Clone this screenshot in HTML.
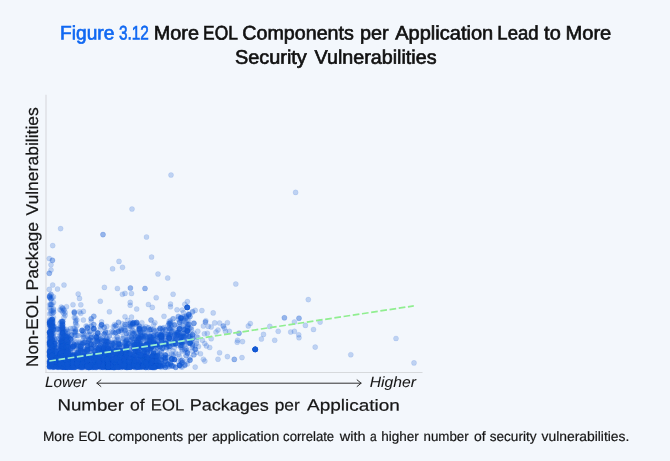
<!DOCTYPE html>
<html><head><meta charset="utf-8"><title>Figure 3.12</title>
<style>
html,body{margin:0;padding:0;background:#f3f7fc;}
svg{display:block;font-family:"Liberation Sans",sans-serif;will-change:transform;}
.ttl{fill:#111;stroke:#111;stroke-width:0.65px;}
.ttl.b{fill:#1068f2;stroke:#1068f2;}
.lab{fill:#161616;stroke:#161616;stroke-width:0.2px;}
.lab.it{stroke-width:0.05px;}
text{text-rendering:geometricPrecision;}
</style></head>
<body>
<svg width="670" height="461" viewBox="0 0 670 461">
<rect width="670" height="461" fill="#f3f7fc"/>
<path d="M46 94.8V373" stroke="#dcdee2" stroke-width="1.3" fill="none"/>
<path d="M45.35 372.5H422.5" stroke="#d6d9dc" stroke-width="1" fill="none"/>
<g fill="#1259d3" fill-opacity="0.235" stroke="#1259d3" stroke-opacity="0.13" stroke-width="0.7"><circle cx="171.0" cy="175.0" r="2.55"/><circle cx="132.0" cy="209.0" r="2.55"/><circle cx="60.6" cy="228.6" r="2.55"/><circle cx="103.0" cy="234.6" r="2.55"/><circle cx="103.0" cy="234.6" r="2.55"/><circle cx="146.5" cy="237.0" r="2.55"/><circle cx="52.7" cy="245.6" r="2.55"/><circle cx="151.6" cy="257.0" r="2.55"/><circle cx="49.3" cy="258.6" r="2.55"/><circle cx="52.4" cy="260.3" r="2.55"/><circle cx="52.4" cy="260.3" r="2.55"/><circle cx="119.0" cy="261.4" r="2.55"/><circle cx="51.0" cy="264.8" r="2.55"/><circle cx="122.5" cy="267.3" r="2.55"/><circle cx="112.6" cy="268.8" r="2.55"/><circle cx="51.0" cy="270.0" r="2.55"/><circle cx="49.3" cy="273.3" r="2.55"/><circle cx="49.3" cy="273.3" r="2.55"/><circle cx="158.0" cy="274.0" r="2.55"/><circle cx="167.7" cy="278.0" r="2.55"/><circle cx="52.7" cy="285.0" r="2.55"/><circle cx="64.0" cy="285.0" r="2.55"/><circle cx="104.4" cy="287.4" r="2.55"/><circle cx="117.4" cy="288.5" r="2.55"/><circle cx="130.4" cy="288.0" r="2.55"/><circle cx="130.4" cy="288.0" r="2.55"/><circle cx="145.0" cy="288.5" r="2.55"/><circle cx="145.0" cy="288.5" r="2.55"/><circle cx="57.5" cy="289.0" r="2.55"/><circle cx="49.3" cy="289.4" r="2.55"/><circle cx="295.6" cy="192.4" r="2.55"/><circle cx="235.8" cy="284.0" r="2.55"/><circle cx="308.3" cy="299.6" r="2.55"/><circle cx="187.2" cy="307.4" r="2.55"/><circle cx="187.2" cy="307.4" r="2.55"/><circle cx="187.2" cy="307.4" r="2.55"/><circle cx="187.2" cy="307.4" r="2.55"/><circle cx="187.2" cy="307.4" r="2.55"/><circle cx="187.2" cy="307.4" r="2.55"/><circle cx="187.2" cy="307.4" r="2.55"/><circle cx="187.2" cy="307.4" r="2.55"/><circle cx="188.8" cy="314.9" r="2.55"/><circle cx="188.8" cy="314.9" r="2.55"/><circle cx="188.8" cy="314.9" r="2.55"/><circle cx="188.8" cy="314.9" r="2.55"/><circle cx="195.2" cy="310.4" r="2.55"/><circle cx="201.9" cy="310.6" r="2.55"/><circle cx="213.2" cy="312.9" r="2.55"/><circle cx="181.0" cy="318.0" r="2.55"/><circle cx="181.0" cy="318.0" r="2.55"/><circle cx="181.0" cy="318.0" r="2.55"/><circle cx="181.0" cy="318.0" r="2.55"/><circle cx="181.0" cy="318.0" r="2.55"/><circle cx="181.0" cy="318.0" r="2.55"/><circle cx="284.4" cy="317.8" r="2.55"/><circle cx="284.4" cy="317.8" r="2.55"/><circle cx="299.0" cy="318.2" r="2.55"/><circle cx="299.0" cy="318.2" r="2.55"/><circle cx="205.4" cy="322.0" r="2.55"/><circle cx="205.4" cy="322.0" r="2.55"/><circle cx="205.8" cy="320.7" r="2.55"/><circle cx="214.7" cy="322.9" r="2.55"/><circle cx="219.6" cy="323.0" r="2.55"/><circle cx="227.4" cy="322.7" r="2.55"/><circle cx="250.3" cy="323.5" r="2.55"/><circle cx="248.3" cy="326.0" r="2.55"/><circle cx="294.4" cy="322.0" r="2.55"/><circle cx="203.4" cy="326.0" r="2.55"/><circle cx="208.3" cy="326.4" r="2.55"/><circle cx="211.2" cy="327.0" r="2.55"/><circle cx="223.3" cy="326.0" r="2.55"/><circle cx="223.3" cy="326.0" r="2.55"/><circle cx="224.5" cy="328.3" r="2.55"/><circle cx="269.8" cy="326.4" r="2.55"/><circle cx="305.4" cy="325.4" r="2.55"/><circle cx="187.2" cy="330.9" r="2.55"/><circle cx="187.2" cy="330.9" r="2.55"/><circle cx="187.2" cy="330.9" r="2.55"/><circle cx="187.2" cy="330.9" r="2.55"/><circle cx="187.2" cy="330.9" r="2.55"/><circle cx="187.2" cy="330.9" r="2.55"/><circle cx="187.2" cy="330.9" r="2.55"/><circle cx="187.2" cy="330.9" r="2.55"/><circle cx="218.0" cy="330.0" r="2.55"/><circle cx="216.0" cy="332.0" r="2.55"/><circle cx="225.5" cy="331.3" r="2.55"/><circle cx="229.4" cy="331.3" r="2.55"/><circle cx="278.2" cy="331.3" r="2.55"/><circle cx="290.7" cy="332.0" r="2.55"/><circle cx="294.4" cy="331.3" r="2.55"/><circle cx="239.0" cy="333.2" r="2.55"/><circle cx="239.0" cy="333.2" r="2.55"/><circle cx="263.5" cy="334.4" r="2.55"/><circle cx="298.7" cy="334.8" r="2.55"/><circle cx="299.0" cy="337.7" r="2.55"/><circle cx="204.4" cy="333.8" r="2.55"/><circle cx="207.3" cy="333.2" r="2.55"/><circle cx="196.6" cy="336.7" r="2.55"/><circle cx="211.2" cy="338.7" r="2.55"/><circle cx="261.4" cy="339.0" r="2.55"/><circle cx="274.7" cy="340.2" r="2.55"/><circle cx="237.6" cy="340.2" r="2.55"/><circle cx="237.2" cy="342.2" r="2.55"/><circle cx="242.5" cy="341.6" r="2.55"/><circle cx="202.4" cy="340.2" r="2.55"/><circle cx="204.8" cy="343.6" r="2.55"/><circle cx="206.4" cy="345.9" r="2.55"/><circle cx="209.7" cy="347.5" r="2.55"/><circle cx="198.5" cy="346.5" r="2.55"/><circle cx="192.1" cy="347.5" r="2.55"/><circle cx="255.2" cy="349.4" r="2.55"/><circle cx="255.2" cy="349.4" r="2.55"/><circle cx="255.2" cy="349.4" r="2.55"/><circle cx="255.2" cy="349.4" r="2.55"/><circle cx="255.2" cy="349.4" r="2.55"/><circle cx="255.2" cy="349.4" r="2.55"/><circle cx="255.2" cy="349.4" r="2.55"/><circle cx="255.2" cy="349.4" r="2.55"/><circle cx="255.2" cy="349.4" r="2.55"/><circle cx="255.2" cy="349.4" r="2.55"/><circle cx="255.2" cy="349.4" r="2.55"/><circle cx="255.2" cy="349.4" r="2.55"/><circle cx="255.2" cy="349.4" r="2.55"/><circle cx="255.2" cy="349.4" r="2.55"/><circle cx="219.6" cy="352.7" r="2.55"/><circle cx="200.5" cy="353.7" r="2.55"/><circle cx="227.4" cy="356.6" r="2.55"/><circle cx="242.0" cy="357.6" r="2.55"/><circle cx="234.3" cy="359.4" r="2.55"/><circle cx="234.3" cy="359.4" r="2.55"/><circle cx="218.0" cy="359.2" r="2.55"/><circle cx="203.4" cy="359.2" r="2.55"/><circle cx="204.8" cy="361.1" r="2.55"/><circle cx="187.2" cy="361.1" r="2.55"/><circle cx="320.1" cy="322.1" r="2.55"/><circle cx="313.5" cy="329.5" r="2.55"/><circle cx="315.2" cy="347.1" r="2.55"/><circle cx="350.8" cy="354.7" r="2.55"/><circle cx="396.0" cy="338.5" r="2.55"/><circle cx="414.0" cy="362.9" r="2.55"/><circle cx="97.7" cy="359.9" r="2.55"/><circle cx="60.0" cy="363.5" r="2.55"/><circle cx="58.7" cy="367.2" r="2.55"/><circle cx="113.3" cy="366.9" r="2.55"/><circle cx="112.0" cy="366.6" r="2.55"/><circle cx="82.1" cy="344.4" r="2.55"/><circle cx="82.1" cy="344.4" r="2.55"/><circle cx="134.1" cy="345.1" r="2.55"/><circle cx="56.1" cy="364.4" r="2.55"/><circle cx="56.1" cy="364.4" r="2.55"/><circle cx="56.1" cy="364.4" r="2.55"/><circle cx="56.1" cy="364.4" r="2.55"/><circle cx="70.4" cy="364.4" r="2.55"/><circle cx="135.4" cy="364.7" r="2.55"/><circle cx="135.4" cy="364.7" r="2.55"/><circle cx="130.2" cy="367.1" r="2.55"/><circle cx="79.5" cy="363.1" r="2.55"/><circle cx="96.4" cy="363.1" r="2.55"/><circle cx="93.8" cy="358.7" r="2.55"/><circle cx="93.8" cy="358.7" r="2.55"/><circle cx="93.8" cy="358.7" r="2.55"/><circle cx="86.0" cy="361.8" r="2.55"/><circle cx="86.0" cy="361.8" r="2.55"/><circle cx="86.0" cy="361.8" r="2.55"/><circle cx="86.0" cy="361.8" r="2.55"/><circle cx="86.0" cy="361.8" r="2.55"/><circle cx="92.5" cy="366.6" r="2.55"/><circle cx="92.5" cy="366.6" r="2.55"/><circle cx="110.7" cy="366.4" r="2.55"/><circle cx="121.1" cy="360.7" r="2.55"/><circle cx="135.4" cy="356.5" r="2.55"/><circle cx="147.1" cy="360.2" r="2.55"/><circle cx="106.8" cy="367.3" r="2.55"/><circle cx="117.2" cy="366.7" r="2.55"/><circle cx="117.2" cy="366.7" r="2.55"/><circle cx="58.7" cy="366.3" r="2.55"/><circle cx="86.0" cy="351.8" r="2.55"/><circle cx="61.3" cy="360.5" r="2.55"/><circle cx="110.7" cy="353.3" r="2.55"/><circle cx="110.7" cy="353.3" r="2.55"/><circle cx="110.7" cy="353.3" r="2.55"/><circle cx="110.7" cy="353.3" r="2.55"/><circle cx="110.7" cy="353.3" r="2.55"/><circle cx="75.6" cy="365.3" r="2.55"/><circle cx="75.6" cy="365.3" r="2.55"/><circle cx="121.1" cy="365.6" r="2.55"/><circle cx="121.1" cy="365.6" r="2.55"/><circle cx="49.6" cy="363.4" r="2.55"/><circle cx="151.0" cy="361.7" r="2.55"/><circle cx="151.0" cy="361.7" r="2.55"/><circle cx="151.0" cy="361.7" r="2.55"/><circle cx="149.7" cy="353.7" r="2.55"/><circle cx="108.1" cy="360.7" r="2.55"/><circle cx="58.7" cy="365.4" r="2.55"/><circle cx="58.7" cy="365.4" r="2.55"/><circle cx="58.7" cy="365.4" r="2.55"/><circle cx="73.0" cy="367.1" r="2.55"/><circle cx="49.6" cy="366.5" r="2.55"/><circle cx="49.6" cy="366.5" r="2.55"/><circle cx="49.6" cy="366.5" r="2.55"/><circle cx="49.6" cy="366.5" r="2.55"/><circle cx="102.9" cy="353.1" r="2.55"/><circle cx="140.6" cy="365.8" r="2.55"/><circle cx="140.6" cy="365.8" r="2.55"/><circle cx="140.6" cy="365.8" r="2.55"/><circle cx="140.6" cy="365.8" r="2.55"/><circle cx="140.6" cy="365.8" r="2.55"/><circle cx="100.3" cy="366.6" r="2.55"/><circle cx="100.3" cy="366.6" r="2.55"/><circle cx="118.5" cy="366.9" r="2.55"/><circle cx="118.5" cy="366.9" r="2.55"/><circle cx="118.5" cy="366.9" r="2.55"/><circle cx="65.2" cy="364.9" r="2.55"/><circle cx="65.2" cy="364.9" r="2.55"/><circle cx="53.5" cy="360.7" r="2.55"/><circle cx="53.5" cy="360.7" r="2.55"/><circle cx="53.5" cy="360.7" r="2.55"/><circle cx="53.5" cy="360.7" r="2.55"/><circle cx="53.5" cy="360.7" r="2.55"/><circle cx="71.7" cy="367.3" r="2.55"/><circle cx="88.6" cy="366.1" r="2.55"/><circle cx="88.6" cy="366.1" r="2.55"/><circle cx="82.1" cy="334.7" r="2.55"/><circle cx="83.4" cy="364.1" r="2.55"/><circle cx="53.5" cy="364.6" r="2.55"/><circle cx="87.3" cy="343.7" r="2.55"/><circle cx="102.9" cy="365.7" r="2.55"/><circle cx="102.9" cy="365.7" r="2.55"/><circle cx="102.9" cy="365.7" r="2.55"/><circle cx="78.2" cy="359.7" r="2.55"/><circle cx="78.2" cy="359.7" r="2.55"/><circle cx="78.2" cy="359.7" r="2.55"/><circle cx="78.2" cy="359.7" r="2.55"/><circle cx="78.2" cy="359.7" r="2.55"/><circle cx="119.8" cy="357.5" r="2.55"/><circle cx="119.8" cy="357.5" r="2.55"/><circle cx="62.6" cy="346.6" r="2.55"/><circle cx="62.6" cy="346.6" r="2.55"/><circle cx="119.8" cy="357.8" r="2.55"/><circle cx="99.0" cy="342.1" r="2.55"/><circle cx="108.1" cy="347.8" r="2.55"/><circle cx="156.2" cy="366.2" r="2.55"/><circle cx="156.2" cy="366.2" r="2.55"/><circle cx="156.2" cy="366.2" r="2.55"/><circle cx="71.7" cy="353.9" r="2.55"/><circle cx="71.7" cy="334.9" r="2.55"/><circle cx="71.7" cy="334.9" r="2.55"/><circle cx="147.1" cy="362.7" r="2.55"/><circle cx="69.1" cy="337.8" r="2.55"/><circle cx="145.8" cy="351.2" r="2.55"/><circle cx="113.3" cy="356.1" r="2.55"/><circle cx="80.8" cy="364.8" r="2.55"/><circle cx="80.8" cy="364.8" r="2.55"/><circle cx="80.8" cy="364.8" r="2.55"/><circle cx="80.8" cy="364.8" r="2.55"/><circle cx="84.7" cy="365.2" r="2.55"/><circle cx="84.7" cy="365.2" r="2.55"/><circle cx="112.0" cy="351.6" r="2.55"/><circle cx="112.0" cy="351.6" r="2.55"/><circle cx="101.6" cy="361.4" r="2.55"/><circle cx="127.6" cy="367.4" r="2.55"/><circle cx="127.6" cy="367.4" r="2.55"/><circle cx="127.6" cy="367.4" r="2.55"/><circle cx="114.6" cy="367.5" r="2.55"/><circle cx="114.6" cy="367.5" r="2.55"/><circle cx="114.6" cy="367.5" r="2.55"/><circle cx="119.8" cy="362.4" r="2.55"/><circle cx="97.7" cy="361.7" r="2.55"/><circle cx="165.3" cy="360.8" r="2.55"/><circle cx="165.3" cy="360.8" r="2.55"/><circle cx="86.0" cy="356.2" r="2.55"/><circle cx="86.0" cy="356.2" r="2.55"/><circle cx="86.0" cy="356.2" r="2.55"/><circle cx="86.0" cy="356.2" r="2.55"/><circle cx="86.0" cy="356.2" r="2.55"/><circle cx="86.0" cy="356.2" r="2.55"/><circle cx="125.0" cy="358.9" r="2.55"/><circle cx="125.0" cy="358.9" r="2.55"/><circle cx="139.3" cy="363.2" r="2.55"/><circle cx="139.3" cy="363.2" r="2.55"/><circle cx="139.3" cy="363.2" r="2.55"/><circle cx="152.3" cy="362.9" r="2.55"/><circle cx="67.8" cy="366.9" r="2.55"/><circle cx="84.7" cy="359.0" r="2.55"/><circle cx="73.0" cy="358.6" r="2.55"/><circle cx="70.4" cy="339.0" r="2.55"/><circle cx="70.4" cy="339.0" r="2.55"/><circle cx="70.4" cy="339.0" r="2.55"/><circle cx="82.1" cy="363.5" r="2.55"/><circle cx="113.3" cy="364.8" r="2.55"/><circle cx="78.2" cy="357.3" r="2.55"/><circle cx="78.2" cy="357.3" r="2.55"/><circle cx="52.2" cy="362.3" r="2.55"/><circle cx="52.2" cy="358.7" r="2.55"/><circle cx="125.0" cy="342.3" r="2.55"/><circle cx="65.2" cy="367.2" r="2.55"/><circle cx="65.2" cy="367.2" r="2.55"/><circle cx="69.1" cy="347.1" r="2.55"/><circle cx="71.7" cy="360.5" r="2.55"/><circle cx="152.3" cy="367.0" r="2.55"/><circle cx="151.0" cy="367.0" r="2.55"/><circle cx="167.9" cy="353.6" r="2.55"/><circle cx="60.0" cy="362.2" r="2.55"/><circle cx="99.0" cy="349.0" r="2.55"/><circle cx="99.0" cy="349.0" r="2.55"/><circle cx="88.6" cy="361.9" r="2.55"/><circle cx="84.7" cy="366.1" r="2.55"/><circle cx="57.4" cy="364.2" r="2.55"/><circle cx="57.4" cy="364.2" r="2.55"/><circle cx="95.1" cy="365.0" r="2.55"/><circle cx="123.7" cy="364.9" r="2.55"/><circle cx="52.2" cy="367.4" r="2.55"/><circle cx="76.9" cy="345.6" r="2.55"/><circle cx="65.2" cy="362.7" r="2.55"/><circle cx="122.4" cy="364.5" r="2.55"/><circle cx="122.4" cy="364.5" r="2.55"/><circle cx="100.3" cy="358.8" r="2.55"/><circle cx="143.2" cy="364.9" r="2.55"/><circle cx="57.4" cy="366.8" r="2.55"/><circle cx="57.4" cy="366.8" r="2.55"/><circle cx="158.8" cy="365.7" r="2.55"/><circle cx="62.6" cy="349.7" r="2.55"/><circle cx="62.6" cy="349.7" r="2.55"/><circle cx="148.4" cy="365.8" r="2.55"/><circle cx="148.4" cy="365.8" r="2.55"/><circle cx="92.5" cy="366.2" r="2.55"/><circle cx="92.5" cy="366.2" r="2.55"/><circle cx="115.9" cy="346.6" r="2.55"/><circle cx="86.0" cy="364.7" r="2.55"/><circle cx="86.0" cy="364.7" r="2.55"/><circle cx="101.6" cy="364.1" r="2.55"/><circle cx="119.8" cy="366.1" r="2.55"/><circle cx="123.7" cy="365.6" r="2.55"/><circle cx="62.6" cy="367.1" r="2.55"/><circle cx="62.6" cy="367.1" r="2.55"/><circle cx="62.6" cy="367.1" r="2.55"/><circle cx="62.6" cy="367.1" r="2.55"/><circle cx="53.5" cy="365.1" r="2.55"/><circle cx="53.5" cy="365.1" r="2.55"/><circle cx="53.5" cy="365.1" r="2.55"/><circle cx="135.4" cy="359.2" r="2.55"/><circle cx="97.7" cy="366.3" r="2.55"/><circle cx="97.7" cy="366.3" r="2.55"/><circle cx="56.1" cy="347.6" r="2.55"/><circle cx="56.1" cy="347.6" r="2.55"/><circle cx="141.9" cy="357.5" r="2.55"/><circle cx="141.9" cy="357.5" r="2.55"/><circle cx="141.9" cy="357.5" r="2.55"/><circle cx="70.4" cy="361.6" r="2.55"/><circle cx="152.3" cy="367.2" r="2.55"/><circle cx="69.1" cy="366.6" r="2.55"/><circle cx="69.1" cy="366.6" r="2.55"/><circle cx="141.9" cy="360.7" r="2.55"/><circle cx="141.9" cy="360.7" r="2.55"/><circle cx="141.9" cy="360.7" r="2.55"/><circle cx="121.1" cy="357.7" r="2.55"/><circle cx="128.9" cy="367.1" r="2.55"/><circle cx="158.8" cy="366.3" r="2.55"/><circle cx="88.6" cy="365.8" r="2.55"/><circle cx="122.4" cy="363.5" r="2.55"/><circle cx="122.4" cy="363.5" r="2.55"/><circle cx="122.4" cy="363.5" r="2.55"/><circle cx="140.6" cy="367.0" r="2.55"/><circle cx="140.6" cy="367.0" r="2.55"/><circle cx="140.6" cy="367.0" r="2.55"/><circle cx="140.6" cy="367.0" r="2.55"/><circle cx="71.7" cy="356.2" r="2.55"/><circle cx="95.1" cy="367.4" r="2.55"/><circle cx="95.1" cy="367.4" r="2.55"/><circle cx="58.7" cy="357.6" r="2.55"/><circle cx="92.5" cy="362.9" r="2.55"/><circle cx="118.5" cy="353.4" r="2.55"/><circle cx="118.5" cy="353.4" r="2.55"/><circle cx="118.5" cy="353.4" r="2.55"/><circle cx="79.5" cy="345.6" r="2.55"/><circle cx="52.2" cy="352.1" r="2.55"/><circle cx="88.6" cy="345.6" r="2.55"/><circle cx="80.8" cy="366.3" r="2.55"/><circle cx="80.8" cy="366.3" r="2.55"/><circle cx="80.8" cy="366.3" r="2.55"/><circle cx="69.1" cy="361.5" r="2.55"/><circle cx="69.1" cy="361.5" r="2.55"/><circle cx="83.4" cy="362.3" r="2.55"/><circle cx="83.4" cy="362.3" r="2.55"/><circle cx="83.4" cy="362.3" r="2.55"/><circle cx="83.4" cy="362.3" r="2.55"/><circle cx="53.5" cy="361.4" r="2.55"/><circle cx="53.5" cy="361.4" r="2.55"/><circle cx="115.9" cy="366.5" r="2.55"/><circle cx="100.3" cy="354.6" r="2.55"/><circle cx="49.6" cy="351.1" r="2.55"/><circle cx="67.8" cy="356.9" r="2.55"/><circle cx="136.7" cy="364.1" r="2.55"/><circle cx="136.7" cy="364.1" r="2.55"/><circle cx="89.9" cy="366.7" r="2.55"/><circle cx="89.9" cy="366.7" r="2.55"/><circle cx="89.9" cy="366.7" r="2.55"/><circle cx="88.6" cy="365.9" r="2.55"/><circle cx="104.2" cy="352.7" r="2.55"/><circle cx="104.2" cy="352.7" r="2.55"/><circle cx="104.2" cy="352.7" r="2.55"/><circle cx="104.2" cy="352.7" r="2.55"/><circle cx="130.2" cy="367.2" r="2.55"/><circle cx="91.2" cy="348.1" r="2.55"/><circle cx="67.8" cy="364.0" r="2.55"/><circle cx="93.8" cy="340.0" r="2.55"/><circle cx="87.3" cy="364.8" r="2.55"/><circle cx="131.5" cy="366.4" r="2.55"/><circle cx="131.5" cy="366.4" r="2.55"/><circle cx="73.0" cy="348.1" r="2.55"/><circle cx="122.4" cy="353.1" r="2.55"/><circle cx="122.4" cy="353.1" r="2.55"/><circle cx="70.4" cy="366.7" r="2.55"/><circle cx="100.3" cy="365.6" r="2.55"/><circle cx="87.3" cy="350.9" r="2.55"/><circle cx="87.3" cy="350.9" r="2.55"/><circle cx="110.7" cy="364.4" r="2.55"/><circle cx="99.0" cy="365.2" r="2.55"/><circle cx="123.7" cy="355.5" r="2.55"/><circle cx="80.8" cy="365.3" r="2.55"/><circle cx="108.1" cy="346.9" r="2.55"/><circle cx="52.2" cy="356.4" r="2.55"/><circle cx="52.2" cy="356.4" r="2.55"/><circle cx="136.7" cy="364.5" r="2.55"/><circle cx="86.0" cy="366.2" r="2.55"/><circle cx="126.3" cy="350.5" r="2.55"/><circle cx="131.5" cy="358.4" r="2.55"/><circle cx="131.5" cy="358.4" r="2.55"/><circle cx="83.4" cy="359.5" r="2.55"/><circle cx="93.8" cy="365.4" r="2.55"/><circle cx="143.2" cy="366.8" r="2.55"/><circle cx="60.0" cy="359.8" r="2.55"/><circle cx="106.8" cy="361.3" r="2.55"/><circle cx="106.8" cy="361.3" r="2.55"/><circle cx="50.9" cy="361.9" r="2.55"/><circle cx="84.7" cy="342.4" r="2.55"/><circle cx="84.7" cy="342.4" r="2.55"/><circle cx="84.7" cy="342.4" r="2.55"/><circle cx="153.6" cy="367.2" r="2.55"/><circle cx="123.7" cy="364.2" r="2.55"/><circle cx="87.3" cy="347.8" r="2.55"/><circle cx="87.3" cy="347.8" r="2.55"/><circle cx="83.4" cy="364.3" r="2.55"/><circle cx="83.4" cy="364.3" r="2.55"/><circle cx="112.0" cy="366.0" r="2.55"/><circle cx="112.0" cy="366.0" r="2.55"/><circle cx="112.0" cy="366.0" r="2.55"/><circle cx="123.7" cy="346.3" r="2.55"/><circle cx="123.7" cy="346.3" r="2.55"/><circle cx="123.7" cy="346.3" r="2.55"/><circle cx="95.1" cy="365.6" r="2.55"/><circle cx="82.1" cy="364.8" r="2.55"/><circle cx="76.9" cy="363.2" r="2.55"/><circle cx="71.7" cy="365.5" r="2.55"/><circle cx="57.4" cy="363.1" r="2.55"/><circle cx="76.9" cy="356.4" r="2.55"/><circle cx="54.8" cy="363.2" r="2.55"/><circle cx="54.8" cy="363.2" r="2.55"/><circle cx="54.8" cy="363.2" r="2.55"/><circle cx="104.2" cy="366.2" r="2.55"/><circle cx="104.2" cy="366.2" r="2.55"/><circle cx="49.6" cy="363.6" r="2.55"/><circle cx="101.6" cy="355.5" r="2.55"/><circle cx="113.3" cy="363.3" r="2.55"/><circle cx="104.2" cy="366.0" r="2.55"/><circle cx="102.9" cy="367.3" r="2.55"/><circle cx="102.9" cy="367.3" r="2.55"/><circle cx="102.9" cy="367.3" r="2.55"/><circle cx="110.7" cy="357.8" r="2.55"/><circle cx="56.1" cy="366.9" r="2.55"/><circle cx="56.1" cy="366.9" r="2.55"/><circle cx="140.6" cy="359.9" r="2.55"/><circle cx="96.4" cy="367.5" r="2.55"/><circle cx="53.5" cy="361.7" r="2.55"/><circle cx="53.5" cy="361.7" r="2.55"/><circle cx="106.8" cy="363.7" r="2.55"/><circle cx="76.9" cy="356.7" r="2.55"/><circle cx="139.3" cy="365.2" r="2.55"/><circle cx="139.3" cy="365.2" r="2.55"/><circle cx="102.9" cy="366.9" r="2.55"/><circle cx="78.2" cy="365.2" r="2.55"/><circle cx="78.2" cy="365.2" r="2.55"/><circle cx="58.7" cy="360.4" r="2.55"/><circle cx="97.7" cy="352.1" r="2.55"/><circle cx="62.6" cy="361.5" r="2.55"/><circle cx="153.6" cy="365.6" r="2.55"/><circle cx="153.6" cy="365.6" r="2.55"/><circle cx="110.7" cy="360.1" r="2.55"/><circle cx="110.7" cy="360.1" r="2.55"/><circle cx="147.1" cy="356.5" r="2.55"/><circle cx="92.5" cy="364.1" r="2.55"/><circle cx="92.5" cy="364.1" r="2.55"/><circle cx="158.8" cy="365.1" r="2.55"/><circle cx="158.8" cy="365.1" r="2.55"/><circle cx="158.8" cy="365.1" r="2.55"/><circle cx="86.0" cy="350.9" r="2.55"/><circle cx="135.4" cy="364.5" r="2.55"/><circle cx="83.4" cy="359.3" r="2.55"/><circle cx="83.4" cy="359.3" r="2.55"/><circle cx="83.4" cy="359.3" r="2.55"/><circle cx="119.8" cy="356.1" r="2.55"/><circle cx="92.5" cy="365.9" r="2.55"/><circle cx="92.5" cy="365.9" r="2.55"/><circle cx="87.3" cy="345.4" r="2.55"/><circle cx="87.3" cy="345.4" r="2.55"/><circle cx="87.3" cy="345.4" r="2.55"/><circle cx="65.2" cy="359.2" r="2.55"/><circle cx="65.2" cy="359.2" r="2.55"/><circle cx="65.2" cy="359.2" r="2.55"/><circle cx="82.1" cy="366.3" r="2.55"/><circle cx="82.1" cy="366.3" r="2.55"/><circle cx="79.5" cy="360.2" r="2.55"/><circle cx="79.5" cy="360.2" r="2.55"/><circle cx="145.8" cy="367.4" r="2.55"/><circle cx="145.8" cy="367.4" r="2.55"/><circle cx="145.8" cy="367.4" r="2.55"/><circle cx="97.7" cy="366.0" r="2.55"/><circle cx="97.7" cy="366.0" r="2.55"/><circle cx="97.7" cy="366.0" r="2.55"/><circle cx="97.7" cy="366.0" r="2.55"/><circle cx="95.1" cy="356.0" r="2.55"/><circle cx="95.1" cy="356.0" r="2.55"/><circle cx="95.1" cy="356.0" r="2.55"/><circle cx="130.2" cy="366.9" r="2.55"/><circle cx="108.1" cy="360.6" r="2.55"/><circle cx="62.6" cy="357.2" r="2.55"/><circle cx="109.4" cy="365.1" r="2.55"/><circle cx="132.8" cy="364.3" r="2.55"/><circle cx="102.9" cy="358.5" r="2.55"/><circle cx="102.9" cy="358.5" r="2.55"/><circle cx="79.5" cy="349.1" r="2.55"/><circle cx="112.0" cy="364.1" r="2.55"/><circle cx="73.0" cy="360.9" r="2.55"/><circle cx="73.0" cy="360.9" r="2.55"/><circle cx="73.0" cy="360.9" r="2.55"/><circle cx="62.6" cy="363.5" r="2.55"/><circle cx="62.6" cy="363.5" r="2.55"/><circle cx="123.7" cy="365.5" r="2.55"/><circle cx="65.2" cy="353.5" r="2.55"/><circle cx="65.2" cy="353.5" r="2.55"/><circle cx="65.2" cy="353.5" r="2.55"/><circle cx="67.8" cy="336.2" r="2.55"/><circle cx="67.8" cy="336.2" r="2.55"/><circle cx="121.1" cy="351.4" r="2.55"/><circle cx="121.1" cy="351.4" r="2.55"/><circle cx="106.8" cy="360.9" r="2.55"/><circle cx="106.8" cy="360.9" r="2.55"/><circle cx="106.8" cy="360.9" r="2.55"/><circle cx="109.4" cy="355.7" r="2.55"/><circle cx="109.4" cy="355.7" r="2.55"/><circle cx="109.4" cy="355.7" r="2.55"/><circle cx="76.9" cy="363.4" r="2.55"/><circle cx="126.3" cy="366.7" r="2.55"/><circle cx="86.0" cy="350.0" r="2.55"/><circle cx="86.0" cy="350.0" r="2.55"/><circle cx="56.1" cy="354.8" r="2.55"/><circle cx="54.8" cy="366.4" r="2.55"/><circle cx="138.0" cy="361.6" r="2.55"/><circle cx="95.1" cy="361.1" r="2.55"/><circle cx="95.1" cy="361.1" r="2.55"/><circle cx="95.1" cy="361.1" r="2.55"/><circle cx="95.1" cy="361.1" r="2.55"/><circle cx="95.1" cy="361.1" r="2.55"/><circle cx="112.0" cy="363.6" r="2.55"/><circle cx="114.6" cy="361.3" r="2.55"/><circle cx="122.4" cy="358.6" r="2.55"/><circle cx="122.4" cy="358.6" r="2.55"/><circle cx="122.4" cy="358.6" r="2.55"/><circle cx="122.4" cy="358.6" r="2.55"/><circle cx="75.6" cy="366.6" r="2.55"/><circle cx="69.1" cy="366.7" r="2.55"/><circle cx="114.6" cy="367.2" r="2.55"/><circle cx="114.6" cy="367.2" r="2.55"/><circle cx="114.6" cy="367.2" r="2.55"/><circle cx="143.2" cy="359.6" r="2.55"/><circle cx="57.4" cy="363.3" r="2.55"/><circle cx="78.2" cy="362.1" r="2.55"/><circle cx="78.2" cy="362.1" r="2.55"/><circle cx="74.3" cy="345.7" r="2.55"/><circle cx="74.3" cy="345.7" r="2.55"/><circle cx="58.7" cy="355.1" r="2.55"/><circle cx="58.7" cy="355.1" r="2.55"/><circle cx="73.0" cy="364.9" r="2.55"/><circle cx="80.8" cy="361.9" r="2.55"/><circle cx="80.8" cy="361.9" r="2.55"/><circle cx="96.4" cy="366.0" r="2.55"/><circle cx="73.0" cy="358.2" r="2.55"/><circle cx="73.0" cy="358.2" r="2.55"/><circle cx="73.0" cy="358.2" r="2.55"/><circle cx="73.0" cy="358.2" r="2.55"/><circle cx="165.3" cy="361.2" r="2.55"/><circle cx="165.3" cy="361.2" r="2.55"/><circle cx="143.2" cy="355.1" r="2.55"/><circle cx="131.5" cy="354.7" r="2.55"/><circle cx="65.2" cy="359.0" r="2.55"/><circle cx="108.1" cy="365.4" r="2.55"/><circle cx="102.9" cy="363.4" r="2.55"/><circle cx="102.9" cy="363.4" r="2.55"/><circle cx="75.6" cy="367.1" r="2.55"/><circle cx="135.4" cy="365.3" r="2.55"/><circle cx="49.6" cy="366.0" r="2.55"/><circle cx="140.6" cy="363.2" r="2.55"/><circle cx="140.6" cy="363.2" r="2.55"/><circle cx="83.4" cy="367.3" r="2.55"/><circle cx="49.6" cy="366.5" r="2.55"/><circle cx="101.6" cy="361.4" r="2.55"/><circle cx="136.7" cy="361.6" r="2.55"/><circle cx="136.7" cy="361.6" r="2.55"/><circle cx="119.8" cy="350.3" r="2.55"/><circle cx="86.0" cy="366.7" r="2.55"/><circle cx="88.6" cy="359.7" r="2.55"/><circle cx="132.8" cy="361.3" r="2.55"/><circle cx="157.5" cy="352.8" r="2.55"/><circle cx="157.5" cy="352.8" r="2.55"/><circle cx="56.1" cy="362.8" r="2.55"/><circle cx="56.1" cy="362.8" r="2.55"/><circle cx="56.1" cy="362.8" r="2.55"/><circle cx="84.7" cy="355.8" r="2.55"/><circle cx="84.7" cy="355.8" r="2.55"/><circle cx="84.7" cy="355.8" r="2.55"/><circle cx="50.9" cy="342.0" r="2.55"/><circle cx="50.9" cy="342.0" r="2.55"/><circle cx="70.4" cy="359.7" r="2.55"/><circle cx="123.7" cy="357.4" r="2.55"/><circle cx="123.7" cy="357.4" r="2.55"/><circle cx="75.6" cy="364.6" r="2.55"/><circle cx="56.1" cy="353.9" r="2.55"/><circle cx="154.9" cy="356.0" r="2.55"/><circle cx="154.9" cy="356.0" r="2.55"/><circle cx="83.4" cy="365.4" r="2.55"/><circle cx="54.8" cy="355.1" r="2.55"/><circle cx="154.9" cy="362.4" r="2.55"/><circle cx="113.3" cy="362.7" r="2.55"/><circle cx="88.6" cy="342.1" r="2.55"/><circle cx="82.1" cy="367.4" r="2.55"/><circle cx="88.6" cy="357.2" r="2.55"/><circle cx="88.6" cy="357.2" r="2.55"/><circle cx="88.6" cy="357.2" r="2.55"/><circle cx="88.6" cy="357.2" r="2.55"/><circle cx="88.6" cy="357.2" r="2.55"/><circle cx="88.6" cy="357.2" r="2.55"/><circle cx="97.7" cy="364.6" r="2.55"/><circle cx="97.7" cy="364.6" r="2.55"/><circle cx="84.7" cy="359.8" r="2.55"/><circle cx="95.1" cy="360.4" r="2.55"/><circle cx="61.3" cy="366.1" r="2.55"/><circle cx="53.5" cy="343.7" r="2.55"/><circle cx="100.3" cy="367.3" r="2.55"/><circle cx="56.1" cy="358.5" r="2.55"/><circle cx="58.7" cy="363.5" r="2.55"/><circle cx="58.7" cy="363.5" r="2.55"/><circle cx="79.5" cy="367.2" r="2.55"/><circle cx="143.2" cy="366.9" r="2.55"/><circle cx="143.2" cy="366.9" r="2.55"/><circle cx="63.9" cy="365.5" r="2.55"/><circle cx="63.9" cy="365.5" r="2.55"/><circle cx="96.4" cy="367.3" r="2.55"/><circle cx="96.4" cy="367.3" r="2.55"/><circle cx="87.3" cy="357.9" r="2.55"/><circle cx="104.2" cy="344.5" r="2.55"/><circle cx="123.7" cy="361.7" r="2.55"/><circle cx="123.7" cy="361.7" r="2.55"/><circle cx="54.8" cy="362.3" r="2.55"/><circle cx="82.1" cy="366.8" r="2.55"/><circle cx="82.1" cy="366.8" r="2.55"/><circle cx="82.1" cy="366.8" r="2.55"/><circle cx="49.6" cy="354.6" r="2.55"/><circle cx="193.9" cy="354.8" r="2.55"/><circle cx="193.9" cy="354.8" r="2.55"/><circle cx="122.4" cy="366.3" r="2.55"/><circle cx="122.4" cy="366.3" r="2.55"/><circle cx="122.4" cy="366.3" r="2.55"/><circle cx="122.4" cy="366.3" r="2.55"/><circle cx="122.4" cy="366.3" r="2.55"/><circle cx="122.4" cy="366.3" r="2.55"/><circle cx="122.4" cy="356.6" r="2.55"/><circle cx="122.4" cy="356.6" r="2.55"/><circle cx="88.6" cy="365.0" r="2.55"/><circle cx="80.8" cy="362.1" r="2.55"/><circle cx="80.8" cy="362.1" r="2.55"/><circle cx="65.2" cy="366.8" r="2.55"/><circle cx="101.6" cy="364.0" r="2.55"/><circle cx="101.6" cy="364.0" r="2.55"/><circle cx="180.9" cy="361.1" r="2.55"/><circle cx="180.9" cy="361.1" r="2.55"/><circle cx="88.6" cy="362.2" r="2.55"/><circle cx="105.5" cy="365.7" r="2.55"/><circle cx="105.5" cy="365.7" r="2.55"/><circle cx="117.2" cy="358.6" r="2.55"/><circle cx="101.6" cy="366.3" r="2.55"/><circle cx="158.8" cy="363.2" r="2.55"/><circle cx="67.8" cy="349.2" r="2.55"/><circle cx="84.7" cy="364.7" r="2.55"/><circle cx="73.0" cy="365.2" r="2.55"/><circle cx="97.7" cy="366.2" r="2.55"/><circle cx="97.7" cy="366.2" r="2.55"/><circle cx="97.7" cy="341.0" r="2.55"/><circle cx="97.7" cy="341.0" r="2.55"/><circle cx="97.7" cy="341.0" r="2.55"/><circle cx="157.5" cy="347.3" r="2.55"/><circle cx="157.5" cy="347.3" r="2.55"/><circle cx="157.5" cy="347.3" r="2.55"/><circle cx="65.2" cy="332.1" r="2.55"/><circle cx="113.3" cy="360.9" r="2.55"/><circle cx="65.2" cy="363.3" r="2.55"/><circle cx="65.2" cy="363.3" r="2.55"/><circle cx="54.8" cy="353.4" r="2.55"/><circle cx="152.3" cy="361.4" r="2.55"/><circle cx="118.5" cy="361.7" r="2.55"/><circle cx="109.4" cy="351.6" r="2.55"/><circle cx="113.3" cy="358.5" r="2.55"/><circle cx="113.3" cy="358.5" r="2.55"/><circle cx="113.3" cy="358.5" r="2.55"/><circle cx="112.0" cy="359.1" r="2.55"/><circle cx="115.9" cy="361.2" r="2.55"/><circle cx="63.9" cy="354.4" r="2.55"/><circle cx="63.9" cy="354.4" r="2.55"/><circle cx="63.9" cy="354.4" r="2.55"/><circle cx="86.0" cy="362.9" r="2.55"/><circle cx="140.6" cy="360.8" r="2.55"/><circle cx="106.8" cy="342.6" r="2.55"/><circle cx="54.8" cy="365.9" r="2.55"/><circle cx="54.8" cy="365.9" r="2.55"/><circle cx="54.8" cy="365.9" r="2.55"/><circle cx="126.3" cy="362.4" r="2.55"/><circle cx="128.9" cy="363.2" r="2.55"/><circle cx="126.3" cy="349.8" r="2.55"/><circle cx="126.3" cy="349.8" r="2.55"/><circle cx="126.3" cy="349.8" r="2.55"/><circle cx="126.3" cy="349.8" r="2.55"/><circle cx="126.3" cy="349.8" r="2.55"/><circle cx="80.8" cy="363.6" r="2.55"/><circle cx="80.8" cy="363.6" r="2.55"/><circle cx="161.4" cy="341.3" r="2.55"/><circle cx="161.4" cy="341.3" r="2.55"/><circle cx="101.6" cy="365.3" r="2.55"/><circle cx="108.1" cy="363.9" r="2.55"/><circle cx="112.0" cy="364.6" r="2.55"/><circle cx="112.0" cy="364.6" r="2.55"/><circle cx="88.6" cy="357.3" r="2.55"/><circle cx="88.6" cy="357.3" r="2.55"/><circle cx="88.6" cy="357.3" r="2.55"/><circle cx="82.1" cy="363.6" r="2.55"/><circle cx="80.8" cy="355.7" r="2.55"/><circle cx="80.8" cy="355.7" r="2.55"/><circle cx="80.8" cy="355.7" r="2.55"/><circle cx="118.5" cy="365.9" r="2.55"/><circle cx="92.5" cy="366.5" r="2.55"/><circle cx="105.5" cy="363.7" r="2.55"/><circle cx="105.5" cy="363.7" r="2.55"/><circle cx="105.5" cy="363.7" r="2.55"/><circle cx="105.5" cy="363.7" r="2.55"/><circle cx="76.9" cy="357.2" r="2.55"/><circle cx="76.9" cy="357.2" r="2.55"/><circle cx="91.2" cy="364.8" r="2.55"/><circle cx="119.8" cy="361.2" r="2.55"/><circle cx="119.8" cy="361.2" r="2.55"/><circle cx="147.1" cy="351.7" r="2.55"/><circle cx="175.7" cy="353.1" r="2.55"/><circle cx="70.4" cy="359.1" r="2.55"/><circle cx="70.4" cy="359.1" r="2.55"/><circle cx="70.4" cy="359.1" r="2.55"/><circle cx="70.4" cy="359.1" r="2.55"/><circle cx="52.2" cy="340.2" r="2.55"/><circle cx="52.2" cy="340.2" r="2.55"/><circle cx="145.8" cy="366.9" r="2.55"/><circle cx="70.4" cy="355.0" r="2.55"/><circle cx="100.3" cy="351.0" r="2.55"/><circle cx="100.3" cy="351.0" r="2.55"/><circle cx="88.6" cy="366.4" r="2.55"/><circle cx="88.6" cy="366.4" r="2.55"/><circle cx="88.6" cy="366.4" r="2.55"/><circle cx="122.4" cy="363.7" r="2.55"/><circle cx="122.4" cy="363.7" r="2.55"/><circle cx="122.4" cy="363.7" r="2.55"/><circle cx="70.4" cy="361.8" r="2.55"/><circle cx="50.9" cy="361.8" r="2.55"/><circle cx="50.9" cy="361.8" r="2.55"/><circle cx="50.9" cy="361.8" r="2.55"/><circle cx="50.9" cy="361.8" r="2.55"/><circle cx="132.8" cy="356.5" r="2.55"/><circle cx="132.8" cy="356.5" r="2.55"/><circle cx="132.8" cy="356.5" r="2.55"/><circle cx="105.5" cy="345.3" r="2.55"/><circle cx="61.3" cy="358.6" r="2.55"/><circle cx="53.5" cy="357.2" r="2.55"/><circle cx="54.8" cy="358.7" r="2.55"/><circle cx="54.8" cy="358.7" r="2.55"/><circle cx="99.0" cy="364.3" r="2.55"/><circle cx="99.0" cy="364.3" r="2.55"/><circle cx="99.0" cy="364.3" r="2.55"/><circle cx="99.0" cy="364.3" r="2.55"/><circle cx="119.8" cy="358.3" r="2.55"/><circle cx="80.8" cy="363.2" r="2.55"/><circle cx="80.8" cy="363.2" r="2.55"/><circle cx="80.8" cy="363.2" r="2.55"/><circle cx="80.8" cy="363.2" r="2.55"/><circle cx="80.8" cy="363.2" r="2.55"/><circle cx="80.8" cy="363.2" r="2.55"/><circle cx="131.5" cy="365.4" r="2.55"/><circle cx="131.5" cy="365.4" r="2.55"/><circle cx="123.7" cy="363.2" r="2.55"/><circle cx="96.4" cy="361.1" r="2.55"/><circle cx="56.1" cy="348.0" r="2.55"/><circle cx="130.2" cy="365.4" r="2.55"/><circle cx="50.9" cy="344.6" r="2.55"/><circle cx="139.3" cy="358.2" r="2.55"/><circle cx="140.6" cy="360.3" r="2.55"/><circle cx="140.6" cy="360.3" r="2.55"/><circle cx="140.6" cy="360.3" r="2.55"/><circle cx="138.0" cy="366.1" r="2.55"/><circle cx="148.4" cy="358.9" r="2.55"/><circle cx="63.9" cy="367.2" r="2.55"/><circle cx="145.8" cy="357.1" r="2.55"/><circle cx="87.3" cy="363.3" r="2.55"/><circle cx="96.4" cy="360.1" r="2.55"/><circle cx="96.4" cy="360.1" r="2.55"/><circle cx="132.8" cy="366.7" r="2.55"/><circle cx="52.2" cy="359.4" r="2.55"/><circle cx="52.2" cy="359.4" r="2.55"/><circle cx="52.2" cy="359.4" r="2.55"/><circle cx="119.8" cy="366.8" r="2.55"/><circle cx="144.5" cy="366.5" r="2.55"/><circle cx="144.5" cy="366.5" r="2.55"/><circle cx="52.2" cy="357.1" r="2.55"/><circle cx="52.2" cy="357.1" r="2.55"/><circle cx="67.8" cy="366.7" r="2.55"/><circle cx="52.2" cy="365.0" r="2.55"/><circle cx="52.2" cy="365.0" r="2.55"/><circle cx="52.2" cy="365.0" r="2.55"/><circle cx="157.5" cy="366.6" r="2.55"/><circle cx="62.6" cy="356.8" r="2.55"/><circle cx="87.3" cy="357.9" r="2.55"/><circle cx="87.3" cy="357.9" r="2.55"/><circle cx="87.3" cy="357.9" r="2.55"/><circle cx="50.9" cy="358.0" r="2.55"/><circle cx="170.5" cy="362.6" r="2.55"/><circle cx="157.5" cy="355.1" r="2.55"/><circle cx="121.1" cy="364.7" r="2.55"/><circle cx="134.1" cy="360.7" r="2.55"/><circle cx="70.4" cy="363.7" r="2.55"/><circle cx="144.5" cy="364.3" r="2.55"/><circle cx="144.5" cy="364.3" r="2.55"/><circle cx="106.8" cy="347.8" r="2.55"/><circle cx="92.5" cy="340.6" r="2.55"/><circle cx="99.0" cy="340.4" r="2.55"/><circle cx="95.1" cy="351.5" r="2.55"/><circle cx="105.5" cy="361.2" r="2.55"/><circle cx="91.2" cy="365.2" r="2.55"/><circle cx="112.0" cy="356.4" r="2.55"/><circle cx="89.9" cy="355.2" r="2.55"/><circle cx="100.3" cy="361.8" r="2.55"/><circle cx="100.3" cy="361.8" r="2.55"/><circle cx="100.3" cy="361.8" r="2.55"/><circle cx="100.3" cy="361.8" r="2.55"/><circle cx="84.7" cy="358.7" r="2.55"/><circle cx="118.5" cy="365.7" r="2.55"/><circle cx="118.5" cy="365.7" r="2.55"/><circle cx="118.5" cy="365.7" r="2.55"/><circle cx="118.5" cy="365.7" r="2.55"/><circle cx="118.5" cy="365.7" r="2.55"/><circle cx="118.5" cy="365.7" r="2.55"/><circle cx="117.2" cy="357.1" r="2.55"/><circle cx="117.2" cy="357.1" r="2.55"/><circle cx="117.2" cy="357.1" r="2.55"/><circle cx="117.2" cy="357.1" r="2.55"/><circle cx="119.8" cy="366.2" r="2.55"/><circle cx="78.2" cy="357.8" r="2.55"/><circle cx="78.2" cy="357.8" r="2.55"/><circle cx="78.2" cy="357.8" r="2.55"/><circle cx="102.9" cy="363.9" r="2.55"/><circle cx="126.3" cy="367.2" r="2.55"/><circle cx="65.2" cy="354.2" r="2.55"/><circle cx="65.2" cy="354.2" r="2.55"/><circle cx="65.2" cy="354.2" r="2.55"/><circle cx="65.2" cy="354.2" r="2.55"/><circle cx="65.2" cy="354.2" r="2.55"/><circle cx="65.2" cy="354.2" r="2.55"/><circle cx="73.0" cy="364.0" r="2.55"/><circle cx="126.3" cy="367.3" r="2.55"/><circle cx="126.3" cy="367.3" r="2.55"/><circle cx="126.3" cy="367.3" r="2.55"/><circle cx="126.3" cy="367.3" r="2.55"/><circle cx="126.3" cy="367.3" r="2.55"/><circle cx="121.1" cy="365.6" r="2.55"/><circle cx="121.1" cy="365.6" r="2.55"/><circle cx="87.3" cy="365.8" r="2.55"/><circle cx="75.6" cy="367.1" r="2.55"/><circle cx="138.0" cy="366.7" r="2.55"/><circle cx="138.0" cy="366.7" r="2.55"/><circle cx="132.8" cy="348.7" r="2.55"/><circle cx="148.4" cy="363.9" r="2.55"/><circle cx="148.4" cy="363.9" r="2.55"/><circle cx="82.1" cy="365.2" r="2.55"/><circle cx="101.6" cy="351.0" r="2.55"/><circle cx="101.6" cy="351.0" r="2.55"/><circle cx="101.6" cy="351.0" r="2.55"/><circle cx="173.1" cy="354.9" r="2.55"/><circle cx="70.4" cy="344.2" r="2.55"/><circle cx="149.7" cy="362.1" r="2.55"/><circle cx="161.4" cy="364.0" r="2.55"/><circle cx="161.4" cy="364.0" r="2.55"/><circle cx="87.3" cy="362.5" r="2.55"/><circle cx="74.3" cy="366.2" r="2.55"/><circle cx="74.3" cy="366.2" r="2.55"/><circle cx="74.3" cy="366.2" r="2.55"/><circle cx="149.7" cy="359.9" r="2.55"/><circle cx="149.7" cy="359.9" r="2.55"/><circle cx="78.2" cy="346.5" r="2.55"/><circle cx="82.1" cy="351.7" r="2.55"/><circle cx="115.9" cy="350.6" r="2.55"/><circle cx="115.9" cy="350.6" r="2.55"/><circle cx="115.9" cy="350.6" r="2.55"/><circle cx="115.9" cy="350.6" r="2.55"/><circle cx="115.9" cy="350.6" r="2.55"/><circle cx="115.9" cy="356.5" r="2.55"/><circle cx="119.8" cy="366.5" r="2.55"/><circle cx="82.1" cy="357.7" r="2.55"/><circle cx="131.5" cy="355.2" r="2.55"/><circle cx="131.5" cy="355.2" r="2.55"/><circle cx="88.6" cy="366.2" r="2.55"/><circle cx="88.6" cy="366.2" r="2.55"/><circle cx="89.9" cy="364.4" r="2.55"/><circle cx="89.9" cy="364.4" r="2.55"/><circle cx="74.3" cy="364.4" r="2.55"/><circle cx="80.8" cy="364.8" r="2.55"/><circle cx="87.3" cy="364.1" r="2.55"/><circle cx="87.3" cy="364.1" r="2.55"/><circle cx="87.3" cy="364.1" r="2.55"/><circle cx="92.5" cy="367.1" r="2.55"/><circle cx="92.5" cy="367.1" r="2.55"/><circle cx="156.2" cy="343.9" r="2.55"/><circle cx="52.2" cy="363.7" r="2.55"/><circle cx="70.4" cy="352.6" r="2.55"/><circle cx="127.6" cy="364.1" r="2.55"/><circle cx="127.6" cy="364.1" r="2.55"/><circle cx="134.1" cy="366.3" r="2.55"/><circle cx="134.1" cy="366.3" r="2.55"/><circle cx="78.2" cy="366.8" r="2.55"/><circle cx="78.2" cy="366.8" r="2.55"/><circle cx="139.3" cy="365.6" r="2.55"/><circle cx="139.3" cy="365.6" r="2.55"/><circle cx="79.5" cy="357.7" r="2.55"/><circle cx="79.5" cy="357.0" r="2.55"/><circle cx="79.5" cy="357.0" r="2.55"/><circle cx="109.4" cy="367.1" r="2.55"/><circle cx="109.4" cy="367.1" r="2.55"/><circle cx="109.4" cy="367.1" r="2.55"/><circle cx="109.4" cy="367.1" r="2.55"/><circle cx="109.4" cy="367.1" r="2.55"/><circle cx="122.4" cy="352.8" r="2.55"/><circle cx="119.8" cy="365.6" r="2.55"/><circle cx="119.8" cy="365.6" r="2.55"/><circle cx="76.9" cy="363.8" r="2.55"/><circle cx="76.9" cy="363.8" r="2.55"/><circle cx="76.9" cy="363.8" r="2.55"/><circle cx="74.3" cy="360.1" r="2.55"/><circle cx="50.9" cy="362.2" r="2.55"/><circle cx="125.0" cy="360.0" r="2.55"/><circle cx="96.4" cy="364.0" r="2.55"/><circle cx="96.4" cy="364.0" r="2.55"/><circle cx="96.4" cy="364.0" r="2.55"/><circle cx="160.1" cy="354.1" r="2.55"/><circle cx="160.1" cy="354.1" r="2.55"/><circle cx="125.0" cy="362.9" r="2.55"/><circle cx="52.2" cy="365.2" r="2.55"/><circle cx="52.2" cy="365.2" r="2.55"/><circle cx="76.9" cy="365.2" r="2.55"/><circle cx="170.5" cy="364.2" r="2.55"/><circle cx="170.5" cy="364.2" r="2.55"/><circle cx="152.3" cy="367.3" r="2.55"/><circle cx="152.3" cy="367.3" r="2.55"/><circle cx="152.3" cy="367.3" r="2.55"/><circle cx="138.0" cy="363.1" r="2.55"/><circle cx="138.0" cy="363.1" r="2.55"/><circle cx="138.0" cy="363.1" r="2.55"/><circle cx="138.0" cy="363.1" r="2.55"/><circle cx="153.6" cy="355.1" r="2.55"/><circle cx="153.6" cy="355.1" r="2.55"/><circle cx="153.6" cy="355.1" r="2.55"/><circle cx="154.9" cy="366.3" r="2.55"/><circle cx="154.9" cy="366.3" r="2.55"/><circle cx="122.4" cy="365.5" r="2.55"/><circle cx="67.8" cy="366.3" r="2.55"/><circle cx="71.7" cy="356.1" r="2.55"/><circle cx="71.7" cy="356.1" r="2.55"/><circle cx="74.3" cy="344.8" r="2.55"/><circle cx="74.3" cy="344.8" r="2.55"/><circle cx="74.3" cy="344.8" r="2.55"/><circle cx="106.8" cy="355.1" r="2.55"/><circle cx="127.6" cy="350.5" r="2.55"/><circle cx="127.6" cy="350.5" r="2.55"/><circle cx="127.6" cy="350.5" r="2.55"/><circle cx="84.7" cy="363.1" r="2.55"/><circle cx="174.4" cy="359.5" r="2.55"/><circle cx="174.4" cy="359.5" r="2.55"/><circle cx="174.4" cy="359.5" r="2.55"/><circle cx="174.4" cy="359.5" r="2.55"/><circle cx="174.4" cy="359.5" r="2.55"/><circle cx="174.4" cy="359.5" r="2.55"/><circle cx="86.0" cy="359.8" r="2.55"/><circle cx="102.9" cy="367.0" r="2.55"/><circle cx="102.9" cy="367.0" r="2.55"/><circle cx="113.3" cy="367.4" r="2.55"/><circle cx="70.4" cy="355.0" r="2.55"/><circle cx="179.6" cy="356.4" r="2.55"/><circle cx="88.6" cy="365.1" r="2.55"/><circle cx="88.6" cy="365.1" r="2.55"/><circle cx="88.6" cy="365.1" r="2.55"/><circle cx="88.6" cy="365.1" r="2.55"/><circle cx="88.6" cy="365.1" r="2.55"/><circle cx="88.6" cy="365.1" r="2.55"/><circle cx="140.6" cy="363.1" r="2.55"/><circle cx="92.5" cy="359.8" r="2.55"/><circle cx="67.8" cy="341.0" r="2.55"/><circle cx="125.0" cy="363.7" r="2.55"/><circle cx="125.0" cy="363.7" r="2.55"/><circle cx="125.0" cy="363.7" r="2.55"/><circle cx="125.0" cy="363.7" r="2.55"/><circle cx="128.9" cy="366.7" r="2.55"/><circle cx="128.9" cy="366.7" r="2.55"/><circle cx="128.9" cy="366.7" r="2.55"/><circle cx="69.1" cy="363.1" r="2.55"/><circle cx="92.5" cy="366.8" r="2.55"/><circle cx="130.2" cy="361.9" r="2.55"/><circle cx="134.1" cy="366.2" r="2.55"/><circle cx="134.1" cy="366.2" r="2.55"/><circle cx="154.9" cy="362.5" r="2.55"/><circle cx="139.3" cy="365.3" r="2.55"/><circle cx="84.7" cy="362.0" r="2.55"/><circle cx="84.7" cy="362.0" r="2.55"/><circle cx="105.5" cy="367.4" r="2.55"/><circle cx="105.5" cy="367.4" r="2.55"/><circle cx="101.6" cy="365.6" r="2.55"/><circle cx="131.5" cy="365.5" r="2.55"/><circle cx="164.0" cy="365.6" r="2.55"/><circle cx="58.7" cy="362.4" r="2.55"/><circle cx="157.5" cy="365.3" r="2.55"/><circle cx="157.5" cy="365.3" r="2.55"/><circle cx="73.0" cy="363.9" r="2.55"/><circle cx="126.3" cy="359.3" r="2.55"/><circle cx="126.3" cy="359.3" r="2.55"/><circle cx="126.3" cy="359.3" r="2.55"/><circle cx="126.3" cy="359.3" r="2.55"/><circle cx="178.3" cy="354.4" r="2.55"/><circle cx="135.4" cy="347.8" r="2.55"/><circle cx="135.4" cy="347.8" r="2.55"/><circle cx="134.1" cy="358.3" r="2.55"/><circle cx="134.1" cy="358.3" r="2.55"/><circle cx="105.5" cy="363.3" r="2.55"/><circle cx="105.5" cy="363.3" r="2.55"/><circle cx="156.2" cy="364.1" r="2.55"/><circle cx="156.2" cy="364.1" r="2.55"/><circle cx="131.5" cy="365.2" r="2.55"/><circle cx="123.7" cy="366.3" r="2.55"/><circle cx="93.8" cy="361.2" r="2.55"/><circle cx="135.4" cy="352.3" r="2.55"/><circle cx="135.4" cy="352.3" r="2.55"/><circle cx="97.7" cy="354.4" r="2.55"/><circle cx="112.0" cy="367.4" r="2.55"/><circle cx="56.1" cy="361.4" r="2.55"/><circle cx="126.3" cy="360.6" r="2.55"/><circle cx="126.3" cy="360.6" r="2.55"/><circle cx="106.8" cy="361.4" r="2.55"/><circle cx="106.8" cy="361.4" r="2.55"/><circle cx="101.6" cy="359.6" r="2.55"/><circle cx="101.6" cy="359.6" r="2.55"/><circle cx="127.6" cy="364.7" r="2.55"/><circle cx="108.1" cy="361.8" r="2.55"/><circle cx="108.1" cy="361.8" r="2.55"/><circle cx="121.1" cy="361.5" r="2.55"/><circle cx="121.1" cy="361.5" r="2.55"/><circle cx="121.1" cy="361.5" r="2.55"/><circle cx="121.1" cy="361.5" r="2.55"/><circle cx="127.6" cy="366.4" r="2.55"/><circle cx="96.4" cy="354.9" r="2.55"/><circle cx="125.0" cy="354.0" r="2.55"/><circle cx="125.0" cy="354.0" r="2.55"/><circle cx="112.0" cy="365.2" r="2.55"/><circle cx="125.0" cy="366.2" r="2.55"/><circle cx="125.0" cy="366.2" r="2.55"/><circle cx="76.9" cy="360.0" r="2.55"/><circle cx="143.2" cy="364.3" r="2.55"/><circle cx="143.2" cy="364.3" r="2.55"/><circle cx="143.2" cy="364.3" r="2.55"/><circle cx="151.0" cy="365.3" r="2.55"/><circle cx="151.0" cy="365.3" r="2.55"/><circle cx="151.0" cy="365.3" r="2.55"/><circle cx="148.4" cy="363.4" r="2.55"/><circle cx="148.4" cy="363.4" r="2.55"/><circle cx="131.5" cy="361.3" r="2.55"/><circle cx="131.5" cy="361.3" r="2.55"/><circle cx="134.1" cy="366.7" r="2.55"/><circle cx="134.1" cy="366.7" r="2.55"/><circle cx="73.0" cy="366.6" r="2.55"/><circle cx="73.0" cy="366.6" r="2.55"/><circle cx="63.9" cy="361.1" r="2.55"/><circle cx="63.9" cy="361.1" r="2.55"/><circle cx="167.9" cy="365.1" r="2.55"/><circle cx="154.9" cy="366.0" r="2.55"/><circle cx="88.6" cy="349.8" r="2.55"/><circle cx="88.6" cy="349.8" r="2.55"/><circle cx="135.4" cy="363.9" r="2.55"/><circle cx="106.8" cy="352.5" r="2.55"/><circle cx="114.6" cy="365.6" r="2.55"/><circle cx="56.1" cy="350.2" r="2.55"/><circle cx="96.4" cy="355.2" r="2.55"/><circle cx="93.8" cy="344.0" r="2.55"/><circle cx="86.0" cy="357.7" r="2.55"/><circle cx="86.0" cy="357.7" r="2.55"/><circle cx="86.0" cy="357.7" r="2.55"/><circle cx="82.1" cy="351.2" r="2.55"/><circle cx="121.1" cy="365.8" r="2.55"/><circle cx="75.6" cy="365.8" r="2.55"/><circle cx="132.8" cy="362.9" r="2.55"/><circle cx="132.8" cy="362.9" r="2.55"/><circle cx="106.8" cy="367.0" r="2.55"/><circle cx="106.8" cy="367.0" r="2.55"/><circle cx="106.8" cy="367.0" r="2.55"/><circle cx="67.8" cy="363.8" r="2.55"/><circle cx="86.0" cy="364.9" r="2.55"/><circle cx="84.7" cy="359.1" r="2.55"/><circle cx="100.3" cy="358.8" r="2.55"/><circle cx="63.9" cy="351.9" r="2.55"/><circle cx="63.9" cy="351.9" r="2.55"/><circle cx="67.8" cy="352.3" r="2.55"/><circle cx="67.8" cy="352.3" r="2.55"/><circle cx="67.8" cy="352.3" r="2.55"/><circle cx="67.8" cy="352.3" r="2.55"/><circle cx="101.6" cy="364.2" r="2.55"/><circle cx="101.6" cy="364.2" r="2.55"/><circle cx="101.6" cy="364.2" r="2.55"/><circle cx="83.4" cy="366.4" r="2.55"/><circle cx="153.6" cy="353.5" r="2.55"/><circle cx="153.6" cy="353.5" r="2.55"/><circle cx="153.6" cy="353.5" r="2.55"/><circle cx="153.6" cy="353.5" r="2.55"/><circle cx="153.6" cy="353.5" r="2.55"/><circle cx="153.6" cy="353.5" r="2.55"/><circle cx="136.7" cy="365.8" r="2.55"/><circle cx="139.3" cy="355.1" r="2.55"/><circle cx="67.8" cy="360.9" r="2.55"/><circle cx="89.9" cy="363.8" r="2.55"/><circle cx="89.9" cy="363.8" r="2.55"/><circle cx="147.1" cy="365.3" r="2.55"/><circle cx="147.1" cy="365.3" r="2.55"/><circle cx="106.8" cy="366.2" r="2.55"/><circle cx="147.1" cy="362.5" r="2.55"/><circle cx="102.9" cy="365.1" r="2.55"/><circle cx="102.9" cy="365.1" r="2.55"/><circle cx="58.7" cy="365.2" r="2.55"/><circle cx="58.7" cy="365.2" r="2.55"/><circle cx="67.8" cy="364.7" r="2.55"/><circle cx="109.4" cy="357.5" r="2.55"/><circle cx="109.4" cy="357.5" r="2.55"/><circle cx="109.4" cy="357.5" r="2.55"/><circle cx="109.4" cy="357.5" r="2.55"/><circle cx="109.4" cy="357.5" r="2.55"/><circle cx="109.4" cy="357.5" r="2.55"/><circle cx="69.1" cy="367.2" r="2.55"/><circle cx="101.6" cy="360.0" r="2.55"/><circle cx="101.6" cy="360.0" r="2.55"/><circle cx="101.6" cy="360.0" r="2.55"/><circle cx="152.3" cy="356.1" r="2.55"/><circle cx="152.3" cy="356.1" r="2.55"/><circle cx="152.3" cy="356.1" r="2.55"/><circle cx="101.6" cy="366.1" r="2.55"/><circle cx="101.6" cy="366.1" r="2.55"/><circle cx="66.5" cy="356.2" r="2.55"/><circle cx="154.9" cy="367.0" r="2.55"/><circle cx="73.0" cy="364.5" r="2.55"/><circle cx="105.5" cy="365.0" r="2.55"/><circle cx="105.5" cy="365.0" r="2.55"/><circle cx="105.5" cy="365.0" r="2.55"/><circle cx="143.2" cy="356.5" r="2.55"/><circle cx="134.1" cy="365.7" r="2.55"/><circle cx="134.1" cy="365.7" r="2.55"/><circle cx="113.3" cy="364.7" r="2.55"/><circle cx="113.3" cy="364.7" r="2.55"/><circle cx="49.6" cy="354.0" r="2.55"/><circle cx="49.6" cy="354.0" r="2.55"/><circle cx="91.2" cy="353.2" r="2.55"/><circle cx="139.3" cy="365.8" r="2.55"/><circle cx="139.3" cy="365.8" r="2.55"/><circle cx="66.5" cy="365.5" r="2.55"/><circle cx="66.5" cy="365.5" r="2.55"/><circle cx="62.6" cy="363.2" r="2.55"/><circle cx="62.6" cy="363.2" r="2.55"/><circle cx="62.6" cy="363.2" r="2.55"/><circle cx="91.2" cy="345.7" r="2.55"/><circle cx="112.0" cy="359.8" r="2.55"/><circle cx="141.9" cy="367.2" r="2.55"/><circle cx="152.3" cy="363.1" r="2.55"/><circle cx="152.3" cy="363.1" r="2.55"/><circle cx="161.4" cy="359.0" r="2.55"/><circle cx="143.2" cy="365.8" r="2.55"/><circle cx="143.2" cy="365.8" r="2.55"/><circle cx="143.2" cy="365.8" r="2.55"/><circle cx="143.2" cy="365.8" r="2.55"/><circle cx="143.2" cy="365.8" r="2.55"/><circle cx="58.7" cy="362.8" r="2.55"/><circle cx="58.7" cy="362.8" r="2.55"/><circle cx="58.7" cy="362.8" r="2.55"/><circle cx="58.7" cy="362.8" r="2.55"/><circle cx="79.5" cy="366.3" r="2.55"/><circle cx="84.7" cy="361.9" r="2.55"/><circle cx="84.7" cy="361.9" r="2.55"/><circle cx="101.6" cy="352.4" r="2.55"/><circle cx="70.4" cy="364.1" r="2.55"/><circle cx="161.4" cy="359.7" r="2.55"/><circle cx="161.4" cy="359.7" r="2.55"/><circle cx="161.4" cy="359.7" r="2.55"/><circle cx="138.0" cy="358.8" r="2.55"/><circle cx="92.5" cy="365.8" r="2.55"/><circle cx="92.5" cy="365.8" r="2.55"/><circle cx="58.7" cy="365.6" r="2.55"/><circle cx="58.7" cy="365.6" r="2.55"/><circle cx="153.6" cy="366.6" r="2.55"/><circle cx="153.6" cy="366.6" r="2.55"/><circle cx="97.7" cy="364.3" r="2.55"/><circle cx="74.3" cy="367.4" r="2.55"/><circle cx="74.3" cy="367.4" r="2.55"/><circle cx="62.6" cy="333.4" r="2.55"/><circle cx="132.8" cy="363.5" r="2.55"/><circle cx="113.3" cy="362.4" r="2.55"/><circle cx="113.3" cy="362.4" r="2.55"/><circle cx="113.3" cy="362.4" r="2.55"/><circle cx="50.9" cy="358.2" r="2.55"/><circle cx="50.9" cy="358.2" r="2.55"/><circle cx="50.9" cy="358.2" r="2.55"/><circle cx="145.8" cy="365.8" r="2.55"/><circle cx="145.8" cy="365.8" r="2.55"/><circle cx="70.4" cy="355.1" r="2.55"/><circle cx="76.9" cy="352.4" r="2.55"/><circle cx="76.9" cy="352.4" r="2.55"/><circle cx="158.8" cy="365.5" r="2.55"/><circle cx="104.2" cy="364.3" r="2.55"/><circle cx="104.2" cy="364.3" r="2.55"/><circle cx="56.1" cy="358.6" r="2.55"/><circle cx="122.4" cy="366.5" r="2.55"/><circle cx="122.4" cy="366.5" r="2.55"/><circle cx="93.8" cy="366.9" r="2.55"/><circle cx="151.0" cy="364.0" r="2.55"/><circle cx="151.0" cy="364.0" r="2.55"/><circle cx="56.1" cy="365.6" r="2.55"/><circle cx="156.2" cy="356.0" r="2.55"/><circle cx="112.0" cy="360.4" r="2.55"/><circle cx="125.0" cy="365.0" r="2.55"/><circle cx="114.6" cy="356.2" r="2.55"/><circle cx="93.8" cy="361.4" r="2.55"/><circle cx="100.3" cy="366.9" r="2.55"/><circle cx="97.7" cy="342.0" r="2.55"/><circle cx="58.7" cy="359.2" r="2.55"/><circle cx="58.7" cy="359.2" r="2.55"/><circle cx="93.8" cy="345.0" r="2.55"/><circle cx="93.8" cy="345.0" r="2.55"/><circle cx="121.1" cy="365.3" r="2.55"/><circle cx="100.3" cy="367.3" r="2.55"/><circle cx="76.9" cy="362.7" r="2.55"/><circle cx="76.9" cy="362.7" r="2.55"/><circle cx="62.6" cy="363.5" r="2.55"/><circle cx="62.6" cy="363.5" r="2.55"/><circle cx="135.4" cy="363.0" r="2.55"/><circle cx="132.8" cy="366.8" r="2.55"/><circle cx="132.8" cy="366.8" r="2.55"/><circle cx="75.6" cy="361.1" r="2.55"/><circle cx="66.5" cy="365.0" r="2.55"/><circle cx="63.9" cy="365.0" r="2.55"/><circle cx="121.1" cy="365.9" r="2.55"/><circle cx="121.1" cy="365.9" r="2.55"/><circle cx="121.1" cy="365.9" r="2.55"/><circle cx="121.1" cy="365.9" r="2.55"/><circle cx="134.1" cy="363.2" r="2.55"/><circle cx="134.1" cy="363.2" r="2.55"/><circle cx="134.1" cy="363.2" r="2.55"/><circle cx="134.1" cy="363.2" r="2.55"/><circle cx="136.7" cy="364.4" r="2.55"/><circle cx="136.7" cy="364.4" r="2.55"/><circle cx="60.0" cy="350.0" r="2.55"/><circle cx="130.2" cy="359.0" r="2.55"/><circle cx="66.5" cy="356.6" r="2.55"/><circle cx="65.2" cy="363.2" r="2.55"/><circle cx="65.2" cy="363.2" r="2.55"/><circle cx="65.2" cy="363.2" r="2.55"/><circle cx="65.2" cy="363.2" r="2.55"/><circle cx="65.2" cy="363.2" r="2.55"/><circle cx="65.2" cy="363.2" r="2.55"/><circle cx="74.3" cy="360.8" r="2.55"/><circle cx="164.0" cy="357.0" r="2.55"/><circle cx="164.0" cy="357.0" r="2.55"/><circle cx="58.7" cy="363.4" r="2.55"/><circle cx="58.7" cy="363.4" r="2.55"/><circle cx="52.2" cy="365.3" r="2.55"/><circle cx="52.2" cy="365.3" r="2.55"/><circle cx="52.2" cy="365.3" r="2.55"/><circle cx="52.2" cy="365.3" r="2.55"/><circle cx="93.8" cy="363.4" r="2.55"/><circle cx="74.3" cy="364.1" r="2.55"/><circle cx="104.2" cy="347.2" r="2.55"/><circle cx="104.2" cy="347.2" r="2.55"/><circle cx="104.2" cy="347.2" r="2.55"/><circle cx="104.2" cy="347.2" r="2.55"/><circle cx="104.2" cy="347.2" r="2.55"/><circle cx="156.2" cy="361.5" r="2.55"/><circle cx="156.2" cy="361.5" r="2.55"/><circle cx="63.9" cy="353.5" r="2.55"/><circle cx="66.5" cy="357.9" r="2.55"/><circle cx="87.3" cy="363.0" r="2.55"/><circle cx="87.3" cy="363.0" r="2.55"/><circle cx="66.5" cy="366.5" r="2.55"/><circle cx="131.5" cy="360.5" r="2.55"/><circle cx="131.5" cy="360.5" r="2.55"/><circle cx="131.5" cy="360.5" r="2.55"/><circle cx="105.5" cy="353.3" r="2.55"/><circle cx="105.5" cy="353.3" r="2.55"/><circle cx="105.5" cy="353.3" r="2.55"/><circle cx="105.5" cy="353.3" r="2.55"/><circle cx="105.5" cy="353.3" r="2.55"/><circle cx="105.5" cy="353.3" r="2.55"/><circle cx="128.9" cy="357.6" r="2.55"/><circle cx="190.0" cy="357.6" r="2.55"/><circle cx="71.7" cy="350.4" r="2.55"/><circle cx="167.9" cy="364.1" r="2.55"/><circle cx="167.9" cy="364.1" r="2.55"/><circle cx="167.9" cy="364.1" r="2.55"/><circle cx="108.1" cy="366.3" r="2.55"/><circle cx="108.1" cy="366.3" r="2.55"/><circle cx="61.3" cy="365.4" r="2.55"/><circle cx="56.1" cy="363.5" r="2.55"/><circle cx="56.1" cy="363.5" r="2.55"/><circle cx="56.1" cy="363.5" r="2.55"/><circle cx="118.5" cy="364.4" r="2.55"/><circle cx="101.6" cy="361.4" r="2.55"/><circle cx="101.6" cy="361.4" r="2.55"/><circle cx="101.6" cy="361.4" r="2.55"/><circle cx="99.0" cy="363.1" r="2.55"/><circle cx="99.0" cy="363.1" r="2.55"/><circle cx="99.0" cy="363.1" r="2.55"/><circle cx="71.7" cy="364.9" r="2.55"/><circle cx="89.9" cy="365.2" r="2.55"/><circle cx="134.1" cy="348.6" r="2.55"/><circle cx="132.8" cy="355.1" r="2.55"/><circle cx="143.2" cy="365.5" r="2.55"/><circle cx="143.2" cy="365.5" r="2.55"/><circle cx="93.8" cy="357.7" r="2.55"/><circle cx="93.8" cy="357.7" r="2.55"/><circle cx="125.0" cy="364.9" r="2.55"/><circle cx="125.0" cy="364.9" r="2.55"/><circle cx="125.0" cy="364.9" r="2.55"/><circle cx="125.0" cy="364.9" r="2.55"/><circle cx="130.2" cy="367.1" r="2.55"/><circle cx="130.2" cy="367.1" r="2.55"/><circle cx="130.2" cy="367.1" r="2.55"/><circle cx="130.2" cy="367.1" r="2.55"/><circle cx="99.0" cy="335.8" r="2.55"/><circle cx="121.1" cy="365.8" r="2.55"/><circle cx="84.7" cy="366.4" r="2.55"/><circle cx="50.9" cy="362.1" r="2.55"/><circle cx="115.9" cy="365.2" r="2.55"/><circle cx="115.9" cy="365.2" r="2.55"/><circle cx="115.9" cy="365.2" r="2.55"/><circle cx="115.9" cy="365.2" r="2.55"/><circle cx="74.3" cy="364.6" r="2.55"/><circle cx="74.3" cy="364.6" r="2.55"/><circle cx="74.3" cy="364.6" r="2.55"/><circle cx="74.3" cy="364.6" r="2.55"/><circle cx="74.3" cy="364.6" r="2.55"/><circle cx="74.3" cy="364.6" r="2.55"/><circle cx="95.1" cy="361.7" r="2.55"/><circle cx="61.3" cy="359.9" r="2.55"/><circle cx="89.9" cy="367.3" r="2.55"/><circle cx="89.9" cy="367.3" r="2.55"/><circle cx="89.9" cy="367.3" r="2.55"/><circle cx="89.9" cy="367.3" r="2.55"/><circle cx="74.3" cy="357.5" r="2.55"/><circle cx="74.3" cy="357.5" r="2.55"/><circle cx="82.1" cy="365.7" r="2.55"/><circle cx="144.5" cy="359.6" r="2.55"/><circle cx="61.3" cy="349.3" r="2.55"/><circle cx="61.3" cy="349.3" r="2.55"/><circle cx="61.3" cy="349.3" r="2.55"/><circle cx="61.3" cy="349.3" r="2.55"/><circle cx="61.3" cy="349.3" r="2.55"/><circle cx="100.3" cy="366.0" r="2.55"/><circle cx="100.3" cy="366.0" r="2.55"/><circle cx="80.8" cy="356.6" r="2.55"/><circle cx="145.8" cy="360.7" r="2.55"/><circle cx="145.8" cy="360.7" r="2.55"/><circle cx="145.8" cy="360.7" r="2.55"/><circle cx="145.8" cy="360.7" r="2.55"/><circle cx="145.8" cy="360.7" r="2.55"/><circle cx="145.8" cy="360.7" r="2.55"/><circle cx="99.0" cy="363.7" r="2.55"/><circle cx="99.0" cy="363.7" r="2.55"/><circle cx="99.0" cy="363.7" r="2.55"/><circle cx="99.0" cy="363.7" r="2.55"/><circle cx="56.1" cy="363.9" r="2.55"/><circle cx="56.1" cy="363.9" r="2.55"/><circle cx="122.4" cy="365.7" r="2.55"/><circle cx="122.4" cy="365.7" r="2.55"/><circle cx="118.5" cy="351.1" r="2.55"/><circle cx="57.4" cy="356.1" r="2.55"/><circle cx="57.4" cy="356.1" r="2.55"/><circle cx="57.4" cy="356.1" r="2.55"/><circle cx="57.4" cy="356.1" r="2.55"/><circle cx="97.7" cy="366.3" r="2.55"/><circle cx="97.7" cy="366.3" r="2.55"/><circle cx="97.7" cy="366.3" r="2.55"/><circle cx="70.4" cy="366.7" r="2.55"/><circle cx="70.4" cy="366.7" r="2.55"/><circle cx="70.4" cy="366.7" r="2.55"/><circle cx="70.4" cy="366.7" r="2.55"/><circle cx="70.4" cy="366.7" r="2.55"/><circle cx="70.4" cy="366.7" r="2.55"/><circle cx="128.9" cy="362.6" r="2.55"/><circle cx="147.1" cy="365.1" r="2.55"/><circle cx="158.8" cy="359.3" r="2.55"/><circle cx="115.9" cy="362.8" r="2.55"/><circle cx="115.9" cy="362.8" r="2.55"/><circle cx="50.9" cy="357.9" r="2.55"/><circle cx="161.4" cy="366.2" r="2.55"/><circle cx="161.4" cy="366.2" r="2.55"/><circle cx="69.1" cy="361.7" r="2.55"/><circle cx="131.5" cy="350.6" r="2.55"/><circle cx="102.9" cy="366.1" r="2.55"/><circle cx="73.0" cy="355.1" r="2.55"/><circle cx="73.0" cy="355.1" r="2.55"/><circle cx="86.0" cy="362.2" r="2.55"/><circle cx="86.0" cy="362.2" r="2.55"/><circle cx="86.0" cy="362.2" r="2.55"/><circle cx="86.0" cy="362.2" r="2.55"/><circle cx="86.0" cy="362.2" r="2.55"/><circle cx="86.0" cy="362.2" r="2.55"/><circle cx="143.2" cy="357.8" r="2.55"/><circle cx="117.2" cy="352.7" r="2.55"/><circle cx="117.2" cy="352.7" r="2.55"/><circle cx="117.2" cy="352.7" r="2.55"/><circle cx="117.2" cy="352.7" r="2.55"/><circle cx="65.2" cy="366.9" r="2.55"/><circle cx="65.2" cy="366.9" r="2.55"/><circle cx="144.5" cy="355.5" r="2.55"/><circle cx="144.5" cy="355.5" r="2.55"/><circle cx="144.5" cy="355.5" r="2.55"/><circle cx="144.5" cy="355.5" r="2.55"/><circle cx="144.5" cy="355.5" r="2.55"/><circle cx="144.5" cy="355.5" r="2.55"/><circle cx="58.7" cy="362.8" r="2.55"/><circle cx="141.9" cy="365.8" r="2.55"/><circle cx="88.6" cy="365.5" r="2.55"/><circle cx="79.5" cy="359.3" r="2.55"/><circle cx="79.5" cy="359.3" r="2.55"/><circle cx="79.5" cy="359.3" r="2.55"/><circle cx="79.5" cy="359.3" r="2.55"/><circle cx="79.5" cy="359.3" r="2.55"/><circle cx="79.5" cy="359.3" r="2.55"/><circle cx="93.8" cy="365.7" r="2.55"/><circle cx="134.1" cy="355.6" r="2.55"/><circle cx="91.2" cy="362.6" r="2.55"/><circle cx="115.9" cy="353.8" r="2.55"/><circle cx="115.9" cy="353.8" r="2.55"/><circle cx="115.9" cy="353.8" r="2.55"/><circle cx="115.9" cy="353.8" r="2.55"/><circle cx="115.9" cy="353.8" r="2.55"/><circle cx="80.8" cy="364.0" r="2.55"/><circle cx="93.8" cy="366.6" r="2.55"/><circle cx="93.8" cy="366.6" r="2.55"/><circle cx="192.6" cy="344.5" r="2.55"/><circle cx="71.7" cy="366.7" r="2.55"/><circle cx="74.3" cy="366.7" r="2.55"/><circle cx="99.0" cy="358.6" r="2.55"/><circle cx="99.0" cy="358.6" r="2.55"/><circle cx="54.8" cy="353.4" r="2.55"/><circle cx="151.0" cy="363.2" r="2.55"/><circle cx="83.4" cy="366.6" r="2.55"/><circle cx="52.2" cy="364.1" r="2.55"/><circle cx="121.1" cy="364.1" r="2.55"/><circle cx="121.1" cy="364.1" r="2.55"/><circle cx="121.1" cy="364.1" r="2.55"/><circle cx="121.1" cy="364.1" r="2.55"/><circle cx="75.6" cy="366.2" r="2.55"/><circle cx="66.5" cy="361.7" r="2.55"/><circle cx="66.5" cy="361.7" r="2.55"/><circle cx="80.8" cy="350.6" r="2.55"/><circle cx="80.8" cy="350.6" r="2.55"/><circle cx="80.8" cy="350.6" r="2.55"/><circle cx="157.5" cy="365.7" r="2.55"/><circle cx="157.5" cy="365.7" r="2.55"/><circle cx="157.5" cy="365.7" r="2.55"/><circle cx="88.6" cy="367.2" r="2.55"/><circle cx="88.6" cy="367.2" r="2.55"/><circle cx="88.6" cy="367.2" r="2.55"/><circle cx="88.6" cy="367.2" r="2.55"/><circle cx="125.0" cy="362.6" r="2.55"/><circle cx="125.0" cy="362.6" r="2.55"/><circle cx="125.0" cy="362.6" r="2.55"/><circle cx="102.9" cy="359.4" r="2.55"/><circle cx="102.9" cy="359.4" r="2.55"/><circle cx="102.9" cy="359.4" r="2.55"/><circle cx="145.8" cy="362.7" r="2.55"/><circle cx="108.1" cy="363.9" r="2.55"/><circle cx="106.8" cy="366.5" r="2.55"/><circle cx="196.5" cy="352.4" r="2.55"/><circle cx="139.3" cy="365.8" r="2.55"/><circle cx="78.2" cy="352.7" r="2.55"/><circle cx="57.4" cy="364.0" r="2.55"/><circle cx="57.4" cy="364.0" r="2.55"/><circle cx="57.4" cy="364.0" r="2.55"/><circle cx="144.5" cy="365.2" r="2.55"/><circle cx="144.5" cy="365.2" r="2.55"/><circle cx="192.6" cy="350.9" r="2.55"/><circle cx="84.7" cy="357.0" r="2.55"/><circle cx="105.5" cy="364.1" r="2.55"/><circle cx="127.6" cy="360.7" r="2.55"/><circle cx="97.7" cy="361.9" r="2.55"/><circle cx="97.7" cy="361.9" r="2.55"/><circle cx="82.1" cy="365.1" r="2.55"/><circle cx="119.8" cy="366.5" r="2.55"/><circle cx="126.3" cy="357.4" r="2.55"/><circle cx="126.3" cy="357.4" r="2.55"/><circle cx="126.3" cy="357.4" r="2.55"/><circle cx="84.7" cy="354.2" r="2.55"/><circle cx="117.2" cy="356.4" r="2.55"/><circle cx="117.2" cy="356.4" r="2.55"/><circle cx="117.2" cy="356.4" r="2.55"/><circle cx="117.2" cy="356.4" r="2.55"/><circle cx="117.2" cy="356.4" r="2.55"/><circle cx="56.1" cy="351.5" r="2.55"/><circle cx="56.1" cy="351.5" r="2.55"/><circle cx="56.1" cy="351.5" r="2.55"/><circle cx="56.1" cy="351.5" r="2.55"/><circle cx="56.1" cy="351.5" r="2.55"/><circle cx="71.7" cy="366.6" r="2.55"/><circle cx="71.7" cy="366.6" r="2.55"/><circle cx="101.6" cy="362.4" r="2.55"/><circle cx="115.9" cy="364.3" r="2.55"/><circle cx="115.9" cy="357.3" r="2.55"/><circle cx="115.9" cy="357.3" r="2.55"/><circle cx="161.4" cy="359.5" r="2.55"/><circle cx="104.2" cy="365.6" r="2.55"/><circle cx="104.2" cy="365.6" r="2.55"/><circle cx="104.2" cy="365.6" r="2.55"/><circle cx="104.2" cy="364.2" r="2.55"/><circle cx="52.2" cy="359.9" r="2.55"/><circle cx="52.2" cy="359.9" r="2.55"/><circle cx="58.7" cy="356.3" r="2.55"/><circle cx="58.7" cy="356.3" r="2.55"/><circle cx="89.9" cy="365.4" r="2.55"/><circle cx="89.9" cy="365.4" r="2.55"/><circle cx="89.9" cy="365.4" r="2.55"/><circle cx="79.5" cy="355.0" r="2.55"/><circle cx="140.6" cy="367.2" r="2.55"/><circle cx="114.6" cy="359.5" r="2.55"/><circle cx="92.5" cy="359.8" r="2.55"/><circle cx="92.5" cy="359.8" r="2.55"/><circle cx="106.8" cy="349.9" r="2.55"/><circle cx="78.2" cy="357.5" r="2.55"/><circle cx="104.2" cy="364.8" r="2.55"/><circle cx="60.0" cy="363.3" r="2.55"/><circle cx="60.0" cy="363.3" r="2.55"/><circle cx="60.0" cy="363.3" r="2.55"/><circle cx="127.6" cy="353.6" r="2.55"/><circle cx="127.6" cy="353.6" r="2.55"/><circle cx="127.6" cy="353.6" r="2.55"/><circle cx="127.6" cy="353.6" r="2.55"/><circle cx="161.4" cy="361.0" r="2.55"/><circle cx="117.2" cy="356.0" r="2.55"/><circle cx="110.7" cy="352.9" r="2.55"/><circle cx="110.7" cy="352.9" r="2.55"/><circle cx="114.6" cy="362.9" r="2.55"/><circle cx="114.6" cy="362.9" r="2.55"/><circle cx="56.1" cy="360.3" r="2.55"/><circle cx="56.1" cy="360.3" r="2.55"/><circle cx="66.5" cy="366.8" r="2.55"/><circle cx="62.6" cy="360.3" r="2.55"/><circle cx="62.6" cy="360.3" r="2.55"/><circle cx="57.4" cy="356.5" r="2.55"/><circle cx="57.4" cy="356.5" r="2.55"/><circle cx="57.4" cy="356.5" r="2.55"/><circle cx="57.4" cy="356.5" r="2.55"/><circle cx="121.1" cy="360.2" r="2.55"/><circle cx="71.7" cy="361.4" r="2.55"/><circle cx="71.7" cy="361.4" r="2.55"/><circle cx="71.7" cy="361.4" r="2.55"/><circle cx="71.7" cy="361.4" r="2.55"/><circle cx="50.9" cy="364.6" r="2.55"/><circle cx="88.6" cy="365.3" r="2.55"/><circle cx="88.6" cy="365.3" r="2.55"/><circle cx="88.6" cy="365.3" r="2.55"/><circle cx="125.0" cy="367.2" r="2.55"/><circle cx="95.1" cy="355.7" r="2.55"/><circle cx="95.1" cy="355.7" r="2.55"/><circle cx="95.1" cy="355.7" r="2.55"/><circle cx="79.5" cy="361.4" r="2.55"/><circle cx="104.2" cy="362.9" r="2.55"/><circle cx="135.4" cy="357.8" r="2.55"/><circle cx="135.4" cy="357.8" r="2.55"/><circle cx="79.5" cy="361.0" r="2.55"/><circle cx="57.4" cy="360.7" r="2.55"/><circle cx="109.4" cy="364.9" r="2.55"/><circle cx="109.4" cy="364.9" r="2.55"/><circle cx="109.4" cy="364.9" r="2.55"/><circle cx="109.4" cy="364.9" r="2.55"/><circle cx="89.9" cy="364.9" r="2.55"/><circle cx="89.9" cy="364.9" r="2.55"/><circle cx="136.7" cy="351.1" r="2.55"/><circle cx="136.7" cy="351.1" r="2.55"/><circle cx="136.7" cy="351.1" r="2.55"/><circle cx="136.7" cy="351.1" r="2.55"/><circle cx="114.6" cy="367.1" r="2.55"/><circle cx="114.6" cy="367.1" r="2.55"/><circle cx="113.3" cy="367.2" r="2.55"/><circle cx="113.3" cy="367.2" r="2.55"/><circle cx="113.3" cy="367.2" r="2.55"/><circle cx="138.0" cy="352.2" r="2.55"/><circle cx="138.0" cy="352.2" r="2.55"/><circle cx="138.0" cy="352.2" r="2.55"/><circle cx="138.0" cy="352.2" r="2.55"/><circle cx="138.0" cy="352.2" r="2.55"/><circle cx="132.8" cy="363.4" r="2.55"/><circle cx="132.8" cy="363.4" r="2.55"/><circle cx="132.8" cy="363.4" r="2.55"/><circle cx="132.8" cy="363.4" r="2.55"/><circle cx="92.5" cy="354.1" r="2.55"/><circle cx="71.7" cy="365.6" r="2.55"/><circle cx="71.7" cy="365.6" r="2.55"/><circle cx="63.9" cy="354.3" r="2.55"/><circle cx="147.1" cy="353.3" r="2.55"/><circle cx="147.1" cy="353.3" r="2.55"/><circle cx="151.0" cy="367.1" r="2.55"/><circle cx="151.0" cy="367.1" r="2.55"/><circle cx="151.0" cy="367.1" r="2.55"/><circle cx="152.3" cy="356.6" r="2.55"/><circle cx="92.5" cy="361.1" r="2.55"/><circle cx="96.4" cy="366.3" r="2.55"/><circle cx="96.4" cy="366.3" r="2.55"/><circle cx="106.8" cy="364.3" r="2.55"/><circle cx="144.5" cy="362.8" r="2.55"/><circle cx="63.9" cy="356.2" r="2.55"/><circle cx="63.9" cy="356.2" r="2.55"/><circle cx="113.3" cy="366.7" r="2.55"/><circle cx="92.5" cy="357.2" r="2.55"/><circle cx="92.5" cy="357.2" r="2.55"/><circle cx="92.5" cy="357.2" r="2.55"/><circle cx="92.5" cy="357.2" r="2.55"/><circle cx="92.5" cy="357.2" r="2.55"/><circle cx="92.5" cy="357.2" r="2.55"/><circle cx="63.9" cy="350.3" r="2.55"/><circle cx="138.0" cy="366.9" r="2.55"/><circle cx="138.0" cy="366.9" r="2.55"/><circle cx="70.4" cy="348.8" r="2.55"/><circle cx="70.4" cy="348.8" r="2.55"/><circle cx="70.4" cy="348.8" r="2.55"/><circle cx="186.1" cy="355.6" r="2.55"/><circle cx="186.1" cy="355.6" r="2.55"/><circle cx="57.4" cy="362.2" r="2.55"/><circle cx="86.0" cy="366.0" r="2.55"/><circle cx="60.0" cy="366.6" r="2.55"/><circle cx="131.5" cy="362.1" r="2.55"/><circle cx="131.5" cy="362.1" r="2.55"/><circle cx="117.2" cy="363.0" r="2.55"/><circle cx="63.9" cy="366.3" r="2.55"/><circle cx="135.4" cy="364.7" r="2.55"/><circle cx="147.1" cy="366.4" r="2.55"/><circle cx="147.1" cy="366.4" r="2.55"/><circle cx="119.8" cy="366.9" r="2.55"/><circle cx="119.8" cy="366.9" r="2.55"/><circle cx="122.4" cy="366.7" r="2.55"/><circle cx="122.4" cy="366.7" r="2.55"/><circle cx="118.5" cy="362.7" r="2.55"/><circle cx="118.5" cy="362.7" r="2.55"/><circle cx="123.7" cy="366.2" r="2.55"/><circle cx="123.7" cy="366.2" r="2.55"/><circle cx="123.7" cy="366.2" r="2.55"/><circle cx="123.7" cy="366.2" r="2.55"/><circle cx="109.4" cy="366.6" r="2.55"/><circle cx="84.7" cy="362.1" r="2.55"/><circle cx="84.7" cy="362.1" r="2.55"/><circle cx="180.9" cy="345.2" r="2.55"/><circle cx="180.9" cy="345.2" r="2.55"/><circle cx="121.1" cy="362.3" r="2.55"/><circle cx="121.1" cy="362.3" r="2.55"/><circle cx="121.1" cy="362.3" r="2.55"/><circle cx="121.1" cy="362.3" r="2.55"/><circle cx="151.0" cy="359.1" r="2.55"/><circle cx="151.0" cy="359.1" r="2.55"/><circle cx="71.7" cy="367.2" r="2.55"/><circle cx="108.1" cy="365.2" r="2.55"/><circle cx="135.4" cy="362.1" r="2.55"/><circle cx="135.4" cy="362.1" r="2.55"/><circle cx="135.4" cy="362.1" r="2.55"/><circle cx="135.4" cy="362.1" r="2.55"/><circle cx="135.4" cy="362.1" r="2.55"/><circle cx="135.4" cy="362.1" r="2.55"/><circle cx="58.7" cy="359.4" r="2.55"/><circle cx="140.6" cy="357.4" r="2.55"/><circle cx="140.6" cy="357.4" r="2.55"/><circle cx="140.6" cy="357.4" r="2.55"/><circle cx="100.3" cy="363.1" r="2.55"/><circle cx="184.8" cy="344.3" r="2.55"/><circle cx="110.7" cy="366.9" r="2.55"/><circle cx="110.7" cy="366.9" r="2.55"/><circle cx="86.0" cy="358.8" r="2.55"/><circle cx="86.0" cy="358.8" r="2.55"/><circle cx="71.7" cy="366.2" r="2.55"/><circle cx="71.7" cy="366.2" r="2.55"/><circle cx="78.2" cy="364.3" r="2.55"/><circle cx="78.2" cy="364.3" r="2.55"/><circle cx="78.2" cy="364.3" r="2.55"/><circle cx="122.4" cy="353.0" r="2.55"/><circle cx="122.4" cy="353.0" r="2.55"/><circle cx="122.4" cy="353.0" r="2.55"/><circle cx="79.5" cy="352.6" r="2.55"/><circle cx="165.3" cy="358.1" r="2.55"/><circle cx="165.3" cy="358.1" r="2.55"/><circle cx="165.3" cy="358.1" r="2.55"/><circle cx="165.3" cy="358.1" r="2.55"/><circle cx="101.6" cy="343.8" r="2.55"/><circle cx="69.1" cy="344.3" r="2.55"/><circle cx="136.7" cy="357.0" r="2.55"/><circle cx="136.7" cy="357.0" r="2.55"/><circle cx="93.8" cy="361.9" r="2.55"/><circle cx="87.3" cy="365.5" r="2.55"/><circle cx="78.2" cy="365.3" r="2.55"/><circle cx="106.8" cy="356.8" r="2.55"/><circle cx="62.6" cy="351.8" r="2.55"/><circle cx="100.3" cy="354.7" r="2.55"/><circle cx="100.3" cy="354.7" r="2.55"/><circle cx="166.6" cy="361.5" r="2.55"/><circle cx="52.2" cy="352.4" r="2.55"/><circle cx="110.7" cy="363.5" r="2.55"/><circle cx="99.0" cy="364.4" r="2.55"/><circle cx="99.0" cy="364.4" r="2.55"/><circle cx="99.0" cy="364.4" r="2.55"/><circle cx="99.0" cy="364.4" r="2.55"/><circle cx="92.5" cy="365.2" r="2.55"/><circle cx="153.6" cy="360.9" r="2.55"/><circle cx="149.7" cy="357.1" r="2.55"/><circle cx="149.7" cy="357.1" r="2.55"/><circle cx="76.9" cy="342.0" r="2.55"/><circle cx="102.9" cy="352.2" r="2.55"/><circle cx="108.1" cy="346.5" r="2.55"/><circle cx="76.9" cy="366.1" r="2.55"/><circle cx="76.9" cy="366.1" r="2.55"/><circle cx="127.6" cy="366.3" r="2.55"/><circle cx="101.6" cy="361.9" r="2.55"/><circle cx="105.5" cy="352.1" r="2.55"/><circle cx="105.5" cy="352.1" r="2.55"/><circle cx="148.4" cy="361.6" r="2.55"/><circle cx="102.9" cy="360.6" r="2.55"/><circle cx="102.9" cy="360.6" r="2.55"/><circle cx="105.5" cy="359.8" r="2.55"/><circle cx="105.5" cy="359.8" r="2.55"/><circle cx="102.9" cy="367.1" r="2.55"/><circle cx="131.5" cy="359.2" r="2.55"/><circle cx="131.5" cy="359.2" r="2.55"/><circle cx="160.1" cy="364.2" r="2.55"/><circle cx="70.4" cy="348.9" r="2.55"/><circle cx="70.4" cy="360.3" r="2.55"/><circle cx="56.1" cy="355.2" r="2.55"/><circle cx="144.5" cy="358.9" r="2.55"/><circle cx="92.5" cy="363.5" r="2.55"/><circle cx="105.5" cy="359.1" r="2.55"/><circle cx="105.5" cy="359.1" r="2.55"/><circle cx="151.0" cy="366.4" r="2.55"/><circle cx="134.1" cy="358.0" r="2.55"/><circle cx="134.1" cy="358.0" r="2.55"/><circle cx="100.3" cy="362.4" r="2.55"/><circle cx="158.8" cy="364.5" r="2.55"/><circle cx="57.4" cy="363.2" r="2.55"/><circle cx="76.9" cy="344.3" r="2.55"/><circle cx="76.9" cy="344.3" r="2.55"/><circle cx="78.2" cy="362.9" r="2.55"/><circle cx="78.2" cy="362.9" r="2.55"/><circle cx="65.2" cy="363.2" r="2.55"/><circle cx="106.8" cy="365.4" r="2.55"/><circle cx="79.5" cy="362.7" r="2.55"/><circle cx="79.5" cy="362.7" r="2.55"/><circle cx="71.7" cy="362.2" r="2.55"/><circle cx="131.5" cy="359.1" r="2.55"/><circle cx="89.9" cy="348.8" r="2.55"/><circle cx="127.6" cy="361.5" r="2.55"/><circle cx="87.3" cy="367.2" r="2.55"/><circle cx="101.6" cy="365.3" r="2.55"/><circle cx="101.6" cy="365.3" r="2.55"/><circle cx="101.6" cy="365.3" r="2.55"/><circle cx="101.6" cy="365.3" r="2.55"/><circle cx="101.6" cy="365.3" r="2.55"/><circle cx="101.6" cy="365.3" r="2.55"/><circle cx="86.0" cy="361.4" r="2.55"/><circle cx="110.7" cy="366.7" r="2.55"/><circle cx="110.7" cy="366.7" r="2.55"/><circle cx="110.7" cy="366.7" r="2.55"/><circle cx="110.7" cy="366.7" r="2.55"/><circle cx="95.1" cy="342.6" r="2.55"/><circle cx="143.2" cy="358.6" r="2.55"/><circle cx="143.2" cy="358.6" r="2.55"/><circle cx="108.1" cy="358.4" r="2.55"/><circle cx="108.1" cy="358.4" r="2.55"/><circle cx="100.3" cy="355.9" r="2.55"/><circle cx="101.6" cy="353.1" r="2.55"/><circle cx="127.6" cy="360.9" r="2.55"/><circle cx="127.6" cy="360.9" r="2.55"/><circle cx="99.0" cy="363.7" r="2.55"/><circle cx="99.0" cy="363.7" r="2.55"/><circle cx="99.0" cy="363.7" r="2.55"/><circle cx="99.0" cy="363.7" r="2.55"/><circle cx="99.0" cy="363.7" r="2.55"/><circle cx="123.7" cy="360.8" r="2.55"/><circle cx="123.7" cy="360.8" r="2.55"/><circle cx="135.4" cy="362.4" r="2.55"/><circle cx="89.9" cy="355.8" r="2.55"/><circle cx="89.9" cy="355.8" r="2.55"/><circle cx="89.9" cy="355.8" r="2.55"/><circle cx="139.3" cy="367.1" r="2.55"/><circle cx="89.9" cy="365.6" r="2.55"/><circle cx="89.9" cy="365.6" r="2.55"/><circle cx="89.9" cy="365.6" r="2.55"/><circle cx="63.9" cy="335.7" r="2.55"/><circle cx="152.3" cy="356.4" r="2.55"/><circle cx="152.3" cy="356.4" r="2.55"/><circle cx="97.7" cy="360.4" r="2.55"/><circle cx="70.4" cy="367.0" r="2.55"/><circle cx="115.9" cy="356.9" r="2.55"/><circle cx="115.9" cy="356.9" r="2.55"/><circle cx="115.9" cy="356.9" r="2.55"/><circle cx="115.9" cy="356.9" r="2.55"/><circle cx="115.9" cy="356.9" r="2.55"/><circle cx="54.8" cy="366.4" r="2.55"/><circle cx="54.8" cy="366.4" r="2.55"/><circle cx="82.1" cy="364.3" r="2.55"/><circle cx="82.1" cy="364.3" r="2.55"/><circle cx="99.0" cy="365.7" r="2.55"/><circle cx="128.9" cy="358.5" r="2.55"/><circle cx="53.5" cy="362.5" r="2.55"/><circle cx="53.5" cy="362.5" r="2.55"/><circle cx="58.7" cy="356.1" r="2.55"/><circle cx="58.7" cy="356.1" r="2.55"/><circle cx="135.4" cy="363.2" r="2.55"/><circle cx="135.4" cy="363.2" r="2.55"/><circle cx="136.7" cy="355.4" r="2.55"/><circle cx="136.7" cy="355.4" r="2.55"/><circle cx="119.8" cy="363.7" r="2.55"/><circle cx="117.2" cy="366.2" r="2.55"/><circle cx="109.4" cy="366.1" r="2.55"/><circle cx="114.6" cy="359.6" r="2.55"/><circle cx="114.6" cy="359.6" r="2.55"/><circle cx="78.2" cy="360.9" r="2.55"/><circle cx="156.2" cy="365.7" r="2.55"/><circle cx="156.2" cy="365.7" r="2.55"/><circle cx="156.2" cy="365.7" r="2.55"/><circle cx="156.2" cy="365.7" r="2.55"/><circle cx="156.2" cy="365.7" r="2.55"/><circle cx="156.2" cy="365.7" r="2.55"/><circle cx="50.9" cy="356.0" r="2.55"/><circle cx="50.9" cy="356.0" r="2.55"/><circle cx="141.9" cy="364.9" r="2.55"/><circle cx="74.3" cy="328.4" r="2.55"/><circle cx="95.1" cy="366.1" r="2.55"/><circle cx="95.1" cy="366.1" r="2.55"/><circle cx="101.6" cy="356.1" r="2.55"/><circle cx="101.6" cy="356.1" r="2.55"/><circle cx="101.6" cy="356.1" r="2.55"/><circle cx="101.6" cy="356.1" r="2.55"/><circle cx="117.2" cy="366.8" r="2.55"/><circle cx="71.7" cy="362.2" r="2.55"/><circle cx="65.2" cy="361.4" r="2.55"/><circle cx="80.8" cy="367.3" r="2.55"/><circle cx="80.8" cy="367.3" r="2.55"/><circle cx="114.6" cy="364.4" r="2.55"/><circle cx="114.6" cy="364.4" r="2.55"/><circle cx="114.6" cy="364.4" r="2.55"/><circle cx="114.6" cy="364.4" r="2.55"/><circle cx="69.1" cy="365.5" r="2.55"/><circle cx="135.4" cy="367.4" r="2.55"/><circle cx="135.4" cy="367.4" r="2.55"/><circle cx="118.5" cy="353.6" r="2.55"/><circle cx="128.9" cy="365.2" r="2.55"/><circle cx="128.9" cy="365.2" r="2.55"/><circle cx="121.1" cy="366.1" r="2.55"/><circle cx="86.0" cy="363.8" r="2.55"/><circle cx="86.0" cy="363.8" r="2.55"/><circle cx="65.2" cy="366.3" r="2.55"/><circle cx="65.2" cy="366.3" r="2.55"/><circle cx="79.5" cy="360.5" r="2.55"/><circle cx="143.2" cy="364.0" r="2.55"/><circle cx="60.0" cy="367.0" r="2.55"/><circle cx="118.5" cy="360.5" r="2.55"/><circle cx="154.9" cy="360.9" r="2.55"/><circle cx="154.9" cy="360.9" r="2.55"/><circle cx="151.0" cy="366.5" r="2.55"/><circle cx="58.7" cy="329.2" r="2.55"/><circle cx="83.4" cy="355.4" r="2.55"/><circle cx="83.4" cy="355.4" r="2.55"/><circle cx="158.8" cy="366.1" r="2.55"/><circle cx="158.8" cy="366.1" r="2.55"/><circle cx="54.8" cy="365.0" r="2.55"/><circle cx="54.8" cy="365.0" r="2.55"/><circle cx="88.6" cy="367.4" r="2.55"/><circle cx="88.6" cy="367.4" r="2.55"/><circle cx="88.6" cy="367.4" r="2.55"/><circle cx="88.6" cy="367.4" r="2.55"/><circle cx="88.6" cy="367.4" r="2.55"/><circle cx="161.4" cy="344.7" r="2.55"/><circle cx="161.4" cy="344.7" r="2.55"/><circle cx="154.9" cy="357.4" r="2.55"/><circle cx="73.0" cy="366.6" r="2.55"/><circle cx="184.8" cy="350.0" r="2.55"/><circle cx="184.8" cy="350.0" r="2.55"/><circle cx="131.5" cy="363.3" r="2.55"/><circle cx="140.6" cy="357.9" r="2.55"/><circle cx="61.3" cy="360.6" r="2.55"/><circle cx="61.3" cy="360.6" r="2.55"/><circle cx="92.5" cy="367.4" r="2.55"/><circle cx="92.5" cy="367.4" r="2.55"/><circle cx="158.8" cy="356.0" r="2.55"/><circle cx="67.8" cy="365.5" r="2.55"/><circle cx="113.3" cy="343.1" r="2.55"/><circle cx="113.3" cy="343.1" r="2.55"/><circle cx="130.2" cy="366.9" r="2.55"/><circle cx="104.2" cy="357.6" r="2.55"/><circle cx="104.2" cy="357.6" r="2.55"/><circle cx="71.7" cy="335.6" r="2.55"/><circle cx="162.7" cy="365.6" r="2.55"/><circle cx="162.7" cy="365.6" r="2.55"/><circle cx="66.5" cy="359.7" r="2.55"/><circle cx="66.5" cy="359.7" r="2.55"/><circle cx="66.5" cy="359.7" r="2.55"/><circle cx="126.3" cy="364.4" r="2.55"/><circle cx="126.3" cy="364.4" r="2.55"/><circle cx="139.3" cy="352.6" r="2.55"/><circle cx="139.3" cy="352.6" r="2.55"/><circle cx="139.3" cy="352.6" r="2.55"/><circle cx="139.3" cy="352.6" r="2.55"/><circle cx="139.3" cy="352.6" r="2.55"/><circle cx="154.9" cy="360.3" r="2.55"/><circle cx="153.6" cy="365.1" r="2.55"/><circle cx="101.6" cy="366.8" r="2.55"/><circle cx="89.9" cy="363.5" r="2.55"/><circle cx="89.9" cy="363.5" r="2.55"/><circle cx="52.2" cy="347.9" r="2.55"/><circle cx="52.2" cy="347.9" r="2.55"/><circle cx="127.6" cy="357.0" r="2.55"/><circle cx="96.4" cy="364.2" r="2.55"/><circle cx="96.4" cy="364.2" r="2.55"/><circle cx="73.0" cy="358.9" r="2.55"/><circle cx="109.4" cy="359.7" r="2.55"/><circle cx="80.8" cy="348.8" r="2.55"/><circle cx="80.8" cy="348.8" r="2.55"/><circle cx="80.8" cy="348.8" r="2.55"/><circle cx="80.8" cy="348.8" r="2.55"/><circle cx="52.2" cy="356.2" r="2.55"/><circle cx="114.6" cy="359.9" r="2.55"/><circle cx="86.0" cy="367.3" r="2.55"/><circle cx="86.0" cy="367.3" r="2.55"/><circle cx="151.0" cy="365.6" r="2.55"/><circle cx="151.0" cy="365.6" r="2.55"/><circle cx="151.0" cy="365.6" r="2.55"/><circle cx="151.0" cy="365.6" r="2.55"/><circle cx="136.7" cy="362.0" r="2.55"/><circle cx="152.3" cy="367.0" r="2.55"/><circle cx="60.0" cy="363.5" r="2.55"/><circle cx="60.0" cy="363.5" r="2.55"/><circle cx="60.0" cy="363.5" r="2.55"/><circle cx="60.0" cy="363.5" r="2.55"/><circle cx="60.0" cy="363.5" r="2.55"/><circle cx="60.0" cy="363.5" r="2.55"/><circle cx="70.4" cy="361.8" r="2.55"/><circle cx="70.4" cy="361.8" r="2.55"/><circle cx="89.9" cy="366.0" r="2.55"/><circle cx="63.9" cy="363.0" r="2.55"/><circle cx="151.0" cy="359.6" r="2.55"/><circle cx="63.9" cy="363.9" r="2.55"/><circle cx="171.8" cy="353.8" r="2.55"/><circle cx="83.4" cy="354.8" r="2.55"/><circle cx="148.4" cy="367.4" r="2.55"/><circle cx="148.4" cy="367.4" r="2.55"/><circle cx="148.4" cy="367.4" r="2.55"/><circle cx="78.2" cy="366.1" r="2.55"/><circle cx="78.2" cy="366.1" r="2.55"/><circle cx="78.2" cy="366.1" r="2.55"/><circle cx="78.2" cy="366.1" r="2.55"/><circle cx="147.1" cy="361.0" r="2.55"/><circle cx="147.1" cy="361.0" r="2.55"/><circle cx="147.1" cy="361.0" r="2.55"/><circle cx="75.6" cy="366.7" r="2.55"/><circle cx="75.6" cy="366.7" r="2.55"/><circle cx="145.8" cy="366.0" r="2.55"/><circle cx="145.8" cy="366.0" r="2.55"/><circle cx="58.7" cy="350.6" r="2.55"/><circle cx="69.1" cy="363.7" r="2.55"/><circle cx="69.1" cy="363.7" r="2.55"/><circle cx="69.1" cy="363.7" r="2.55"/><circle cx="69.1" cy="363.7" r="2.55"/><circle cx="69.1" cy="363.7" r="2.55"/><circle cx="69.1" cy="363.7" r="2.55"/><circle cx="156.2" cy="357.7" r="2.55"/><circle cx="156.2" cy="357.7" r="2.55"/><circle cx="87.3" cy="361.8" r="2.55"/><circle cx="66.5" cy="353.9" r="2.55"/><circle cx="66.5" cy="353.9" r="2.55"/><circle cx="66.5" cy="353.9" r="2.55"/><circle cx="91.2" cy="356.7" r="2.55"/><circle cx="91.2" cy="356.7" r="2.55"/><circle cx="82.1" cy="365.6" r="2.55"/><circle cx="106.8" cy="360.5" r="2.55"/><circle cx="106.8" cy="360.5" r="2.55"/><circle cx="118.5" cy="367.2" r="2.55"/><circle cx="118.5" cy="367.2" r="2.55"/><circle cx="118.5" cy="367.2" r="2.55"/><circle cx="84.7" cy="363.0" r="2.55"/><circle cx="66.5" cy="356.9" r="2.55"/><circle cx="66.5" cy="356.9" r="2.55"/><circle cx="63.9" cy="361.9" r="2.55"/><circle cx="75.6" cy="362.8" r="2.55"/><circle cx="66.5" cy="363.7" r="2.55"/><circle cx="66.5" cy="363.7" r="2.55"/><circle cx="66.5" cy="363.7" r="2.55"/><circle cx="66.5" cy="363.7" r="2.55"/><circle cx="66.5" cy="363.7" r="2.55"/><circle cx="131.5" cy="366.0" r="2.55"/><circle cx="131.5" cy="366.0" r="2.55"/><circle cx="84.7" cy="352.1" r="2.55"/><circle cx="84.7" cy="352.1" r="2.55"/><circle cx="84.7" cy="352.1" r="2.55"/><circle cx="80.8" cy="365.1" r="2.55"/><circle cx="80.8" cy="365.1" r="2.55"/><circle cx="157.5" cy="363.3" r="2.55"/><circle cx="96.4" cy="359.6" r="2.55"/><circle cx="96.4" cy="359.6" r="2.55"/><circle cx="96.4" cy="359.6" r="2.55"/><circle cx="102.9" cy="338.7" r="2.55"/><circle cx="121.1" cy="367.4" r="2.55"/><circle cx="121.1" cy="367.4" r="2.55"/><circle cx="145.8" cy="367.4" r="2.55"/><circle cx="145.8" cy="367.4" r="2.55"/><circle cx="118.5" cy="362.7" r="2.55"/><circle cx="84.7" cy="360.3" r="2.55"/><circle cx="145.8" cy="357.7" r="2.55"/><circle cx="83.4" cy="349.4" r="2.55"/><circle cx="83.4" cy="349.4" r="2.55"/><circle cx="61.3" cy="367.2" r="2.55"/><circle cx="114.6" cy="366.1" r="2.55"/><circle cx="149.7" cy="349.7" r="2.55"/><circle cx="149.7" cy="349.7" r="2.55"/><circle cx="83.4" cy="361.9" r="2.55"/><circle cx="83.4" cy="361.9" r="2.55"/><circle cx="82.1" cy="365.7" r="2.55"/><circle cx="83.4" cy="364.5" r="2.55"/><circle cx="109.4" cy="360.1" r="2.55"/><circle cx="109.4" cy="360.1" r="2.55"/><circle cx="53.5" cy="365.9" r="2.55"/><circle cx="53.5" cy="365.9" r="2.55"/><circle cx="171.8" cy="358.9" r="2.55"/><circle cx="171.8" cy="358.9" r="2.55"/><circle cx="171.8" cy="358.9" r="2.55"/><circle cx="171.8" cy="358.9" r="2.55"/><circle cx="171.8" cy="358.9" r="2.55"/><circle cx="171.8" cy="358.9" r="2.55"/><circle cx="87.3" cy="361.2" r="2.55"/><circle cx="87.3" cy="361.2" r="2.55"/><circle cx="87.3" cy="361.2" r="2.55"/><circle cx="154.9" cy="365.6" r="2.55"/><circle cx="67.8" cy="366.1" r="2.55"/><circle cx="70.4" cy="360.2" r="2.55"/><circle cx="70.4" cy="360.2" r="2.55"/><circle cx="70.4" cy="360.2" r="2.55"/><circle cx="70.4" cy="360.2" r="2.55"/><circle cx="84.7" cy="360.7" r="2.55"/><circle cx="115.9" cy="353.5" r="2.55"/><circle cx="57.4" cy="366.5" r="2.55"/><circle cx="57.4" cy="366.5" r="2.55"/><circle cx="57.4" cy="366.5" r="2.55"/><circle cx="52.2" cy="364.4" r="2.55"/><circle cx="112.0" cy="355.1" r="2.55"/><circle cx="112.0" cy="355.1" r="2.55"/><circle cx="125.0" cy="365.8" r="2.55"/><circle cx="147.1" cy="357.8" r="2.55"/><circle cx="147.1" cy="357.8" r="2.55"/><circle cx="147.1" cy="357.8" r="2.55"/><circle cx="147.1" cy="357.8" r="2.55"/><circle cx="78.2" cy="349.2" r="2.55"/><circle cx="134.1" cy="360.4" r="2.55"/><circle cx="87.3" cy="364.0" r="2.55"/><circle cx="126.3" cy="367.0" r="2.55"/><circle cx="126.3" cy="367.0" r="2.55"/><circle cx="118.5" cy="357.5" r="2.55"/><circle cx="118.5" cy="357.5" r="2.55"/><circle cx="50.9" cy="357.3" r="2.55"/><circle cx="50.9" cy="357.3" r="2.55"/><circle cx="75.6" cy="355.0" r="2.55"/><circle cx="75.6" cy="355.0" r="2.55"/><circle cx="75.6" cy="355.0" r="2.55"/><circle cx="75.6" cy="355.0" r="2.55"/><circle cx="75.6" cy="355.0" r="2.55"/><circle cx="83.4" cy="342.9" r="2.55"/><circle cx="83.4" cy="342.9" r="2.55"/><circle cx="79.5" cy="341.7" r="2.55"/><circle cx="157.5" cy="360.3" r="2.55"/><circle cx="162.7" cy="364.6" r="2.55"/><circle cx="80.8" cy="367.2" r="2.55"/><circle cx="69.1" cy="362.9" r="2.55"/><circle cx="69.1" cy="362.9" r="2.55"/><circle cx="61.3" cy="342.6" r="2.55"/><circle cx="61.3" cy="342.6" r="2.55"/><circle cx="134.1" cy="360.2" r="2.55"/><circle cx="114.6" cy="363.2" r="2.55"/><circle cx="114.6" cy="363.2" r="2.55"/><circle cx="114.6" cy="363.2" r="2.55"/><circle cx="52.2" cy="365.9" r="2.55"/><circle cx="52.2" cy="365.9" r="2.55"/><circle cx="104.2" cy="357.5" r="2.55"/><circle cx="104.2" cy="357.5" r="2.55"/><circle cx="143.2" cy="347.2" r="2.55"/><circle cx="78.2" cy="364.6" r="2.55"/><circle cx="87.3" cy="360.5" r="2.55"/><circle cx="136.7" cy="367.4" r="2.55"/><circle cx="128.9" cy="365.6" r="2.55"/><circle cx="60.0" cy="365.8" r="2.55"/><circle cx="60.0" cy="365.8" r="2.55"/><circle cx="152.3" cy="365.8" r="2.55"/><circle cx="152.3" cy="365.8" r="2.55"/><circle cx="152.3" cy="365.8" r="2.55"/><circle cx="88.6" cy="334.6" r="2.55"/><circle cx="52.2" cy="343.0" r="2.55"/><circle cx="99.0" cy="364.8" r="2.55"/><circle cx="99.0" cy="364.8" r="2.55"/><circle cx="99.0" cy="364.8" r="2.55"/><circle cx="110.7" cy="365.5" r="2.55"/><circle cx="57.4" cy="365.9" r="2.55"/><circle cx="62.6" cy="357.2" r="2.55"/><circle cx="62.6" cy="357.2" r="2.55"/><circle cx="88.6" cy="357.6" r="2.55"/><circle cx="88.6" cy="357.6" r="2.55"/><circle cx="88.6" cy="357.6" r="2.55"/><circle cx="100.3" cy="366.0" r="2.55"/><circle cx="57.4" cy="357.0" r="2.55"/><circle cx="57.4" cy="357.0" r="2.55"/><circle cx="106.8" cy="365.7" r="2.55"/><circle cx="63.9" cy="365.7" r="2.55"/><circle cx="63.9" cy="360.3" r="2.55"/><circle cx="70.4" cy="360.2" r="2.55"/><circle cx="65.2" cy="365.1" r="2.55"/><circle cx="65.2" cy="365.1" r="2.55"/><circle cx="87.3" cy="361.7" r="2.55"/><circle cx="156.2" cy="359.3" r="2.55"/><circle cx="156.2" cy="359.3" r="2.55"/><circle cx="82.1" cy="359.5" r="2.55"/><circle cx="95.1" cy="365.3" r="2.55"/><circle cx="95.1" cy="365.3" r="2.55"/><circle cx="95.1" cy="365.3" r="2.55"/><circle cx="95.1" cy="365.3" r="2.55"/><circle cx="73.0" cy="355.3" r="2.55"/><circle cx="73.0" cy="355.3" r="2.55"/><circle cx="73.0" cy="355.3" r="2.55"/><circle cx="73.0" cy="355.3" r="2.55"/><circle cx="73.0" cy="355.3" r="2.55"/><circle cx="95.1" cy="358.2" r="2.55"/><circle cx="95.1" cy="358.2" r="2.55"/><circle cx="95.1" cy="358.2" r="2.55"/><circle cx="95.1" cy="358.2" r="2.55"/><circle cx="57.4" cy="366.7" r="2.55"/><circle cx="57.4" cy="366.0" r="2.55"/><circle cx="57.4" cy="366.0" r="2.55"/><circle cx="117.2" cy="366.7" r="2.55"/><circle cx="123.7" cy="364.8" r="2.55"/><circle cx="164.0" cy="365.5" r="2.55"/><circle cx="106.8" cy="365.5" r="2.55"/><circle cx="148.4" cy="365.2" r="2.55"/><circle cx="119.8" cy="358.4" r="2.55"/><circle cx="104.2" cy="349.4" r="2.55"/><circle cx="65.2" cy="358.8" r="2.55"/><circle cx="91.2" cy="337.8" r="2.55"/><circle cx="91.2" cy="337.8" r="2.55"/><circle cx="118.5" cy="365.3" r="2.55"/><circle cx="118.5" cy="365.3" r="2.55"/><circle cx="60.0" cy="354.5" r="2.55"/><circle cx="60.0" cy="354.5" r="2.55"/><circle cx="114.6" cy="364.3" r="2.55"/><circle cx="114.6" cy="364.3" r="2.55"/><circle cx="63.9" cy="367.0" r="2.55"/><circle cx="92.5" cy="366.4" r="2.55"/><circle cx="65.2" cy="366.0" r="2.55"/><circle cx="127.6" cy="366.4" r="2.55"/><circle cx="127.6" cy="366.4" r="2.55"/><circle cx="127.6" cy="366.4" r="2.55"/><circle cx="75.6" cy="363.0" r="2.55"/><circle cx="75.6" cy="363.0" r="2.55"/><circle cx="99.0" cy="365.5" r="2.55"/><circle cx="87.3" cy="350.6" r="2.55"/><circle cx="87.3" cy="350.6" r="2.55"/><circle cx="92.5" cy="358.2" r="2.55"/><circle cx="92.5" cy="358.2" r="2.55"/><circle cx="157.5" cy="365.6" r="2.55"/><circle cx="157.5" cy="365.6" r="2.55"/><circle cx="86.0" cy="362.6" r="2.55"/><circle cx="86.0" cy="362.6" r="2.55"/><circle cx="75.6" cy="364.1" r="2.55"/><circle cx="75.6" cy="364.1" r="2.55"/><circle cx="76.9" cy="353.6" r="2.55"/><circle cx="76.9" cy="353.6" r="2.55"/><circle cx="76.9" cy="353.6" r="2.55"/><circle cx="50.9" cy="359.1" r="2.55"/><circle cx="97.7" cy="355.3" r="2.55"/><circle cx="88.6" cy="364.0" r="2.55"/><circle cx="101.6" cy="366.7" r="2.55"/><circle cx="83.4" cy="363.4" r="2.55"/><circle cx="161.4" cy="351.3" r="2.55"/><circle cx="161.4" cy="351.3" r="2.55"/><circle cx="145.8" cy="356.5" r="2.55"/><circle cx="145.8" cy="356.5" r="2.55"/><circle cx="69.1" cy="364.1" r="2.55"/><circle cx="69.1" cy="364.1" r="2.55"/><circle cx="56.1" cy="360.4" r="2.55"/><circle cx="56.1" cy="360.4" r="2.55"/><circle cx="117.2" cy="357.8" r="2.55"/><circle cx="117.2" cy="357.8" r="2.55"/><circle cx="80.8" cy="365.2" r="2.55"/><circle cx="80.8" cy="365.2" r="2.55"/><circle cx="63.9" cy="367.3" r="2.55"/><circle cx="60.0" cy="355.6" r="2.55"/><circle cx="79.5" cy="363.4" r="2.55"/><circle cx="95.1" cy="351.1" r="2.55"/><circle cx="95.1" cy="351.1" r="2.55"/><circle cx="95.1" cy="351.1" r="2.55"/><circle cx="95.1" cy="351.1" r="2.55"/><circle cx="118.5" cy="359.2" r="2.55"/><circle cx="95.1" cy="361.3" r="2.55"/><circle cx="65.2" cy="352.4" r="2.55"/><circle cx="126.3" cy="364.3" r="2.55"/><circle cx="80.8" cy="363.9" r="2.55"/><circle cx="67.8" cy="367.2" r="2.55"/><circle cx="136.7" cy="359.9" r="2.55"/><circle cx="136.7" cy="359.9" r="2.55"/><circle cx="113.3" cy="362.7" r="2.55"/><circle cx="101.6" cy="358.0" r="2.55"/><circle cx="113.3" cy="359.5" r="2.55"/><circle cx="93.8" cy="357.8" r="2.55"/><circle cx="76.9" cy="361.9" r="2.55"/><circle cx="148.4" cy="348.7" r="2.55"/><circle cx="148.4" cy="348.7" r="2.55"/><circle cx="102.9" cy="365.9" r="2.55"/><circle cx="53.5" cy="346.9" r="2.55"/><circle cx="53.5" cy="346.9" r="2.55"/><circle cx="53.5" cy="346.9" r="2.55"/><circle cx="131.5" cy="361.5" r="2.55"/><circle cx="138.0" cy="365.6" r="2.55"/><circle cx="138.0" cy="365.6" r="2.55"/><circle cx="138.0" cy="365.6" r="2.55"/><circle cx="112.0" cy="363.3" r="2.55"/><circle cx="62.6" cy="363.9" r="2.55"/><circle cx="84.7" cy="361.9" r="2.55"/><circle cx="75.6" cy="348.5" r="2.55"/><circle cx="79.5" cy="357.4" r="2.55"/><circle cx="154.9" cy="356.3" r="2.55"/><circle cx="154.9" cy="356.3" r="2.55"/><circle cx="154.9" cy="356.3" r="2.55"/><circle cx="62.6" cy="353.7" r="2.55"/><circle cx="149.7" cy="363.8" r="2.55"/><circle cx="99.0" cy="365.5" r="2.55"/><circle cx="99.0" cy="365.5" r="2.55"/><circle cx="99.0" cy="365.5" r="2.55"/><circle cx="99.0" cy="365.5" r="2.55"/><circle cx="99.0" cy="365.5" r="2.55"/><circle cx="79.5" cy="363.3" r="2.55"/><circle cx="79.5" cy="363.3" r="2.55"/><circle cx="140.6" cy="366.4" r="2.55"/><circle cx="82.1" cy="365.8" r="2.55"/><circle cx="82.1" cy="365.8" r="2.55"/><circle cx="96.4" cy="366.0" r="2.55"/><circle cx="119.8" cy="345.1" r="2.55"/><circle cx="118.5" cy="361.9" r="2.55"/><circle cx="118.5" cy="361.9" r="2.55"/><circle cx="118.5" cy="361.9" r="2.55"/><circle cx="118.5" cy="361.9" r="2.55"/><circle cx="70.4" cy="366.9" r="2.55"/><circle cx="109.4" cy="363.8" r="2.55"/><circle cx="109.4" cy="363.8" r="2.55"/><circle cx="109.4" cy="363.8" r="2.55"/><circle cx="101.6" cy="364.0" r="2.55"/><circle cx="101.6" cy="364.0" r="2.55"/><circle cx="71.7" cy="360.5" r="2.55"/><circle cx="71.7" cy="360.5" r="2.55"/><circle cx="50.9" cy="355.8" r="2.55"/><circle cx="50.9" cy="355.8" r="2.55"/><circle cx="50.9" cy="355.8" r="2.55"/><circle cx="50.9" cy="355.8" r="2.55"/><circle cx="50.9" cy="355.8" r="2.55"/><circle cx="101.6" cy="349.8" r="2.55"/><circle cx="109.4" cy="365.1" r="2.55"/><circle cx="131.5" cy="359.5" r="2.55"/><circle cx="102.9" cy="356.7" r="2.55"/><circle cx="102.9" cy="356.7" r="2.55"/><circle cx="136.7" cy="365.0" r="2.55"/><circle cx="136.7" cy="365.0" r="2.55"/><circle cx="136.7" cy="365.0" r="2.55"/><circle cx="136.7" cy="365.0" r="2.55"/><circle cx="109.4" cy="366.7" r="2.55"/><circle cx="109.4" cy="366.7" r="2.55"/><circle cx="109.4" cy="366.7" r="2.55"/><circle cx="53.5" cy="361.6" r="2.55"/><circle cx="122.4" cy="353.7" r="2.55"/><circle cx="122.4" cy="353.7" r="2.55"/><circle cx="122.4" cy="353.7" r="2.55"/><circle cx="101.6" cy="348.9" r="2.55"/><circle cx="143.2" cy="365.1" r="2.55"/><circle cx="143.2" cy="365.1" r="2.55"/><circle cx="106.8" cy="357.0" r="2.55"/><circle cx="106.8" cy="357.0" r="2.55"/><circle cx="106.8" cy="357.0" r="2.55"/><circle cx="88.6" cy="363.8" r="2.55"/><circle cx="102.9" cy="362.1" r="2.55"/><circle cx="89.9" cy="354.6" r="2.55"/><circle cx="73.0" cy="367.3" r="2.55"/><circle cx="73.0" cy="367.3" r="2.55"/><circle cx="78.2" cy="354.4" r="2.55"/><circle cx="78.2" cy="354.4" r="2.55"/><circle cx="78.2" cy="354.4" r="2.55"/><circle cx="71.7" cy="367.0" r="2.55"/><circle cx="71.7" cy="367.0" r="2.55"/><circle cx="71.7" cy="367.0" r="2.55"/><circle cx="88.6" cy="357.9" r="2.55"/><circle cx="62.6" cy="362.6" r="2.55"/><circle cx="78.2" cy="351.8" r="2.55"/><circle cx="78.2" cy="351.8" r="2.55"/><circle cx="106.8" cy="353.5" r="2.55"/><circle cx="106.8" cy="353.5" r="2.55"/><circle cx="57.4" cy="367.3" r="2.55"/><circle cx="66.5" cy="365.8" r="2.55"/><circle cx="66.5" cy="365.8" r="2.55"/><circle cx="66.5" cy="365.8" r="2.55"/><circle cx="139.3" cy="346.5" r="2.55"/><circle cx="102.9" cy="363.5" r="2.55"/><circle cx="106.8" cy="365.7" r="2.55"/><circle cx="153.6" cy="366.1" r="2.55"/><circle cx="71.7" cy="356.4" r="2.55"/><circle cx="71.7" cy="356.4" r="2.55"/><circle cx="71.7" cy="356.4" r="2.55"/><circle cx="71.7" cy="356.4" r="2.55"/><circle cx="58.7" cy="357.4" r="2.55"/><circle cx="58.7" cy="357.4" r="2.55"/><circle cx="58.7" cy="357.4" r="2.55"/><circle cx="58.7" cy="357.4" r="2.55"/><circle cx="58.7" cy="357.4" r="2.55"/><circle cx="58.7" cy="357.4" r="2.55"/><circle cx="54.8" cy="353.4" r="2.55"/><circle cx="54.8" cy="353.4" r="2.55"/><circle cx="134.1" cy="354.7" r="2.55"/><circle cx="138.0" cy="364.5" r="2.55"/><circle cx="70.4" cy="363.5" r="2.55"/><circle cx="151.0" cy="357.7" r="2.55"/><circle cx="50.9" cy="362.7" r="2.55"/><circle cx="148.4" cy="359.7" r="2.55"/><circle cx="148.4" cy="359.7" r="2.55"/><circle cx="148.4" cy="359.7" r="2.55"/><circle cx="148.4" cy="359.7" r="2.55"/><circle cx="148.4" cy="359.7" r="2.55"/><circle cx="140.6" cy="364.7" r="2.55"/><circle cx="88.6" cy="355.7" r="2.55"/><circle cx="96.4" cy="365.3" r="2.55"/><circle cx="96.4" cy="365.3" r="2.55"/><circle cx="96.4" cy="365.3" r="2.55"/><circle cx="139.3" cy="355.8" r="2.55"/><circle cx="139.3" cy="355.8" r="2.55"/><circle cx="121.1" cy="351.8" r="2.55"/><circle cx="61.3" cy="355.2" r="2.55"/><circle cx="71.7" cy="360.4" r="2.55"/><circle cx="112.0" cy="366.9" r="2.55"/><circle cx="164.0" cy="364.0" r="2.55"/><circle cx="66.5" cy="362.5" r="2.55"/><circle cx="66.5" cy="362.5" r="2.55"/><circle cx="156.2" cy="359.1" r="2.55"/><circle cx="145.8" cy="363.4" r="2.55"/><circle cx="145.8" cy="363.4" r="2.55"/><circle cx="156.2" cy="360.7" r="2.55"/><circle cx="156.2" cy="360.7" r="2.55"/><circle cx="156.2" cy="360.7" r="2.55"/><circle cx="156.2" cy="360.7" r="2.55"/><circle cx="156.2" cy="360.7" r="2.55"/><circle cx="91.2" cy="348.6" r="2.55"/><circle cx="91.2" cy="348.6" r="2.55"/><circle cx="91.2" cy="348.6" r="2.55"/><circle cx="91.2" cy="348.6" r="2.55"/><circle cx="112.0" cy="356.7" r="2.55"/><circle cx="66.5" cy="366.2" r="2.55"/><circle cx="149.7" cy="340.8" r="2.55"/><circle cx="149.7" cy="340.8" r="2.55"/><circle cx="149.7" cy="340.8" r="2.55"/><circle cx="128.9" cy="366.7" r="2.55"/><circle cx="128.9" cy="366.7" r="2.55"/><circle cx="128.9" cy="366.7" r="2.55"/><circle cx="143.2" cy="365.8" r="2.55"/><circle cx="143.2" cy="365.8" r="2.55"/><circle cx="169.2" cy="361.0" r="2.55"/><circle cx="62.6" cy="348.1" r="2.55"/><circle cx="62.6" cy="348.1" r="2.55"/><circle cx="62.6" cy="348.1" r="2.55"/><circle cx="54.8" cy="361.8" r="2.55"/><circle cx="100.3" cy="366.1" r="2.55"/><circle cx="100.3" cy="366.1" r="2.55"/><circle cx="69.1" cy="366.4" r="2.55"/><circle cx="76.9" cy="364.2" r="2.55"/><circle cx="76.9" cy="364.2" r="2.55"/><circle cx="74.3" cy="362.2" r="2.55"/><circle cx="74.3" cy="362.2" r="2.55"/><circle cx="143.2" cy="355.9" r="2.55"/><circle cx="114.6" cy="351.7" r="2.55"/><circle cx="158.8" cy="362.9" r="2.55"/><circle cx="158.8" cy="362.9" r="2.55"/><circle cx="151.0" cy="364.4" r="2.55"/><circle cx="74.3" cy="362.3" r="2.55"/><circle cx="74.3" cy="362.3" r="2.55"/><circle cx="74.3" cy="362.3" r="2.55"/><circle cx="122.4" cy="364.7" r="2.55"/><circle cx="122.4" cy="364.7" r="2.55"/><circle cx="131.5" cy="362.2" r="2.55"/><circle cx="131.5" cy="362.2" r="2.55"/><circle cx="73.0" cy="363.7" r="2.55"/><circle cx="73.0" cy="363.7" r="2.55"/><circle cx="73.0" cy="363.7" r="2.55"/><circle cx="70.4" cy="339.1" r="2.55"/><circle cx="106.8" cy="364.9" r="2.55"/><circle cx="53.5" cy="366.3" r="2.55"/><circle cx="91.2" cy="361.3" r="2.55"/><circle cx="102.9" cy="360.5" r="2.55"/><circle cx="102.9" cy="360.5" r="2.55"/><circle cx="102.9" cy="360.5" r="2.55"/><circle cx="148.4" cy="361.9" r="2.55"/><circle cx="148.4" cy="361.9" r="2.55"/><circle cx="93.8" cy="365.4" r="2.55"/><circle cx="50.9" cy="365.4" r="2.55"/><circle cx="125.0" cy="356.6" r="2.55"/><circle cx="125.0" cy="356.6" r="2.55"/><circle cx="49.6" cy="362.5" r="2.55"/><circle cx="132.8" cy="364.3" r="2.55"/><circle cx="170.5" cy="363.2" r="2.55"/><circle cx="75.6" cy="366.6" r="2.55"/><circle cx="75.6" cy="366.6" r="2.55"/><circle cx="75.6" cy="366.6" r="2.55"/><circle cx="75.6" cy="366.6" r="2.55"/><circle cx="97.7" cy="363.8" r="2.55"/><circle cx="97.7" cy="363.8" r="2.55"/><circle cx="152.3" cy="356.7" r="2.55"/><circle cx="160.1" cy="365.7" r="2.55"/><circle cx="160.1" cy="365.7" r="2.55"/><circle cx="102.9" cy="346.2" r="2.55"/><circle cx="141.9" cy="366.4" r="2.55"/><circle cx="141.9" cy="366.4" r="2.55"/><circle cx="102.9" cy="365.4" r="2.55"/><circle cx="70.4" cy="366.2" r="2.55"/><circle cx="136.7" cy="366.5" r="2.55"/><circle cx="123.7" cy="362.5" r="2.55"/><circle cx="123.7" cy="362.5" r="2.55"/><circle cx="110.7" cy="367.4" r="2.55"/><circle cx="58.7" cy="365.1" r="2.55"/><circle cx="58.7" cy="365.1" r="2.55"/><circle cx="58.7" cy="365.1" r="2.55"/><circle cx="58.7" cy="365.1" r="2.55"/><circle cx="161.4" cy="356.0" r="2.55"/><circle cx="84.7" cy="362.5" r="2.55"/><circle cx="106.8" cy="357.7" r="2.55"/><circle cx="82.1" cy="353.4" r="2.55"/><circle cx="115.9" cy="351.1" r="2.55"/><circle cx="138.0" cy="367.1" r="2.55"/><circle cx="61.3" cy="366.7" r="2.55"/><circle cx="145.8" cy="365.3" r="2.55"/><circle cx="86.0" cy="364.7" r="2.55"/><circle cx="86.0" cy="364.7" r="2.55"/><circle cx="97.7" cy="358.7" r="2.55"/><circle cx="97.7" cy="358.7" r="2.55"/><circle cx="97.7" cy="358.7" r="2.55"/><circle cx="113.3" cy="367.2" r="2.55"/><circle cx="113.3" cy="367.2" r="2.55"/><circle cx="67.8" cy="358.7" r="2.55"/><circle cx="67.8" cy="358.7" r="2.55"/><circle cx="73.0" cy="367.0" r="2.55"/><circle cx="123.7" cy="366.8" r="2.55"/><circle cx="125.0" cy="360.8" r="2.55"/><circle cx="113.3" cy="366.9" r="2.55"/><circle cx="182.2" cy="360.4" r="2.55"/><circle cx="182.2" cy="360.4" r="2.55"/><circle cx="108.1" cy="366.9" r="2.55"/><circle cx="108.1" cy="366.9" r="2.55"/><circle cx="99.0" cy="359.6" r="2.55"/><circle cx="82.1" cy="358.4" r="2.55"/><circle cx="82.1" cy="358.4" r="2.55"/><circle cx="82.1" cy="358.4" r="2.55"/><circle cx="113.3" cy="367.0" r="2.55"/><circle cx="123.7" cy="366.2" r="2.55"/><circle cx="148.4" cy="357.6" r="2.55"/><circle cx="92.5" cy="355.1" r="2.55"/><circle cx="92.5" cy="355.1" r="2.55"/><circle cx="119.8" cy="363.4" r="2.55"/><circle cx="119.8" cy="363.4" r="2.55"/><circle cx="67.8" cy="357.4" r="2.55"/><circle cx="56.1" cy="353.1" r="2.55"/><circle cx="66.5" cy="367.0" r="2.55"/><circle cx="135.4" cy="364.9" r="2.55"/><circle cx="152.3" cy="359.9" r="2.55"/><circle cx="89.9" cy="363.2" r="2.55"/><circle cx="49.6" cy="355.8" r="2.55"/><circle cx="73.0" cy="357.1" r="2.55"/><circle cx="73.0" cy="357.1" r="2.55"/><circle cx="73.0" cy="357.1" r="2.55"/><circle cx="73.0" cy="357.1" r="2.55"/><circle cx="73.0" cy="357.1" r="2.55"/><circle cx="66.5" cy="358.0" r="2.55"/><circle cx="66.5" cy="358.0" r="2.55"/><circle cx="49.6" cy="363.6" r="2.55"/><circle cx="96.4" cy="356.4" r="2.55"/><circle cx="78.2" cy="362.2" r="2.55"/><circle cx="99.0" cy="362.4" r="2.55"/><circle cx="99.0" cy="362.4" r="2.55"/><circle cx="99.0" cy="362.4" r="2.55"/><circle cx="99.0" cy="362.4" r="2.55"/><circle cx="136.7" cy="365.6" r="2.55"/><circle cx="123.7" cy="364.2" r="2.55"/><circle cx="147.1" cy="362.9" r="2.55"/><circle cx="147.1" cy="362.9" r="2.55"/><circle cx="89.9" cy="358.4" r="2.55"/><circle cx="86.0" cy="362.0" r="2.55"/><circle cx="86.0" cy="362.0" r="2.55"/><circle cx="105.5" cy="364.0" r="2.55"/><circle cx="121.1" cy="366.0" r="2.55"/><circle cx="115.9" cy="365.2" r="2.55"/><circle cx="102.9" cy="358.3" r="2.55"/><circle cx="102.9" cy="358.3" r="2.55"/><circle cx="102.9" cy="358.3" r="2.55"/><circle cx="80.8" cy="355.3" r="2.55"/><circle cx="143.2" cy="365.6" r="2.55"/><circle cx="143.2" cy="365.6" r="2.55"/><circle cx="58.7" cy="367.2" r="2.55"/><circle cx="99.0" cy="356.2" r="2.55"/><circle cx="104.2" cy="362.9" r="2.55"/><circle cx="114.6" cy="365.1" r="2.55"/><circle cx="114.6" cy="365.1" r="2.55"/><circle cx="114.6" cy="365.1" r="2.55"/><circle cx="73.0" cy="346.5" r="2.55"/><circle cx="73.0" cy="346.5" r="2.55"/><circle cx="73.0" cy="346.5" r="2.55"/><circle cx="73.0" cy="346.5" r="2.55"/><circle cx="73.0" cy="346.5" r="2.55"/><circle cx="73.0" cy="346.5" r="2.55"/><circle cx="112.0" cy="357.8" r="2.55"/><circle cx="104.2" cy="351.5" r="2.55"/><circle cx="114.6" cy="361.7" r="2.55"/><circle cx="114.6" cy="361.7" r="2.55"/><circle cx="114.6" cy="361.7" r="2.55"/><circle cx="114.6" cy="361.7" r="2.55"/><circle cx="87.3" cy="363.7" r="2.55"/><circle cx="105.5" cy="364.3" r="2.55"/><circle cx="105.5" cy="364.3" r="2.55"/><circle cx="105.5" cy="364.3" r="2.55"/><circle cx="76.9" cy="358.5" r="2.55"/><circle cx="139.3" cy="366.2" r="2.55"/><circle cx="83.4" cy="360.9" r="2.55"/><circle cx="97.7" cy="364.7" r="2.55"/><circle cx="144.5" cy="363.2" r="2.55"/><circle cx="67.8" cy="364.3" r="2.55"/><circle cx="67.8" cy="364.3" r="2.55"/><circle cx="110.7" cy="352.1" r="2.55"/><circle cx="66.5" cy="365.2" r="2.55"/><circle cx="136.7" cy="367.3" r="2.55"/><circle cx="136.7" cy="367.3" r="2.55"/><circle cx="89.9" cy="362.6" r="2.55"/><circle cx="89.9" cy="362.6" r="2.55"/><circle cx="89.9" cy="362.6" r="2.55"/><circle cx="105.5" cy="360.8" r="2.55"/><circle cx="105.5" cy="360.8" r="2.55"/><circle cx="130.2" cy="357.9" r="2.55"/><circle cx="65.2" cy="355.5" r="2.55"/><circle cx="65.2" cy="355.5" r="2.55"/><circle cx="62.6" cy="365.4" r="2.55"/><circle cx="49.6" cy="366.6" r="2.55"/><circle cx="104.2" cy="362.6" r="2.55"/><circle cx="92.5" cy="362.1" r="2.55"/><circle cx="92.5" cy="362.1" r="2.55"/><circle cx="92.5" cy="362.1" r="2.55"/><circle cx="125.0" cy="364.7" r="2.55"/><circle cx="99.0" cy="361.6" r="2.55"/><circle cx="91.2" cy="344.4" r="2.55"/><circle cx="91.2" cy="344.4" r="2.55"/><circle cx="91.2" cy="344.4" r="2.55"/><circle cx="104.2" cy="360.1" r="2.55"/><circle cx="104.2" cy="360.1" r="2.55"/><circle cx="104.2" cy="360.1" r="2.55"/><circle cx="104.2" cy="360.1" r="2.55"/><circle cx="127.6" cy="365.1" r="2.55"/><circle cx="102.9" cy="366.3" r="2.55"/><circle cx="102.9" cy="366.3" r="2.55"/><circle cx="115.9" cy="365.8" r="2.55"/><circle cx="157.5" cy="365.4" r="2.55"/><circle cx="149.7" cy="363.7" r="2.55"/><circle cx="149.7" cy="363.7" r="2.55"/><circle cx="78.2" cy="359.2" r="2.55"/><circle cx="78.2" cy="359.2" r="2.55"/><circle cx="78.2" cy="359.2" r="2.55"/><circle cx="152.3" cy="361.2" r="2.55"/><circle cx="152.3" cy="361.2" r="2.55"/><circle cx="152.3" cy="361.2" r="2.55"/><circle cx="152.3" cy="361.2" r="2.55"/><circle cx="69.1" cy="365.9" r="2.55"/><circle cx="69.1" cy="365.9" r="2.55"/><circle cx="125.0" cy="362.7" r="2.55"/><circle cx="69.1" cy="359.5" r="2.55"/><circle cx="69.1" cy="358.0" r="2.55"/><circle cx="130.2" cy="358.4" r="2.55"/><circle cx="130.2" cy="358.4" r="2.55"/><circle cx="134.1" cy="364.0" r="2.55"/><circle cx="134.1" cy="364.0" r="2.55"/><circle cx="134.1" cy="364.0" r="2.55"/><circle cx="134.1" cy="364.0" r="2.55"/><circle cx="65.2" cy="367.2" r="2.55"/><circle cx="157.5" cy="355.7" r="2.55"/><circle cx="157.5" cy="355.7" r="2.55"/><circle cx="157.5" cy="355.7" r="2.55"/><circle cx="75.6" cy="361.5" r="2.55"/><circle cx="75.6" cy="361.5" r="2.55"/><circle cx="52.2" cy="362.3" r="2.55"/><circle cx="79.5" cy="364.2" r="2.55"/><circle cx="79.5" cy="364.2" r="2.55"/><circle cx="79.5" cy="364.2" r="2.55"/><circle cx="79.5" cy="364.2" r="2.55"/><circle cx="53.5" cy="366.9" r="2.55"/><circle cx="53.5" cy="366.9" r="2.55"/><circle cx="60.0" cy="366.4" r="2.55"/><circle cx="60.0" cy="366.4" r="2.55"/><circle cx="60.0" cy="366.4" r="2.55"/><circle cx="73.0" cy="364.8" r="2.55"/><circle cx="114.6" cy="365.4" r="2.55"/><circle cx="157.5" cy="366.3" r="2.55"/><circle cx="70.4" cy="362.3" r="2.55"/><circle cx="78.2" cy="364.9" r="2.55"/><circle cx="78.2" cy="364.9" r="2.55"/><circle cx="86.0" cy="363.6" r="2.55"/><circle cx="82.1" cy="343.4" r="2.55"/><circle cx="82.1" cy="343.4" r="2.55"/><circle cx="104.2" cy="362.7" r="2.55"/><circle cx="53.5" cy="355.2" r="2.55"/><circle cx="53.5" cy="355.2" r="2.55"/><circle cx="80.8" cy="357.1" r="2.55"/><circle cx="147.1" cy="363.0" r="2.55"/><circle cx="71.7" cy="362.2" r="2.55"/><circle cx="123.7" cy="366.2" r="2.55"/><circle cx="123.7" cy="366.2" r="2.55"/><circle cx="156.2" cy="357.0" r="2.55"/><circle cx="156.2" cy="357.0" r="2.55"/><circle cx="63.9" cy="358.8" r="2.55"/><circle cx="121.1" cy="362.2" r="2.55"/><circle cx="82.1" cy="367.5" r="2.55"/><circle cx="82.1" cy="367.5" r="2.55"/><circle cx="138.0" cy="366.7" r="2.55"/><circle cx="138.0" cy="366.7" r="2.55"/><circle cx="138.0" cy="366.7" r="2.55"/><circle cx="114.6" cy="347.7" r="2.55"/><circle cx="114.6" cy="347.7" r="2.55"/><circle cx="76.9" cy="363.2" r="2.55"/><circle cx="76.9" cy="363.2" r="2.55"/><circle cx="76.9" cy="363.2" r="2.55"/><circle cx="125.0" cy="366.0" r="2.55"/><circle cx="125.0" cy="366.0" r="2.55"/><circle cx="71.7" cy="360.4" r="2.55"/><circle cx="71.7" cy="360.4" r="2.55"/><circle cx="78.2" cy="361.3" r="2.55"/><circle cx="114.6" cy="355.8" r="2.55"/><circle cx="52.2" cy="365.5" r="2.55"/><circle cx="52.2" cy="365.5" r="2.55"/><circle cx="54.8" cy="359.9" r="2.55"/><circle cx="128.9" cy="358.4" r="2.55"/><circle cx="95.1" cy="365.6" r="2.55"/><circle cx="134.1" cy="364.7" r="2.55"/><circle cx="119.8" cy="361.1" r="2.55"/><circle cx="119.8" cy="361.1" r="2.55"/><circle cx="151.0" cy="362.6" r="2.55"/><circle cx="157.5" cy="355.9" r="2.55"/><circle cx="178.3" cy="361.4" r="2.55"/><circle cx="62.6" cy="366.7" r="2.55"/><circle cx="62.6" cy="366.7" r="2.55"/><circle cx="121.1" cy="365.3" r="2.55"/><circle cx="121.1" cy="365.3" r="2.55"/><circle cx="117.2" cy="357.7" r="2.55"/><circle cx="156.2" cy="365.5" r="2.55"/><circle cx="156.2" cy="365.5" r="2.55"/><circle cx="50.9" cy="366.5" r="2.55"/><circle cx="54.8" cy="362.7" r="2.55"/><circle cx="95.1" cy="346.1" r="2.55"/><circle cx="95.1" cy="346.1" r="2.55"/><circle cx="125.0" cy="364.1" r="2.55"/><circle cx="119.8" cy="364.3" r="2.55"/><circle cx="147.1" cy="363.8" r="2.55"/><circle cx="147.1" cy="363.8" r="2.55"/><circle cx="134.1" cy="362.6" r="2.55"/><circle cx="134.1" cy="362.6" r="2.55"/><circle cx="134.1" cy="362.6" r="2.55"/><circle cx="104.2" cy="341.1" r="2.55"/><circle cx="52.2" cy="358.5" r="2.55"/><circle cx="69.1" cy="357.0" r="2.55"/><circle cx="157.5" cy="360.8" r="2.55"/><circle cx="52.2" cy="364.0" r="2.55"/><circle cx="52.2" cy="364.0" r="2.55"/><circle cx="138.0" cy="366.7" r="2.55"/><circle cx="138.0" cy="366.7" r="2.55"/><circle cx="138.0" cy="366.7" r="2.55"/><circle cx="148.4" cy="358.1" r="2.55"/><circle cx="95.1" cy="355.4" r="2.55"/><circle cx="66.5" cy="366.9" r="2.55"/><circle cx="66.5" cy="366.9" r="2.55"/><circle cx="66.5" cy="366.9" r="2.55"/><circle cx="66.5" cy="366.9" r="2.55"/><circle cx="187.4" cy="352.9" r="2.55"/><circle cx="187.4" cy="352.9" r="2.55"/><circle cx="187.4" cy="352.9" r="2.55"/><circle cx="104.2" cy="364.0" r="2.55"/><circle cx="104.2" cy="364.0" r="2.55"/><circle cx="104.2" cy="364.0" r="2.55"/><circle cx="123.7" cy="366.7" r="2.55"/><circle cx="126.3" cy="347.0" r="2.55"/><circle cx="126.3" cy="347.0" r="2.55"/><circle cx="126.3" cy="347.0" r="2.55"/><circle cx="126.3" cy="347.0" r="2.55"/><circle cx="126.3" cy="347.0" r="2.55"/><circle cx="105.5" cy="365.7" r="2.55"/><circle cx="108.1" cy="365.3" r="2.55"/><circle cx="108.1" cy="365.3" r="2.55"/><circle cx="65.2" cy="362.4" r="2.55"/><circle cx="114.6" cy="365.4" r="2.55"/><circle cx="114.6" cy="365.4" r="2.55"/><circle cx="71.7" cy="362.9" r="2.55"/><circle cx="84.7" cy="363.3" r="2.55"/><circle cx="84.7" cy="363.3" r="2.55"/><circle cx="54.8" cy="345.2" r="2.55"/><circle cx="54.8" cy="345.2" r="2.55"/><circle cx="93.8" cy="358.4" r="2.55"/><circle cx="93.8" cy="358.4" r="2.55"/><circle cx="58.7" cy="366.5" r="2.55"/><circle cx="58.7" cy="366.5" r="2.55"/><circle cx="58.7" cy="366.5" r="2.55"/><circle cx="93.8" cy="367.4" r="2.55"/><circle cx="105.5" cy="363.1" r="2.55"/><circle cx="52.2" cy="365.2" r="2.55"/><circle cx="61.3" cy="365.6" r="2.55"/><circle cx="61.3" cy="365.6" r="2.55"/><circle cx="61.3" cy="365.6" r="2.55"/><circle cx="126.3" cy="357.2" r="2.55"/><circle cx="126.3" cy="357.2" r="2.55"/><circle cx="110.7" cy="365.7" r="2.55"/><circle cx="110.7" cy="365.7" r="2.55"/><circle cx="110.7" cy="365.7" r="2.55"/><circle cx="110.7" cy="365.7" r="2.55"/><circle cx="173.1" cy="356.0" r="2.55"/><circle cx="63.9" cy="363.0" r="2.55"/><circle cx="63.9" cy="357.3" r="2.55"/><circle cx="63.9" cy="357.3" r="2.55"/><circle cx="63.9" cy="357.3" r="2.55"/><circle cx="136.7" cy="365.5" r="2.55"/><circle cx="136.7" cy="365.5" r="2.55"/><circle cx="122.4" cy="364.0" r="2.55"/><circle cx="91.2" cy="364.9" r="2.55"/><circle cx="91.2" cy="364.9" r="2.55"/><circle cx="91.2" cy="364.9" r="2.55"/><circle cx="91.2" cy="364.9" r="2.55"/><circle cx="89.9" cy="366.8" r="2.55"/><circle cx="89.9" cy="366.8" r="2.55"/><circle cx="83.4" cy="362.0" r="2.55"/><circle cx="83.4" cy="362.0" r="2.55"/><circle cx="123.7" cy="364.7" r="2.55"/><circle cx="110.7" cy="365.4" r="2.55"/><circle cx="87.3" cy="360.3" r="2.55"/><circle cx="87.3" cy="360.3" r="2.55"/><circle cx="87.3" cy="360.3" r="2.55"/><circle cx="87.3" cy="360.3" r="2.55"/><circle cx="79.5" cy="359.2" r="2.55"/><circle cx="61.3" cy="365.8" r="2.55"/><circle cx="87.3" cy="365.9" r="2.55"/><circle cx="87.3" cy="365.9" r="2.55"/><circle cx="87.3" cy="365.9" r="2.55"/><circle cx="87.3" cy="365.9" r="2.55"/><circle cx="117.2" cy="366.9" r="2.55"/><circle cx="117.2" cy="366.9" r="2.55"/><circle cx="117.2" cy="366.9" r="2.55"/><circle cx="147.1" cy="363.6" r="2.55"/><circle cx="56.1" cy="338.6" r="2.55"/><circle cx="106.8" cy="364.3" r="2.55"/><circle cx="106.8" cy="364.3" r="2.55"/><circle cx="145.8" cy="362.4" r="2.55"/><circle cx="145.8" cy="362.4" r="2.55"/><circle cx="145.8" cy="362.4" r="2.55"/><circle cx="145.8" cy="362.4" r="2.55"/><circle cx="145.8" cy="362.4" r="2.55"/><circle cx="145.8" cy="362.4" r="2.55"/><circle cx="125.0" cy="349.6" r="2.55"/><circle cx="125.0" cy="349.6" r="2.55"/><circle cx="95.1" cy="355.9" r="2.55"/><circle cx="95.1" cy="355.9" r="2.55"/><circle cx="95.1" cy="355.9" r="2.55"/><circle cx="148.4" cy="366.5" r="2.55"/><circle cx="132.8" cy="365.0" r="2.55"/><circle cx="65.2" cy="356.7" r="2.55"/><circle cx="65.2" cy="356.7" r="2.55"/><circle cx="82.1" cy="364.4" r="2.55"/><circle cx="88.6" cy="367.4" r="2.55"/><circle cx="113.3" cy="367.4" r="2.55"/><circle cx="49.6" cy="365.2" r="2.55"/><circle cx="119.8" cy="357.4" r="2.55"/><circle cx="151.0" cy="348.2" r="2.55"/><circle cx="151.0" cy="348.2" r="2.55"/><circle cx="151.0" cy="348.2" r="2.55"/><circle cx="118.5" cy="355.3" r="2.55"/><circle cx="109.4" cy="349.3" r="2.55"/><circle cx="121.1" cy="352.2" r="2.55"/><circle cx="151.0" cy="352.2" r="2.55"/><circle cx="156.2" cy="352.1" r="2.55"/><circle cx="149.7" cy="336.0" r="2.55"/><circle cx="149.7" cy="336.0" r="2.55"/><circle cx="184.8" cy="339.7" r="2.55"/><circle cx="157.5" cy="344.2" r="2.55"/><circle cx="157.5" cy="344.2" r="2.55"/><circle cx="157.5" cy="344.2" r="2.55"/><circle cx="138.0" cy="344.9" r="2.55"/><circle cx="105.5" cy="345.3" r="2.55"/><circle cx="173.1" cy="331.1" r="2.55"/><circle cx="106.8" cy="337.5" r="2.55"/><circle cx="143.2" cy="366.0" r="2.55"/><circle cx="156.2" cy="345.0" r="2.55"/><circle cx="156.2" cy="345.0" r="2.55"/><circle cx="156.2" cy="345.0" r="2.55"/><circle cx="102.9" cy="351.4" r="2.55"/><circle cx="96.4" cy="338.5" r="2.55"/><circle cx="170.5" cy="346.8" r="2.55"/><circle cx="118.5" cy="341.8" r="2.55"/><circle cx="157.5" cy="340.8" r="2.55"/><circle cx="126.3" cy="351.8" r="2.55"/><circle cx="126.3" cy="351.8" r="2.55"/><circle cx="126.3" cy="351.8" r="2.55"/><circle cx="126.3" cy="351.8" r="2.55"/><circle cx="127.6" cy="346.7" r="2.55"/><circle cx="127.6" cy="346.7" r="2.55"/><circle cx="151.0" cy="348.0" r="2.55"/><circle cx="151.0" cy="348.0" r="2.55"/><circle cx="132.8" cy="343.9" r="2.55"/><circle cx="147.1" cy="340.8" r="2.55"/><circle cx="143.2" cy="352.7" r="2.55"/><circle cx="173.1" cy="344.1" r="2.55"/><circle cx="173.1" cy="344.1" r="2.55"/><circle cx="173.1" cy="344.1" r="2.55"/><circle cx="106.8" cy="365.5" r="2.55"/><circle cx="106.8" cy="365.5" r="2.55"/><circle cx="169.2" cy="323.2" r="2.55"/><circle cx="169.2" cy="323.2" r="2.55"/><circle cx="169.2" cy="323.2" r="2.55"/><circle cx="118.5" cy="344.4" r="2.55"/><circle cx="118.5" cy="344.4" r="2.55"/><circle cx="169.2" cy="342.1" r="2.55"/><circle cx="127.6" cy="355.0" r="2.55"/><circle cx="191.3" cy="329.4" r="2.55"/><circle cx="139.3" cy="341.6" r="2.55"/><circle cx="154.9" cy="322.7" r="2.55"/><circle cx="156.2" cy="335.9" r="2.55"/><circle cx="156.2" cy="335.9" r="2.55"/><circle cx="96.4" cy="337.1" r="2.55"/><circle cx="96.4" cy="337.1" r="2.55"/><circle cx="96.4" cy="337.1" r="2.55"/><circle cx="96.4" cy="337.1" r="2.55"/><circle cx="118.5" cy="347.1" r="2.55"/><circle cx="118.5" cy="347.1" r="2.55"/><circle cx="118.5" cy="347.1" r="2.55"/><circle cx="117.2" cy="339.6" r="2.55"/><circle cx="126.3" cy="345.3" r="2.55"/><circle cx="187.4" cy="327.3" r="2.55"/><circle cx="112.0" cy="349.4" r="2.55"/><circle cx="112.0" cy="349.4" r="2.55"/><circle cx="96.4" cy="336.9" r="2.55"/><circle cx="134.1" cy="346.2" r="2.55"/><circle cx="134.1" cy="346.2" r="2.55"/><circle cx="108.1" cy="354.5" r="2.55"/><circle cx="108.1" cy="354.5" r="2.55"/><circle cx="108.1" cy="354.5" r="2.55"/><circle cx="162.7" cy="348.4" r="2.55"/><circle cx="144.5" cy="352.0" r="2.55"/><circle cx="144.5" cy="352.0" r="2.55"/><circle cx="144.5" cy="352.0" r="2.55"/><circle cx="144.5" cy="352.0" r="2.55"/><circle cx="144.5" cy="352.0" r="2.55"/><circle cx="173.1" cy="351.1" r="2.55"/><circle cx="125.0" cy="341.8" r="2.55"/><circle cx="149.7" cy="329.6" r="2.55"/><circle cx="119.8" cy="357.7" r="2.55"/><circle cx="180.9" cy="345.9" r="2.55"/><circle cx="162.7" cy="348.1" r="2.55"/><circle cx="162.7" cy="348.1" r="2.55"/><circle cx="169.2" cy="346.4" r="2.55"/><circle cx="169.2" cy="346.4" r="2.55"/><circle cx="169.2" cy="346.4" r="2.55"/><circle cx="104.2" cy="352.7" r="2.55"/><circle cx="104.2" cy="352.7" r="2.55"/><circle cx="104.2" cy="352.7" r="2.55"/><circle cx="104.2" cy="352.7" r="2.55"/><circle cx="105.5" cy="354.5" r="2.55"/><circle cx="105.5" cy="354.5" r="2.55"/><circle cx="102.9" cy="349.1" r="2.55"/><circle cx="134.1" cy="351.6" r="2.55"/><circle cx="147.1" cy="344.0" r="2.55"/><circle cx="147.1" cy="344.0" r="2.55"/><circle cx="147.1" cy="344.0" r="2.55"/><circle cx="106.8" cy="349.6" r="2.55"/><circle cx="106.8" cy="349.6" r="2.55"/><circle cx="166.6" cy="344.0" r="2.55"/><circle cx="166.6" cy="344.0" r="2.55"/><circle cx="126.3" cy="353.6" r="2.55"/><circle cx="141.9" cy="336.3" r="2.55"/><circle cx="138.0" cy="348.0" r="2.55"/><circle cx="119.8" cy="344.3" r="2.55"/><circle cx="119.8" cy="344.3" r="2.55"/><circle cx="143.2" cy="347.5" r="2.55"/><circle cx="143.2" cy="347.5" r="2.55"/><circle cx="143.2" cy="347.5" r="2.55"/><circle cx="143.2" cy="347.5" r="2.55"/><circle cx="143.2" cy="347.5" r="2.55"/><circle cx="180.9" cy="341.6" r="2.55"/><circle cx="180.9" cy="341.6" r="2.55"/><circle cx="180.9" cy="341.6" r="2.55"/><circle cx="106.8" cy="350.2" r="2.55"/><circle cx="144.5" cy="335.7" r="2.55"/><circle cx="144.5" cy="335.7" r="2.55"/><circle cx="188.7" cy="336.5" r="2.55"/><circle cx="188.7" cy="336.5" r="2.55"/><circle cx="188.7" cy="336.5" r="2.55"/><circle cx="179.6" cy="337.4" r="2.55"/><circle cx="179.6" cy="337.4" r="2.55"/><circle cx="140.6" cy="344.0" r="2.55"/><circle cx="140.6" cy="344.0" r="2.55"/><circle cx="165.3" cy="343.6" r="2.55"/><circle cx="165.3" cy="343.6" r="2.55"/><circle cx="131.5" cy="345.3" r="2.55"/><circle cx="130.2" cy="353.9" r="2.55"/><circle cx="130.2" cy="353.9" r="2.55"/><circle cx="130.2" cy="353.9" r="2.55"/><circle cx="130.2" cy="353.9" r="2.55"/><circle cx="151.0" cy="345.3" r="2.55"/><circle cx="151.0" cy="345.3" r="2.55"/><circle cx="128.9" cy="354.3" r="2.55"/><circle cx="152.3" cy="356.2" r="2.55"/><circle cx="152.3" cy="356.2" r="2.55"/><circle cx="152.3" cy="356.2" r="2.55"/><circle cx="136.7" cy="341.7" r="2.55"/><circle cx="149.7" cy="349.6" r="2.55"/><circle cx="100.3" cy="345.7" r="2.55"/><circle cx="100.3" cy="345.7" r="2.55"/><circle cx="100.3" cy="345.7" r="2.55"/><circle cx="180.9" cy="345.5" r="2.55"/><circle cx="99.0" cy="350.8" r="2.55"/><circle cx="99.0" cy="350.8" r="2.55"/><circle cx="99.0" cy="350.8" r="2.55"/><circle cx="160.1" cy="328.5" r="2.55"/><circle cx="160.1" cy="328.5" r="2.55"/><circle cx="174.4" cy="347.6" r="2.55"/><circle cx="101.6" cy="349.5" r="2.55"/><circle cx="99.0" cy="348.7" r="2.55"/><circle cx="99.0" cy="348.7" r="2.55"/><circle cx="113.3" cy="351.6" r="2.55"/><circle cx="174.4" cy="335.6" r="2.55"/><circle cx="158.8" cy="336.0" r="2.55"/><circle cx="104.2" cy="353.3" r="2.55"/><circle cx="104.2" cy="353.3" r="2.55"/><circle cx="104.2" cy="353.3" r="2.55"/><circle cx="96.4" cy="366.8" r="2.55"/><circle cx="96.4" cy="366.8" r="2.55"/><circle cx="165.3" cy="340.1" r="2.55"/><circle cx="123.7" cy="358.4" r="2.55"/><circle cx="123.7" cy="358.4" r="2.55"/><circle cx="123.7" cy="358.4" r="2.55"/><circle cx="128.9" cy="335.0" r="2.55"/><circle cx="191.3" cy="327.7" r="2.55"/><circle cx="179.6" cy="329.0" r="2.55"/><circle cx="169.2" cy="335.9" r="2.55"/><circle cx="169.2" cy="335.9" r="2.55"/><circle cx="148.4" cy="340.5" r="2.55"/><circle cx="169.2" cy="338.0" r="2.55"/><circle cx="169.2" cy="338.0" r="2.55"/><circle cx="169.2" cy="338.0" r="2.55"/><circle cx="169.2" cy="338.0" r="2.55"/><circle cx="140.6" cy="343.4" r="2.55"/><circle cx="169.2" cy="348.3" r="2.55"/><circle cx="138.0" cy="342.3" r="2.55"/><circle cx="147.1" cy="338.6" r="2.55"/><circle cx="165.3" cy="336.3" r="2.55"/><circle cx="104.2" cy="357.7" r="2.55"/><circle cx="165.3" cy="344.0" r="2.55"/><circle cx="165.3" cy="344.0" r="2.55"/><circle cx="165.3" cy="344.0" r="2.55"/><circle cx="165.3" cy="344.0" r="2.55"/><circle cx="109.4" cy="360.7" r="2.55"/><circle cx="119.8" cy="346.7" r="2.55"/><circle cx="186.1" cy="348.8" r="2.55"/><circle cx="186.1" cy="348.8" r="2.55"/><circle cx="149.7" cy="358.8" r="2.55"/><circle cx="96.4" cy="347.9" r="2.55"/><circle cx="96.4" cy="347.9" r="2.55"/><circle cx="126.3" cy="333.5" r="2.55"/><circle cx="126.3" cy="333.5" r="2.55"/><circle cx="125.0" cy="353.7" r="2.55"/><circle cx="125.0" cy="353.7" r="2.55"/><circle cx="182.2" cy="336.0" r="2.55"/><circle cx="130.2" cy="349.5" r="2.55"/><circle cx="112.0" cy="343.3" r="2.55"/><circle cx="112.0" cy="343.3" r="2.55"/><circle cx="112.0" cy="343.3" r="2.55"/><circle cx="125.0" cy="343.8" r="2.55"/><circle cx="171.8" cy="331.3" r="2.55"/><circle cx="153.6" cy="342.2" r="2.55"/><circle cx="153.6" cy="342.2" r="2.55"/><circle cx="118.5" cy="352.1" r="2.55"/><circle cx="118.5" cy="352.1" r="2.55"/><circle cx="118.5" cy="352.1" r="2.55"/><circle cx="118.5" cy="352.1" r="2.55"/><circle cx="118.5" cy="352.1" r="2.55"/><circle cx="118.5" cy="352.1" r="2.55"/><circle cx="143.2" cy="337.8" r="2.55"/><circle cx="113.3" cy="332.0" r="2.55"/><circle cx="113.3" cy="358.8" r="2.55"/><circle cx="113.3" cy="358.8" r="2.55"/><circle cx="99.0" cy="355.8" r="2.55"/><circle cx="171.8" cy="327.4" r="2.55"/><circle cx="106.8" cy="341.4" r="2.55"/><circle cx="180.9" cy="332.8" r="2.55"/><circle cx="153.6" cy="344.5" r="2.55"/><circle cx="126.3" cy="346.3" r="2.55"/><circle cx="126.3" cy="346.3" r="2.55"/><circle cx="135.4" cy="361.0" r="2.55"/><circle cx="135.4" cy="361.0" r="2.55"/><circle cx="123.7" cy="351.9" r="2.55"/><circle cx="97.7" cy="365.3" r="2.55"/><circle cx="160.1" cy="346.4" r="2.55"/><circle cx="160.1" cy="346.4" r="2.55"/><circle cx="160.1" cy="346.4" r="2.55"/><circle cx="187.4" cy="330.8" r="2.55"/><circle cx="153.6" cy="330.4" r="2.55"/><circle cx="121.1" cy="353.0" r="2.55"/><circle cx="99.0" cy="350.3" r="2.55"/><circle cx="115.9" cy="357.7" r="2.55"/><circle cx="151.0" cy="335.5" r="2.55"/><circle cx="95.1" cy="366.9" r="2.55"/><circle cx="166.6" cy="347.2" r="2.55"/><circle cx="166.6" cy="347.2" r="2.55"/><circle cx="162.7" cy="335.5" r="2.55"/><circle cx="135.4" cy="345.3" r="2.55"/><circle cx="135.4" cy="345.3" r="2.55"/><circle cx="135.4" cy="345.3" r="2.55"/><circle cx="118.5" cy="343.3" r="2.55"/><circle cx="118.5" cy="343.3" r="2.55"/><circle cx="118.5" cy="343.3" r="2.55"/><circle cx="115.9" cy="342.0" r="2.55"/><circle cx="126.3" cy="352.1" r="2.55"/><circle cx="126.3" cy="352.1" r="2.55"/><circle cx="126.3" cy="352.1" r="2.55"/><circle cx="169.2" cy="343.2" r="2.55"/><circle cx="169.2" cy="343.2" r="2.55"/><circle cx="165.3" cy="329.9" r="2.55"/><circle cx="165.3" cy="329.9" r="2.55"/><circle cx="165.3" cy="329.9" r="2.55"/><circle cx="170.5" cy="334.6" r="2.55"/><circle cx="170.5" cy="334.6" r="2.55"/><circle cx="106.8" cy="360.1" r="2.55"/><circle cx="106.8" cy="360.1" r="2.55"/><circle cx="106.8" cy="360.1" r="2.55"/><circle cx="167.9" cy="345.4" r="2.55"/><circle cx="170.5" cy="323.1" r="2.55"/><circle cx="170.5" cy="323.1" r="2.55"/><circle cx="157.5" cy="334.4" r="2.55"/><circle cx="157.5" cy="334.4" r="2.55"/><circle cx="152.3" cy="342.0" r="2.55"/><circle cx="108.1" cy="341.9" r="2.55"/><circle cx="108.1" cy="341.9" r="2.55"/><circle cx="108.1" cy="341.9" r="2.55"/><circle cx="135.4" cy="338.9" r="2.55"/><circle cx="104.2" cy="350.6" r="2.55"/><circle cx="104.2" cy="350.6" r="2.55"/><circle cx="138.0" cy="337.6" r="2.55"/><circle cx="130.2" cy="360.3" r="2.55"/><circle cx="186.1" cy="335.8" r="2.55"/><circle cx="140.6" cy="357.9" r="2.55"/><circle cx="119.8" cy="350.7" r="2.55"/><circle cx="132.8" cy="338.2" r="2.55"/><circle cx="178.3" cy="319.2" r="2.55"/><circle cx="109.4" cy="350.4" r="2.55"/><circle cx="104.2" cy="349.0" r="2.55"/><circle cx="104.2" cy="349.0" r="2.55"/><circle cx="135.4" cy="355.3" r="2.55"/><circle cx="135.4" cy="355.3" r="2.55"/><circle cx="135.4" cy="355.3" r="2.55"/><circle cx="106.8" cy="346.3" r="2.55"/><circle cx="127.6" cy="343.2" r="2.55"/><circle cx="127.6" cy="343.2" r="2.55"/><circle cx="174.4" cy="343.7" r="2.55"/><circle cx="165.3" cy="355.1" r="2.55"/><circle cx="165.3" cy="355.1" r="2.55"/><circle cx="165.3" cy="355.1" r="2.55"/><circle cx="165.3" cy="355.1" r="2.55"/><circle cx="126.3" cy="341.1" r="2.55"/><circle cx="105.5" cy="344.3" r="2.55"/><circle cx="105.5" cy="344.3" r="2.55"/><circle cx="105.5" cy="344.3" r="2.55"/><circle cx="127.6" cy="339.7" r="2.55"/><circle cx="127.6" cy="339.7" r="2.55"/><circle cx="106.8" cy="354.0" r="2.55"/><circle cx="144.5" cy="348.4" r="2.55"/><circle cx="152.3" cy="342.5" r="2.55"/><circle cx="119.8" cy="344.3" r="2.55"/><circle cx="183.5" cy="336.4" r="2.55"/><circle cx="115.9" cy="352.8" r="2.55"/><circle cx="115.9" cy="352.8" r="2.55"/><circle cx="115.9" cy="352.8" r="2.55"/><circle cx="115.9" cy="352.8" r="2.55"/><circle cx="132.8" cy="339.0" r="2.55"/><circle cx="134.1" cy="350.1" r="2.55"/><circle cx="182.2" cy="339.8" r="2.55"/><circle cx="161.4" cy="337.2" r="2.55"/><circle cx="121.1" cy="353.1" r="2.55"/><circle cx="162.7" cy="335.0" r="2.55"/><circle cx="145.8" cy="345.7" r="2.55"/><circle cx="136.7" cy="344.5" r="2.55"/><circle cx="136.7" cy="344.5" r="2.55"/><circle cx="136.7" cy="344.5" r="2.55"/><circle cx="136.7" cy="344.5" r="2.55"/><circle cx="126.3" cy="345.5" r="2.55"/><circle cx="126.3" cy="345.5" r="2.55"/><circle cx="128.9" cy="352.1" r="2.55"/><circle cx="128.9" cy="352.1" r="2.55"/><circle cx="105.5" cy="354.1" r="2.55"/><circle cx="105.5" cy="354.1" r="2.55"/><circle cx="152.3" cy="346.3" r="2.55"/><circle cx="152.3" cy="346.3" r="2.55"/><circle cx="152.3" cy="346.3" r="2.55"/><circle cx="152.3" cy="346.3" r="2.55"/><circle cx="152.3" cy="346.3" r="2.55"/><circle cx="167.9" cy="357.2" r="2.55"/><circle cx="167.9" cy="357.2" r="2.55"/><circle cx="123.7" cy="353.2" r="2.55"/><circle cx="161.4" cy="339.3" r="2.55"/><circle cx="161.4" cy="339.3" r="2.55"/><circle cx="161.4" cy="339.3" r="2.55"/><circle cx="161.4" cy="339.3" r="2.55"/><circle cx="190.0" cy="336.4" r="2.55"/><circle cx="190.0" cy="336.4" r="2.55"/><circle cx="154.9" cy="344.0" r="2.55"/><circle cx="154.9" cy="344.0" r="2.55"/><circle cx="154.9" cy="344.0" r="2.55"/><circle cx="154.9" cy="344.0" r="2.55"/><circle cx="154.9" cy="344.0" r="2.55"/><circle cx="184.8" cy="341.5" r="2.55"/><circle cx="110.7" cy="345.7" r="2.55"/><circle cx="105.5" cy="344.4" r="2.55"/><circle cx="118.5" cy="339.9" r="2.55"/><circle cx="140.6" cy="345.4" r="2.55"/><circle cx="140.6" cy="345.4" r="2.55"/><circle cx="140.6" cy="345.4" r="2.55"/><circle cx="140.6" cy="345.4" r="2.55"/><circle cx="175.7" cy="335.0" r="2.55"/><circle cx="108.1" cy="354.6" r="2.55"/><circle cx="171.8" cy="343.1" r="2.55"/><circle cx="126.3" cy="355.6" r="2.55"/><circle cx="110.7" cy="355.1" r="2.55"/><circle cx="148.4" cy="347.3" r="2.55"/><circle cx="102.9" cy="364.7" r="2.55"/><circle cx="102.9" cy="364.7" r="2.55"/><circle cx="147.1" cy="337.0" r="2.55"/><circle cx="151.0" cy="341.8" r="2.55"/><circle cx="179.6" cy="338.9" r="2.55"/><circle cx="134.1" cy="354.1" r="2.55"/><circle cx="180.9" cy="342.1" r="2.55"/><circle cx="180.9" cy="342.1" r="2.55"/><circle cx="180.9" cy="342.1" r="2.55"/><circle cx="180.9" cy="342.1" r="2.55"/><circle cx="162.7" cy="337.2" r="2.55"/><circle cx="175.7" cy="340.0" r="2.55"/><circle cx="174.4" cy="333.4" r="2.55"/><circle cx="128.9" cy="354.0" r="2.55"/><circle cx="128.9" cy="354.0" r="2.55"/><circle cx="169.2" cy="334.4" r="2.55"/><circle cx="169.2" cy="334.4" r="2.55"/><circle cx="125.0" cy="351.7" r="2.55"/><circle cx="125.0" cy="351.7" r="2.55"/><circle cx="145.8" cy="335.9" r="2.55"/><circle cx="149.7" cy="340.5" r="2.55"/><circle cx="184.8" cy="341.5" r="2.55"/><circle cx="100.3" cy="360.6" r="2.55"/><circle cx="109.4" cy="351.1" r="2.55"/><circle cx="109.4" cy="351.1" r="2.55"/><circle cx="167.9" cy="334.3" r="2.55"/><circle cx="141.9" cy="355.7" r="2.55"/><circle cx="141.9" cy="355.7" r="2.55"/><circle cx="141.9" cy="355.7" r="2.55"/><circle cx="141.9" cy="355.7" r="2.55"/><circle cx="161.4" cy="336.7" r="2.55"/><circle cx="161.4" cy="336.7" r="2.55"/><circle cx="166.6" cy="340.7" r="2.55"/><circle cx="139.3" cy="338.1" r="2.55"/><circle cx="109.4" cy="350.4" r="2.55"/><circle cx="109.4" cy="350.4" r="2.55"/><circle cx="157.5" cy="342.4" r="2.55"/><circle cx="149.7" cy="343.9" r="2.55"/><circle cx="149.7" cy="343.9" r="2.55"/><circle cx="149.7" cy="343.9" r="2.55"/><circle cx="149.7" cy="343.9" r="2.55"/><circle cx="119.8" cy="361.8" r="2.55"/><circle cx="175.7" cy="343.7" r="2.55"/><circle cx="175.7" cy="343.7" r="2.55"/><circle cx="175.7" cy="343.7" r="2.55"/><circle cx="175.7" cy="343.7" r="2.55"/><circle cx="138.0" cy="339.4" r="2.55"/><circle cx="102.9" cy="348.2" r="2.55"/><circle cx="102.9" cy="348.2" r="2.55"/><circle cx="128.9" cy="328.5" r="2.55"/><circle cx="115.9" cy="358.7" r="2.55"/><circle cx="97.7" cy="361.2" r="2.55"/><circle cx="123.7" cy="350.5" r="2.55"/><circle cx="149.7" cy="338.7" r="2.55"/><circle cx="140.6" cy="354.9" r="2.55"/><circle cx="140.6" cy="354.9" r="2.55"/><circle cx="140.6" cy="354.9" r="2.55"/><circle cx="140.6" cy="354.9" r="2.55"/><circle cx="140.6" cy="354.9" r="2.55"/><circle cx="140.6" cy="354.9" r="2.55"/><circle cx="122.4" cy="338.3" r="2.55"/><circle cx="174.4" cy="339.0" r="2.55"/><circle cx="174.4" cy="339.0" r="2.55"/><circle cx="112.0" cy="348.5" r="2.55"/><circle cx="112.0" cy="348.5" r="2.55"/><circle cx="112.0" cy="348.5" r="2.55"/><circle cx="112.0" cy="348.5" r="2.55"/><circle cx="105.5" cy="331.2" r="2.55"/><circle cx="128.9" cy="343.6" r="2.55"/><circle cx="128.9" cy="343.6" r="2.55"/><circle cx="128.9" cy="343.6" r="2.55"/><circle cx="177.0" cy="334.4" r="2.55"/><circle cx="183.5" cy="333.6" r="2.55"/><circle cx="183.5" cy="333.6" r="2.55"/><circle cx="183.5" cy="333.6" r="2.55"/><circle cx="175.7" cy="340.8" r="2.55"/><circle cx="147.1" cy="358.9" r="2.55"/><circle cx="147.1" cy="358.9" r="2.55"/><circle cx="105.5" cy="349.9" r="2.55"/><circle cx="105.5" cy="349.9" r="2.55"/><circle cx="187.4" cy="350.8" r="2.55"/><circle cx="121.1" cy="351.0" r="2.55"/><circle cx="121.1" cy="351.0" r="2.55"/><circle cx="130.2" cy="361.8" r="2.55"/><circle cx="179.6" cy="328.8" r="2.55"/><circle cx="119.8" cy="356.9" r="2.55"/><circle cx="119.8" cy="356.9" r="2.55"/><circle cx="151.0" cy="339.1" r="2.55"/><circle cx="128.9" cy="336.7" r="2.55"/><circle cx="173.1" cy="342.4" r="2.55"/><circle cx="121.1" cy="330.2" r="2.55"/><circle cx="121.1" cy="330.2" r="2.55"/><circle cx="134.1" cy="348.0" r="2.55"/><circle cx="178.3" cy="332.3" r="2.55"/><circle cx="178.3" cy="332.3" r="2.55"/><circle cx="147.1" cy="352.2" r="2.55"/><circle cx="147.1" cy="352.2" r="2.55"/><circle cx="147.1" cy="352.2" r="2.55"/><circle cx="138.0" cy="357.2" r="2.55"/><circle cx="135.4" cy="344.8" r="2.55"/><circle cx="135.4" cy="344.8" r="2.55"/><circle cx="135.4" cy="344.8" r="2.55"/><circle cx="108.1" cy="351.2" r="2.55"/><circle cx="108.1" cy="351.2" r="2.55"/><circle cx="108.1" cy="351.2" r="2.55"/><circle cx="108.1" cy="351.2" r="2.55"/><circle cx="108.1" cy="351.2" r="2.55"/><circle cx="108.1" cy="351.2" r="2.55"/><circle cx="180.9" cy="347.3" r="2.55"/><circle cx="180.9" cy="347.3" r="2.55"/><circle cx="153.6" cy="341.8" r="2.55"/><circle cx="153.6" cy="341.8" r="2.55"/><circle cx="96.4" cy="354.1" r="2.55"/><circle cx="96.4" cy="354.1" r="2.55"/><circle cx="190.0" cy="342.9" r="2.55"/><circle cx="190.0" cy="342.9" r="2.55"/><circle cx="190.0" cy="342.9" r="2.55"/><circle cx="190.0" cy="342.9" r="2.55"/><circle cx="190.0" cy="342.9" r="2.55"/><circle cx="190.0" cy="342.9" r="2.55"/><circle cx="105.5" cy="332.5" r="2.55"/><circle cx="105.5" cy="332.5" r="2.55"/><circle cx="126.3" cy="354.7" r="2.55"/><circle cx="126.3" cy="354.7" r="2.55"/><circle cx="126.3" cy="354.7" r="2.55"/><circle cx="140.6" cy="335.0" r="2.55"/><circle cx="140.6" cy="335.0" r="2.55"/><circle cx="126.3" cy="353.3" r="2.55"/><circle cx="113.3" cy="344.5" r="2.55"/><circle cx="113.3" cy="344.5" r="2.55"/><circle cx="183.5" cy="329.3" r="2.55"/><circle cx="131.5" cy="337.1" r="2.55"/><circle cx="140.6" cy="336.4" r="2.55"/><circle cx="161.4" cy="335.6" r="2.55"/><circle cx="140.6" cy="346.2" r="2.55"/><circle cx="148.4" cy="343.9" r="2.55"/><circle cx="166.6" cy="348.3" r="2.55"/><circle cx="138.0" cy="347.9" r="2.55"/><circle cx="138.0" cy="347.9" r="2.55"/><circle cx="101.6" cy="348.8" r="2.55"/><circle cx="140.6" cy="332.9" r="2.55"/><circle cx="160.1" cy="328.1" r="2.55"/><circle cx="101.6" cy="350.7" r="2.55"/><circle cx="101.6" cy="350.7" r="2.55"/><circle cx="145.8" cy="343.6" r="2.55"/><circle cx="130.2" cy="341.1" r="2.55"/><circle cx="170.5" cy="336.3" r="2.55"/><circle cx="119.8" cy="354.6" r="2.55"/><circle cx="119.8" cy="354.6" r="2.55"/><circle cx="99.0" cy="347.4" r="2.55"/><circle cx="99.0" cy="347.4" r="2.55"/><circle cx="99.0" cy="347.4" r="2.55"/><circle cx="132.8" cy="339.1" r="2.55"/><circle cx="162.7" cy="342.9" r="2.55"/><circle cx="162.7" cy="342.9" r="2.55"/><circle cx="160.1" cy="337.8" r="2.55"/><circle cx="160.1" cy="337.8" r="2.55"/><circle cx="96.4" cy="358.4" r="2.55"/><circle cx="128.9" cy="361.5" r="2.55"/><circle cx="128.9" cy="361.5" r="2.55"/><circle cx="174.4" cy="334.9" r="2.55"/><circle cx="174.4" cy="334.9" r="2.55"/><circle cx="106.8" cy="338.6" r="2.55"/><circle cx="175.7" cy="338.0" r="2.55"/><circle cx="106.8" cy="365.0" r="2.55"/><circle cx="106.8" cy="365.0" r="2.55"/><circle cx="106.8" cy="365.0" r="2.55"/><circle cx="106.8" cy="365.0" r="2.55"/><circle cx="135.4" cy="348.1" r="2.55"/><circle cx="135.4" cy="348.1" r="2.55"/><circle cx="100.3" cy="364.5" r="2.55"/><circle cx="162.7" cy="356.7" r="2.55"/><circle cx="140.6" cy="331.7" r="2.55"/><circle cx="140.6" cy="331.7" r="2.55"/><circle cx="140.6" cy="331.7" r="2.55"/><circle cx="131.5" cy="344.0" r="2.55"/><circle cx="136.7" cy="324.0" r="2.55"/><circle cx="135.4" cy="350.7" r="2.55"/><circle cx="135.4" cy="350.7" r="2.55"/><circle cx="135.4" cy="350.7" r="2.55"/><circle cx="135.4" cy="350.7" r="2.55"/><circle cx="135.4" cy="350.7" r="2.55"/><circle cx="139.3" cy="328.9" r="2.55"/><circle cx="139.3" cy="328.9" r="2.55"/><circle cx="139.3" cy="328.9" r="2.55"/><circle cx="139.3" cy="328.9" r="2.55"/><circle cx="141.9" cy="339.5" r="2.55"/><circle cx="141.9" cy="339.5" r="2.55"/><circle cx="149.7" cy="341.4" r="2.55"/><circle cx="139.3" cy="328.4" r="2.55"/><circle cx="143.2" cy="348.8" r="2.55"/><circle cx="143.2" cy="329.4" r="2.55"/><circle cx="140.6" cy="346.9" r="2.55"/><circle cx="136.7" cy="341.4" r="2.55"/><circle cx="147.1" cy="349.3" r="2.55"/><circle cx="147.1" cy="349.3" r="2.55"/><circle cx="130.2" cy="326.0" r="2.55"/><circle cx="130.2" cy="326.0" r="2.55"/><circle cx="138.0" cy="346.3" r="2.55"/><circle cx="126.3" cy="339.8" r="2.55"/><circle cx="132.8" cy="333.3" r="2.55"/><circle cx="132.8" cy="333.3" r="2.55"/><circle cx="131.5" cy="331.7" r="2.55"/><circle cx="139.3" cy="338.2" r="2.55"/><circle cx="139.3" cy="338.2" r="2.55"/><circle cx="151.0" cy="336.5" r="2.55"/><circle cx="141.9" cy="348.1" r="2.55"/><circle cx="141.9" cy="348.1" r="2.55"/><circle cx="140.6" cy="339.0" r="2.55"/><circle cx="139.3" cy="338.0" r="2.55"/><circle cx="139.3" cy="344.9" r="2.55"/><circle cx="140.6" cy="338.5" r="2.55"/><circle cx="139.3" cy="343.2" r="2.55"/><circle cx="139.3" cy="343.2" r="2.55"/><circle cx="136.7" cy="344.5" r="2.55"/><circle cx="136.7" cy="342.8" r="2.55"/><circle cx="136.7" cy="342.8" r="2.55"/><circle cx="136.7" cy="342.8" r="2.55"/><circle cx="136.7" cy="342.8" r="2.55"/><circle cx="136.7" cy="342.8" r="2.55"/><circle cx="136.7" cy="342.8" r="2.55"/><circle cx="151.0" cy="339.6" r="2.55"/><circle cx="139.3" cy="329.9" r="2.55"/><circle cx="139.3" cy="329.9" r="2.55"/><circle cx="144.5" cy="338.1" r="2.55"/><circle cx="145.8" cy="333.5" r="2.55"/><circle cx="143.2" cy="350.5" r="2.55"/><circle cx="143.2" cy="350.5" r="2.55"/><circle cx="143.2" cy="350.5" r="2.55"/><circle cx="141.9" cy="335.7" r="2.55"/><circle cx="144.5" cy="342.1" r="2.55"/><circle cx="132.8" cy="330.9" r="2.55"/><circle cx="134.1" cy="331.0" r="2.55"/><circle cx="138.0" cy="339.8" r="2.55"/><circle cx="138.0" cy="339.8" r="2.55"/><circle cx="151.0" cy="339.4" r="2.55"/><circle cx="180.9" cy="317.0" r="2.55"/><circle cx="182.2" cy="336.3" r="2.55"/><circle cx="175.7" cy="336.5" r="2.55"/><circle cx="177.0" cy="345.1" r="2.55"/><circle cx="178.3" cy="316.3" r="2.55"/><circle cx="165.3" cy="342.7" r="2.55"/><circle cx="173.1" cy="340.4" r="2.55"/><circle cx="173.1" cy="340.4" r="2.55"/><circle cx="171.8" cy="324.8" r="2.55"/><circle cx="171.8" cy="332.5" r="2.55"/><circle cx="174.4" cy="325.1" r="2.55"/><circle cx="174.4" cy="325.1" r="2.55"/><circle cx="177.0" cy="334.9" r="2.55"/><circle cx="177.0" cy="334.9" r="2.55"/><circle cx="169.2" cy="321.2" r="2.55"/><circle cx="164.0" cy="327.6" r="2.55"/><circle cx="174.4" cy="324.5" r="2.55"/><circle cx="170.5" cy="328.9" r="2.55"/><circle cx="170.5" cy="328.9" r="2.55"/><circle cx="178.3" cy="333.5" r="2.55"/><circle cx="179.6" cy="322.4" r="2.55"/><circle cx="177.0" cy="332.9" r="2.55"/><circle cx="177.0" cy="332.9" r="2.55"/><circle cx="169.2" cy="324.7" r="2.55"/><circle cx="175.7" cy="330.6" r="2.55"/><circle cx="167.9" cy="325.6" r="2.55"/><circle cx="180.9" cy="336.7" r="2.55"/><circle cx="180.9" cy="336.7" r="2.55"/><circle cx="180.9" cy="336.7" r="2.55"/><circle cx="174.4" cy="340.7" r="2.55"/><circle cx="169.2" cy="328.6" r="2.55"/><circle cx="169.2" cy="328.6" r="2.55"/><circle cx="178.3" cy="327.3" r="2.55"/><circle cx="167.9" cy="334.6" r="2.55"/><circle cx="182.2" cy="310.0" r="2.55"/><circle cx="173.1" cy="318.8" r="2.55"/><circle cx="173.1" cy="318.8" r="2.55"/><circle cx="188.7" cy="313.8" r="2.55"/><circle cx="158.8" cy="343.7" r="2.55"/><circle cx="131.5" cy="339.0" r="2.55"/><circle cx="192.6" cy="311.5" r="2.55"/><circle cx="165.3" cy="341.1" r="2.55"/><circle cx="145.8" cy="336.7" r="2.55"/><circle cx="145.8" cy="336.7" r="2.55"/><circle cx="184.8" cy="330.3" r="2.55"/><circle cx="101.6" cy="352.6" r="2.55"/><circle cx="117.2" cy="336.7" r="2.55"/><circle cx="93.8" cy="350.5" r="2.55"/><circle cx="93.8" cy="350.5" r="2.55"/><circle cx="119.8" cy="350.5" r="2.55"/><circle cx="74.3" cy="341.1" r="2.55"/><circle cx="100.3" cy="338.4" r="2.55"/><circle cx="126.3" cy="340.7" r="2.55"/><circle cx="69.1" cy="354.1" r="2.55"/><circle cx="130.2" cy="323.1" r="2.55"/><circle cx="130.2" cy="323.1" r="2.55"/><circle cx="89.9" cy="343.3" r="2.55"/><circle cx="89.9" cy="343.3" r="2.55"/><circle cx="95.1" cy="331.3" r="2.55"/><circle cx="121.1" cy="328.7" r="2.55"/><circle cx="50.9" cy="351.4" r="2.55"/><circle cx="50.9" cy="351.4" r="2.55"/><circle cx="79.5" cy="343.2" r="2.55"/><circle cx="106.8" cy="341.6" r="2.55"/><circle cx="106.8" cy="341.6" r="2.55"/><circle cx="106.8" cy="341.6" r="2.55"/><circle cx="188.7" cy="329.4" r="2.55"/><circle cx="132.8" cy="323.2" r="2.55"/><circle cx="132.8" cy="323.2" r="2.55"/><circle cx="132.8" cy="323.2" r="2.55"/><circle cx="132.8" cy="323.2" r="2.55"/><circle cx="141.9" cy="333.9" r="2.55"/><circle cx="169.2" cy="338.1" r="2.55"/><circle cx="169.2" cy="338.1" r="2.55"/><circle cx="169.2" cy="338.1" r="2.55"/><circle cx="169.2" cy="338.1" r="2.55"/><circle cx="169.2" cy="338.1" r="2.55"/><circle cx="54.8" cy="326.5" r="2.55"/><circle cx="58.7" cy="332.7" r="2.55"/><circle cx="104.2" cy="334.0" r="2.55"/><circle cx="104.2" cy="334.0" r="2.55"/><circle cx="104.2" cy="334.0" r="2.55"/><circle cx="91.2" cy="326.3" r="2.55"/><circle cx="91.2" cy="326.3" r="2.55"/><circle cx="102.9" cy="345.0" r="2.55"/><circle cx="178.3" cy="339.0" r="2.55"/><circle cx="88.6" cy="339.3" r="2.55"/><circle cx="88.6" cy="339.3" r="2.55"/><circle cx="60.0" cy="342.6" r="2.55"/><circle cx="60.0" cy="342.6" r="2.55"/><circle cx="60.0" cy="342.6" r="2.55"/><circle cx="162.7" cy="328.2" r="2.55"/><circle cx="164.0" cy="345.8" r="2.55"/><circle cx="178.3" cy="335.1" r="2.55"/><circle cx="178.3" cy="335.1" r="2.55"/><circle cx="166.6" cy="334.5" r="2.55"/><circle cx="178.3" cy="331.5" r="2.55"/><circle cx="87.3" cy="349.4" r="2.55"/><circle cx="87.3" cy="349.4" r="2.55"/><circle cx="121.1" cy="351.1" r="2.55"/><circle cx="121.1" cy="351.1" r="2.55"/><circle cx="121.1" cy="351.1" r="2.55"/><circle cx="73.0" cy="328.2" r="2.55"/><circle cx="132.8" cy="326.2" r="2.55"/><circle cx="71.7" cy="340.2" r="2.55"/><circle cx="71.7" cy="340.2" r="2.55"/><circle cx="117.2" cy="349.5" r="2.55"/><circle cx="87.3" cy="326.3" r="2.55"/><circle cx="153.6" cy="335.7" r="2.55"/><circle cx="153.6" cy="335.7" r="2.55"/><circle cx="153.6" cy="335.7" r="2.55"/><circle cx="138.0" cy="326.1" r="2.55"/><circle cx="187.4" cy="325.3" r="2.55"/><circle cx="57.4" cy="329.0" r="2.55"/><circle cx="57.4" cy="329.0" r="2.55"/><circle cx="57.4" cy="329.0" r="2.55"/><circle cx="73.0" cy="347.3" r="2.55"/><circle cx="134.1" cy="338.3" r="2.55"/><circle cx="117.2" cy="348.5" r="2.55"/><circle cx="117.2" cy="348.5" r="2.55"/><circle cx="93.8" cy="328.6" r="2.55"/><circle cx="93.8" cy="328.6" r="2.55"/><circle cx="93.8" cy="328.6" r="2.55"/><circle cx="93.8" cy="328.6" r="2.55"/><circle cx="184.8" cy="316.1" r="2.55"/><circle cx="191.3" cy="339.6" r="2.55"/><circle cx="105.5" cy="339.7" r="2.55"/><circle cx="105.5" cy="339.7" r="2.55"/><circle cx="87.3" cy="331.6" r="2.55"/><circle cx="180.9" cy="341.1" r="2.55"/><circle cx="180.9" cy="341.1" r="2.55"/><circle cx="122.4" cy="323.5" r="2.55"/><circle cx="178.3" cy="332.4" r="2.55"/><circle cx="65.2" cy="341.1" r="2.55"/><circle cx="123.7" cy="328.9" r="2.55"/><circle cx="76.9" cy="346.0" r="2.55"/><circle cx="191.3" cy="341.3" r="2.55"/><circle cx="191.3" cy="341.3" r="2.55"/><circle cx="138.0" cy="349.1" r="2.55"/><circle cx="138.0" cy="349.1" r="2.55"/><circle cx="157.5" cy="337.7" r="2.55"/><circle cx="183.5" cy="337.7" r="2.55"/><circle cx="175.7" cy="339.5" r="2.55"/><circle cx="56.1" cy="352.6" r="2.55"/><circle cx="153.6" cy="350.1" r="2.55"/><circle cx="153.6" cy="350.1" r="2.55"/><circle cx="123.7" cy="336.3" r="2.55"/><circle cx="114.6" cy="343.0" r="2.55"/><circle cx="114.6" cy="343.0" r="2.55"/><circle cx="169.2" cy="327.3" r="2.55"/><circle cx="66.5" cy="351.6" r="2.55"/><circle cx="66.5" cy="351.6" r="2.55"/><circle cx="66.5" cy="351.6" r="2.55"/><circle cx="57.4" cy="347.2" r="2.55"/><circle cx="141.9" cy="322.7" r="2.55"/><circle cx="190.0" cy="316.5" r="2.55"/><circle cx="190.0" cy="316.5" r="2.55"/><circle cx="67.8" cy="331.0" r="2.55"/><circle cx="160.1" cy="336.0" r="2.55"/><circle cx="193.9" cy="323.2" r="2.55"/><circle cx="193.9" cy="323.2" r="2.55"/><circle cx="193.9" cy="323.2" r="2.55"/><circle cx="66.5" cy="348.3" r="2.55"/><circle cx="66.5" cy="348.3" r="2.55"/><circle cx="67.8" cy="336.4" r="2.55"/><circle cx="139.3" cy="326.1" r="2.55"/><circle cx="139.3" cy="326.1" r="2.55"/><circle cx="50.9" cy="355.1" r="2.55"/><circle cx="190.0" cy="334.4" r="2.55"/><circle cx="87.3" cy="327.9" r="2.55"/><circle cx="87.3" cy="327.9" r="2.55"/><circle cx="87.3" cy="327.9" r="2.55"/><circle cx="65.2" cy="331.0" r="2.55"/><circle cx="179.6" cy="328.7" r="2.55"/><circle cx="138.0" cy="351.7" r="2.55"/><circle cx="138.0" cy="351.7" r="2.55"/><circle cx="136.7" cy="333.5" r="2.55"/><circle cx="161.4" cy="334.4" r="2.55"/><circle cx="161.4" cy="334.4" r="2.55"/><circle cx="161.4" cy="334.4" r="2.55"/><circle cx="161.4" cy="334.4" r="2.55"/><circle cx="66.5" cy="348.1" r="2.55"/><circle cx="144.5" cy="349.3" r="2.55"/><circle cx="144.5" cy="349.3" r="2.55"/><circle cx="144.5" cy="349.3" r="2.55"/><circle cx="65.2" cy="347.3" r="2.55"/><circle cx="65.2" cy="347.3" r="2.55"/><circle cx="101.6" cy="324.5" r="2.55"/><circle cx="134.1" cy="344.9" r="2.55"/><circle cx="134.1" cy="344.9" r="2.55"/><circle cx="131.5" cy="326.5" r="2.55"/><circle cx="102.9" cy="340.3" r="2.55"/><circle cx="132.8" cy="322.5" r="2.55"/><circle cx="141.9" cy="346.3" r="2.55"/><circle cx="134.1" cy="342.4" r="2.55"/><circle cx="118.5" cy="331.3" r="2.55"/><circle cx="118.5" cy="331.3" r="2.55"/><circle cx="118.5" cy="331.3" r="2.55"/><circle cx="52.2" cy="340.1" r="2.55"/><circle cx="52.2" cy="340.1" r="2.55"/><circle cx="95.1" cy="335.7" r="2.55"/><circle cx="167.9" cy="334.4" r="2.55"/><circle cx="86.0" cy="338.7" r="2.55"/><circle cx="160.1" cy="335.1" r="2.55"/><circle cx="100.3" cy="345.8" r="2.55"/><circle cx="170.5" cy="320.8" r="2.55"/><circle cx="184.8" cy="336.4" r="2.55"/><circle cx="184.8" cy="336.4" r="2.55"/><circle cx="60.0" cy="336.1" r="2.55"/><circle cx="53.5" cy="329.6" r="2.55"/><circle cx="53.5" cy="329.6" r="2.55"/><circle cx="147.1" cy="341.4" r="2.55"/><circle cx="113.3" cy="332.4" r="2.55"/><circle cx="73.0" cy="343.6" r="2.55"/><circle cx="162.7" cy="329.0" r="2.55"/><circle cx="134.1" cy="349.0" r="2.55"/><circle cx="80.8" cy="346.5" r="2.55"/><circle cx="80.8" cy="346.5" r="2.55"/><circle cx="80.8" cy="346.5" r="2.55"/><circle cx="80.8" cy="346.5" r="2.55"/><circle cx="132.8" cy="324.4" r="2.55"/><circle cx="130.2" cy="324.7" r="2.55"/><circle cx="117.2" cy="337.2" r="2.55"/><circle cx="89.9" cy="339.9" r="2.55"/><circle cx="89.9" cy="339.9" r="2.55"/><circle cx="184.8" cy="329.3" r="2.55"/><circle cx="184.8" cy="329.3" r="2.55"/><circle cx="184.8" cy="329.3" r="2.55"/><circle cx="49.6" cy="344.8" r="2.55"/><circle cx="78.2" cy="335.6" r="2.55"/><circle cx="123.7" cy="338.2" r="2.55"/><circle cx="183.5" cy="321.4" r="2.55"/><circle cx="62.6" cy="354.0" r="2.55"/><circle cx="151.0" cy="333.5" r="2.55"/><circle cx="143.2" cy="336.7" r="2.55"/><circle cx="54.8" cy="341.7" r="2.55"/><circle cx="170.5" cy="329.8" r="2.55"/><circle cx="56.1" cy="351.4" r="2.55"/><circle cx="56.1" cy="351.4" r="2.55"/><circle cx="56.1" cy="351.4" r="2.55"/><circle cx="179.6" cy="328.9" r="2.55"/><circle cx="179.6" cy="328.9" r="2.55"/><circle cx="183.5" cy="318.5" r="2.55"/><circle cx="143.2" cy="327.5" r="2.55"/><circle cx="62.6" cy="341.0" r="2.55"/><circle cx="62.6" cy="341.0" r="2.55"/><circle cx="166.6" cy="338.5" r="2.55"/><circle cx="70.4" cy="328.6" r="2.55"/><circle cx="151.0" cy="351.1" r="2.55"/><circle cx="58.7" cy="338.4" r="2.55"/><circle cx="187.4" cy="324.6" r="2.55"/><circle cx="175.7" cy="343.2" r="2.55"/><circle cx="175.7" cy="343.2" r="2.55"/><circle cx="132.8" cy="346.7" r="2.55"/><circle cx="97.7" cy="349.0" r="2.55"/><circle cx="97.7" cy="349.0" r="2.55"/><circle cx="117.2" cy="351.4" r="2.55"/><circle cx="144.5" cy="332.3" r="2.55"/><circle cx="179.6" cy="322.2" r="2.55"/><circle cx="179.6" cy="322.2" r="2.55"/><circle cx="60.0" cy="328.9" r="2.55"/><circle cx="127.6" cy="324.2" r="2.55"/><circle cx="121.1" cy="350.2" r="2.55"/><circle cx="151.0" cy="346.1" r="2.55"/><circle cx="151.0" cy="346.1" r="2.55"/><circle cx="164.0" cy="316.3" r="2.55"/><circle cx="106.8" cy="326.4" r="2.55"/><circle cx="118.5" cy="322.3" r="2.55"/><circle cx="118.5" cy="322.3" r="2.55"/><circle cx="101.6" cy="321.9" r="2.55"/><circle cx="97.7" cy="339.1" r="2.55"/><circle cx="91.2" cy="321.3" r="2.55"/><circle cx="83.4" cy="334.2" r="2.55"/><circle cx="101.6" cy="339.2" r="2.55"/><circle cx="145.8" cy="331.9" r="2.55"/><circle cx="104.2" cy="340.9" r="2.55"/><circle cx="153.6" cy="337.7" r="2.55"/><circle cx="145.8" cy="344.9" r="2.55"/><circle cx="145.8" cy="344.9" r="2.55"/><circle cx="145.8" cy="344.9" r="2.55"/><circle cx="145.8" cy="344.9" r="2.55"/><circle cx="145.8" cy="344.9" r="2.55"/><circle cx="145.8" cy="344.9" r="2.55"/><circle cx="131.5" cy="336.7" r="2.55"/><circle cx="119.8" cy="328.0" r="2.55"/><circle cx="93.8" cy="324.6" r="2.55"/><circle cx="93.8" cy="324.6" r="2.55"/><circle cx="138.0" cy="337.8" r="2.55"/><circle cx="152.3" cy="338.0" r="2.55"/><circle cx="127.6" cy="320.4" r="2.55"/><circle cx="121.1" cy="332.1" r="2.55"/><circle cx="112.0" cy="331.4" r="2.55"/><circle cx="108.1" cy="332.5" r="2.55"/><circle cx="80.8" cy="350.5" r="2.55"/><circle cx="135.4" cy="332.5" r="2.55"/><circle cx="91.2" cy="337.0" r="2.55"/><circle cx="148.4" cy="327.8" r="2.55"/><circle cx="148.4" cy="327.8" r="2.55"/><circle cx="134.1" cy="322.6" r="2.55"/><circle cx="134.1" cy="322.6" r="2.55"/><circle cx="101.6" cy="324.9" r="2.55"/><circle cx="101.6" cy="324.9" r="2.55"/><circle cx="101.6" cy="324.9" r="2.55"/><circle cx="151.0" cy="320.0" r="2.55"/><circle cx="151.0" cy="320.0" r="2.55"/><circle cx="151.0" cy="329.4" r="2.55"/><circle cx="151.0" cy="329.4" r="2.55"/><circle cx="100.3" cy="326.6" r="2.55"/><circle cx="84.7" cy="337.0" r="2.55"/><circle cx="153.6" cy="329.3" r="2.55"/><circle cx="125.0" cy="324.5" r="2.55"/><circle cx="125.0" cy="324.5" r="2.55"/><circle cx="154.9" cy="339.8" r="2.55"/><circle cx="154.9" cy="339.8" r="2.55"/><circle cx="138.0" cy="336.2" r="2.55"/><circle cx="138.0" cy="336.2" r="2.55"/><circle cx="125.0" cy="326.8" r="2.55"/><circle cx="97.7" cy="333.1" r="2.55"/><circle cx="97.7" cy="333.1" r="2.55"/><circle cx="97.7" cy="333.1" r="2.55"/><circle cx="97.7" cy="333.1" r="2.55"/><circle cx="136.7" cy="322.8" r="2.55"/><circle cx="136.7" cy="322.8" r="2.55"/><circle cx="156.2" cy="348.8" r="2.55"/><circle cx="162.7" cy="331.4" r="2.55"/><circle cx="87.3" cy="342.5" r="2.55"/><circle cx="109.4" cy="341.4" r="2.55"/><circle cx="161.4" cy="337.3" r="2.55"/><circle cx="161.4" cy="337.3" r="2.55"/><circle cx="144.5" cy="328.8" r="2.55"/><circle cx="144.5" cy="328.8" r="2.55"/><circle cx="144.5" cy="328.8" r="2.55"/><circle cx="158.8" cy="337.9" r="2.55"/><circle cx="82.1" cy="341.9" r="2.55"/><circle cx="83.4" cy="320.0" r="2.55"/><circle cx="114.6" cy="326.7" r="2.55"/><circle cx="131.5" cy="317.1" r="2.55"/><circle cx="156.2" cy="330.3" r="2.55"/><circle cx="106.8" cy="346.9" r="2.55"/><circle cx="106.8" cy="346.9" r="2.55"/><circle cx="134.1" cy="333.8" r="2.55"/><circle cx="134.1" cy="333.8" r="2.55"/><circle cx="135.4" cy="335.8" r="2.55"/><circle cx="156.2" cy="334.4" r="2.55"/><circle cx="109.4" cy="311.8" r="2.55"/><circle cx="132.8" cy="342.5" r="2.55"/><circle cx="141.9" cy="336.9" r="2.55"/><circle cx="91.2" cy="334.3" r="2.55"/><circle cx="147.1" cy="345.0" r="2.55"/><circle cx="147.1" cy="345.0" r="2.55"/><circle cx="125.0" cy="328.9" r="2.55"/><circle cx="149.7" cy="336.9" r="2.55"/><circle cx="149.7" cy="336.9" r="2.55"/><circle cx="136.7" cy="322.4" r="2.55"/><circle cx="136.7" cy="322.4" r="2.55"/><circle cx="93.8" cy="329.3" r="2.55"/><circle cx="152.3" cy="339.0" r="2.55"/><circle cx="145.8" cy="326.5" r="2.55"/><circle cx="83.4" cy="357.7" r="2.55"/><circle cx="83.4" cy="357.7" r="2.55"/><circle cx="83.4" cy="331.5" r="2.55"/><circle cx="83.4" cy="331.5" r="2.55"/><circle cx="160.1" cy="335.8" r="2.55"/><circle cx="125.0" cy="343.2" r="2.55"/><circle cx="132.8" cy="324.7" r="2.55"/><circle cx="161.4" cy="336.3" r="2.55"/><circle cx="161.4" cy="336.3" r="2.55"/><circle cx="161.4" cy="336.3" r="2.55"/><circle cx="161.4" cy="336.3" r="2.55"/><circle cx="89.9" cy="331.5" r="2.55"/><circle cx="89.9" cy="331.5" r="2.55"/><circle cx="91.2" cy="318.7" r="2.55"/><circle cx="91.2" cy="318.7" r="2.55"/><circle cx="115.9" cy="332.4" r="2.55"/><circle cx="115.9" cy="332.4" r="2.55"/><circle cx="83.4" cy="337.0" r="2.55"/><circle cx="83.4" cy="337.0" r="2.55"/><circle cx="154.9" cy="331.3" r="2.55"/><circle cx="82.1" cy="330.4" r="2.55"/><circle cx="82.1" cy="330.4" r="2.55"/><circle cx="82.1" cy="330.4" r="2.55"/><circle cx="82.1" cy="330.4" r="2.55"/><circle cx="100.3" cy="329.4" r="2.55"/><circle cx="114.6" cy="333.3" r="2.55"/><circle cx="114.6" cy="324.5" r="2.55"/><circle cx="113.3" cy="326.6" r="2.55"/><circle cx="108.1" cy="340.5" r="2.55"/><circle cx="140.6" cy="344.7" r="2.55"/><circle cx="109.4" cy="336.0" r="2.55"/><circle cx="109.4" cy="336.0" r="2.55"/><circle cx="158.8" cy="330.4" r="2.55"/><circle cx="105.5" cy="341.1" r="2.55"/><circle cx="125.0" cy="330.7" r="2.55"/><circle cx="125.0" cy="330.7" r="2.55"/><circle cx="113.3" cy="344.7" r="2.55"/><circle cx="139.3" cy="330.7" r="2.55"/><circle cx="126.3" cy="341.5" r="2.55"/><circle cx="140.6" cy="328.1" r="2.55"/><circle cx="86.0" cy="326.1" r="2.55"/><circle cx="87.3" cy="336.1" r="2.55"/><circle cx="93.8" cy="337.1" r="2.55"/><circle cx="135.4" cy="323.6" r="2.55"/><circle cx="99.0" cy="347.7" r="2.55"/><circle cx="99.0" cy="334.8" r="2.55"/><circle cx="136.7" cy="337.1" r="2.55"/><circle cx="128.9" cy="332.9" r="2.55"/><circle cx="136.7" cy="347.6" r="2.55"/><circle cx="115.9" cy="325.7" r="2.55"/><circle cx="110.7" cy="347.5" r="2.55"/><circle cx="134.1" cy="344.7" r="2.55"/><circle cx="134.1" cy="344.7" r="2.55"/><circle cx="153.6" cy="340.3" r="2.55"/><circle cx="100.3" cy="339.9" r="2.55"/><circle cx="96.4" cy="341.4" r="2.55"/><circle cx="96.4" cy="341.4" r="2.55"/><circle cx="122.4" cy="341.8" r="2.55"/><circle cx="161.4" cy="348.8" r="2.55"/><circle cx="160.1" cy="329.2" r="2.55"/><circle cx="151.0" cy="337.2" r="2.55"/><circle cx="151.0" cy="337.2" r="2.55"/><circle cx="162.7" cy="333.6" r="2.55"/><circle cx="153.6" cy="324.7" r="2.55"/><circle cx="115.9" cy="325.6" r="2.55"/><circle cx="114.6" cy="339.1" r="2.55"/><circle cx="101.6" cy="341.0" r="2.55"/><circle cx="101.6" cy="341.0" r="2.55"/><circle cx="88.6" cy="340.2" r="2.55"/><circle cx="104.2" cy="327.3" r="2.55"/><circle cx="104.2" cy="327.3" r="2.55"/><circle cx="149.7" cy="330.0" r="2.55"/><circle cx="149.7" cy="330.0" r="2.55"/><circle cx="79.5" cy="311.8" r="2.55"/><circle cx="130.2" cy="302.4" r="2.55"/><circle cx="61.3" cy="307.1" r="2.55"/><circle cx="125.0" cy="316.7" r="2.55"/><circle cx="79.5" cy="298.4" r="2.55"/><circle cx="93.8" cy="316.3" r="2.55"/><circle cx="93.8" cy="316.3" r="2.55"/><circle cx="83.4" cy="311.4" r="2.55"/><circle cx="152.3" cy="307.4" r="2.55"/><circle cx="66.5" cy="306.7" r="2.55"/><circle cx="184.8" cy="304.3" r="2.55"/><circle cx="130.2" cy="305.2" r="2.55"/><circle cx="122.4" cy="294.3" r="2.55"/><circle cx="177.0" cy="309.8" r="2.55"/><circle cx="100.3" cy="301.2" r="2.55"/><circle cx="76.9" cy="320.1" r="2.55"/><circle cx="170.5" cy="304.0" r="2.55"/><circle cx="136.7" cy="309.0" r="2.55"/><circle cx="78.2" cy="294.0" r="2.55"/><circle cx="156.2" cy="297.7" r="2.55"/><circle cx="131.5" cy="293.5" r="2.55"/><circle cx="52.2" cy="297.8" r="2.55"/><circle cx="192.6" cy="312.1" r="2.55"/><circle cx="125.0" cy="293.4" r="2.55"/><circle cx="187.4" cy="307.2" r="2.55"/><circle cx="173.1" cy="294.2" r="2.55"/><circle cx="170.5" cy="306.8" r="2.55"/><circle cx="80.8" cy="304.8" r="2.55"/><circle cx="60.0" cy="309.8" r="2.55"/><circle cx="80.8" cy="313.3" r="2.55"/><circle cx="74.3" cy="313.0" r="2.55"/><circle cx="187.4" cy="301.6" r="2.55"/><circle cx="148.4" cy="304.5" r="2.55"/><circle cx="178.3" cy="316.9" r="2.55"/><circle cx="184.8" cy="365.0" r="2.55"/><circle cx="161.4" cy="367.4" r="2.55"/><circle cx="195.2" cy="367.1" r="2.55"/><circle cx="165.3" cy="367.2" r="2.55"/><circle cx="165.3" cy="367.2" r="2.55"/><circle cx="165.3" cy="367.2" r="2.55"/><circle cx="180.9" cy="366.7" r="2.55"/><circle cx="187.4" cy="363.9" r="2.55"/><circle cx="167.9" cy="367.0" r="2.55"/><circle cx="179.6" cy="365.2" r="2.55"/><circle cx="179.6" cy="365.2" r="2.55"/><circle cx="179.6" cy="365.2" r="2.55"/><circle cx="179.6" cy="365.2" r="2.55"/><circle cx="179.6" cy="365.2" r="2.55"/><circle cx="179.6" cy="365.2" r="2.55"/><circle cx="190.0" cy="360.1" r="2.55"/><circle cx="190.0" cy="360.1" r="2.55"/><circle cx="190.0" cy="360.1" r="2.55"/><circle cx="151.0" cy="367.5" r="2.55"/><circle cx="154.9" cy="367.5" r="2.55"/><circle cx="154.9" cy="367.5" r="2.55"/><circle cx="154.9" cy="367.5" r="2.55"/><circle cx="153.6" cy="367.5" r="2.55"/><circle cx="153.6" cy="367.5" r="2.55"/><circle cx="153.6" cy="367.5" r="2.55"/><circle cx="160.1" cy="366.6" r="2.55"/><circle cx="160.1" cy="366.6" r="2.55"/><circle cx="184.8" cy="365.5" r="2.55"/><circle cx="169.2" cy="366.5" r="2.55"/><circle cx="175.7" cy="367.3" r="2.55"/><circle cx="175.7" cy="367.3" r="2.55"/><circle cx="175.7" cy="367.3" r="2.55"/><circle cx="173.1" cy="366.0" r="2.55"/><circle cx="173.1" cy="366.0" r="2.55"/><circle cx="171.8" cy="365.8" r="2.55"/><circle cx="171.8" cy="365.8" r="2.55"/><circle cx="171.8" cy="365.8" r="2.55"/><circle cx="182.2" cy="362.8" r="2.55"/><circle cx="182.2" cy="362.8" r="2.55"/><circle cx="182.2" cy="362.8" r="2.55"/><circle cx="182.2" cy="367.1" r="2.55"/><circle cx="184.8" cy="364.7" r="2.55"/><circle cx="166.6" cy="365.7" r="2.55"/><circle cx="52.2" cy="361.7" r="2.55"/><circle cx="52.2" cy="361.0" r="2.55"/><circle cx="52.2" cy="358.1" r="2.55"/><circle cx="53.5" cy="342.3" r="2.55"/><circle cx="50.9" cy="335.3" r="2.55"/><circle cx="50.9" cy="343.9" r="2.55"/><circle cx="50.9" cy="343.9" r="2.55"/><circle cx="50.9" cy="343.9" r="2.55"/><circle cx="50.9" cy="333.7" r="2.55"/><circle cx="50.9" cy="338.0" r="2.55"/><circle cx="49.6" cy="342.4" r="2.55"/><circle cx="49.6" cy="342.4" r="2.55"/><circle cx="49.6" cy="342.4" r="2.55"/><circle cx="49.6" cy="342.4" r="2.55"/><circle cx="49.6" cy="342.4" r="2.55"/><circle cx="50.9" cy="353.3" r="2.55"/><circle cx="49.6" cy="342.9" r="2.55"/><circle cx="52.2" cy="319.6" r="2.55"/><circle cx="52.2" cy="345.5" r="2.55"/><circle cx="52.2" cy="345.5" r="2.55"/><circle cx="50.9" cy="365.5" r="2.55"/><circle cx="50.9" cy="365.5" r="2.55"/><circle cx="50.9" cy="329.0" r="2.55"/><circle cx="50.9" cy="326.4" r="2.55"/><circle cx="52.2" cy="321.0" r="2.55"/><circle cx="49.6" cy="332.2" r="2.55"/><circle cx="49.6" cy="332.2" r="2.55"/><circle cx="49.6" cy="333.9" r="2.55"/><circle cx="50.9" cy="362.9" r="2.55"/><circle cx="49.6" cy="348.0" r="2.55"/><circle cx="50.9" cy="324.5" r="2.55"/><circle cx="50.9" cy="334.0" r="2.55"/><circle cx="50.9" cy="363.1" r="2.55"/><circle cx="49.6" cy="327.9" r="2.55"/><circle cx="52.2" cy="358.3" r="2.55"/><circle cx="52.2" cy="358.3" r="2.55"/><circle cx="53.5" cy="322.0" r="2.55"/><circle cx="49.6" cy="341.7" r="2.55"/><circle cx="50.9" cy="361.3" r="2.55"/><circle cx="50.9" cy="361.3" r="2.55"/><circle cx="49.6" cy="349.0" r="2.55"/><circle cx="49.6" cy="344.7" r="2.55"/><circle cx="52.2" cy="351.4" r="2.55"/><circle cx="52.2" cy="351.4" r="2.55"/><circle cx="52.2" cy="351.4" r="2.55"/><circle cx="52.2" cy="351.4" r="2.55"/><circle cx="52.2" cy="326.8" r="2.55"/><circle cx="52.2" cy="326.8" r="2.55"/><circle cx="53.5" cy="334.2" r="2.55"/><circle cx="53.5" cy="336.8" r="2.55"/><circle cx="50.9" cy="320.8" r="2.55"/><circle cx="52.2" cy="320.7" r="2.55"/><circle cx="50.9" cy="356.0" r="2.55"/><circle cx="50.9" cy="356.0" r="2.55"/><circle cx="50.9" cy="356.0" r="2.55"/><circle cx="50.9" cy="356.0" r="2.55"/><circle cx="50.9" cy="356.0" r="2.55"/><circle cx="52.2" cy="319.3" r="2.55"/><circle cx="50.9" cy="341.9" r="2.55"/><circle cx="50.9" cy="365.8" r="2.55"/><circle cx="50.9" cy="327.3" r="2.55"/><circle cx="53.5" cy="346.4" r="2.55"/><circle cx="49.6" cy="344.6" r="2.55"/><circle cx="49.6" cy="344.6" r="2.55"/><circle cx="52.2" cy="329.7" r="2.55"/><circle cx="52.2" cy="328.5" r="2.55"/><circle cx="49.6" cy="356.2" r="2.55"/><circle cx="49.6" cy="356.2" r="2.55"/><circle cx="49.6" cy="346.8" r="2.55"/><circle cx="50.9" cy="360.1" r="2.55"/><circle cx="50.9" cy="343.6" r="2.55"/><circle cx="50.9" cy="343.6" r="2.55"/><circle cx="50.9" cy="352.8" r="2.55"/><circle cx="50.9" cy="352.8" r="2.55"/><circle cx="50.9" cy="352.8" r="2.55"/><circle cx="50.9" cy="352.8" r="2.55"/><circle cx="50.9" cy="338.7" r="2.55"/><circle cx="50.9" cy="338.7" r="2.55"/><circle cx="50.9" cy="338.7" r="2.55"/><circle cx="50.9" cy="325.8" r="2.55"/><circle cx="49.6" cy="355.5" r="2.55"/><circle cx="49.6" cy="355.5" r="2.55"/><circle cx="52.2" cy="345.5" r="2.55"/><circle cx="52.2" cy="345.5" r="2.55"/><circle cx="52.2" cy="345.5" r="2.55"/><circle cx="50.9" cy="353.7" r="2.55"/><circle cx="50.9" cy="353.7" r="2.55"/><circle cx="50.9" cy="353.7" r="2.55"/><circle cx="50.9" cy="342.1" r="2.55"/><circle cx="50.9" cy="342.1" r="2.55"/><circle cx="50.9" cy="342.1" r="2.55"/><circle cx="52.2" cy="355.3" r="2.55"/><circle cx="52.2" cy="347.6" r="2.55"/><circle cx="50.9" cy="330.2" r="2.55"/><circle cx="52.2" cy="362.4" r="2.55"/><circle cx="49.6" cy="332.0" r="2.55"/><circle cx="53.5" cy="345.9" r="2.55"/><circle cx="53.5" cy="349.6" r="2.55"/><circle cx="50.9" cy="324.5" r="2.55"/><circle cx="49.6" cy="333.0" r="2.55"/><circle cx="50.9" cy="363.1" r="2.55"/><circle cx="50.9" cy="358.7" r="2.55"/><circle cx="50.9" cy="358.7" r="2.55"/><circle cx="50.9" cy="361.9" r="2.55"/><circle cx="50.9" cy="360.7" r="2.55"/><circle cx="50.9" cy="360.7" r="2.55"/><circle cx="50.9" cy="360.7" r="2.55"/><circle cx="53.5" cy="361.8" r="2.55"/><circle cx="52.2" cy="357.9" r="2.55"/><circle cx="50.9" cy="362.7" r="2.55"/><circle cx="49.6" cy="358.0" r="2.55"/><circle cx="54.8" cy="346.8" r="2.55"/><circle cx="54.8" cy="346.8" r="2.55"/><circle cx="50.9" cy="354.6" r="2.55"/><circle cx="50.9" cy="354.6" r="2.55"/><circle cx="50.9" cy="354.6" r="2.55"/><circle cx="50.9" cy="354.6" r="2.55"/><circle cx="50.9" cy="354.6" r="2.55"/><circle cx="50.9" cy="343.2" r="2.55"/><circle cx="50.9" cy="343.2" r="2.55"/><circle cx="50.9" cy="343.2" r="2.55"/><circle cx="49.6" cy="343.6" r="2.55"/><circle cx="50.9" cy="360.0" r="2.55"/><circle cx="52.2" cy="360.0" r="2.55"/><circle cx="52.2" cy="360.0" r="2.55"/><circle cx="52.2" cy="360.0" r="2.55"/><circle cx="50.9" cy="343.7" r="2.55"/><circle cx="49.6" cy="351.3" r="2.55"/><circle cx="49.6" cy="351.3" r="2.55"/><circle cx="49.6" cy="351.3" r="2.55"/><circle cx="52.2" cy="366.0" r="2.55"/><circle cx="52.2" cy="366.0" r="2.55"/><circle cx="52.2" cy="366.0" r="2.55"/><circle cx="50.9" cy="329.0" r="2.55"/><circle cx="50.9" cy="331.4" r="2.55"/><circle cx="50.9" cy="359.0" r="2.55"/><circle cx="53.5" cy="357.7" r="2.55"/><circle cx="53.5" cy="357.7" r="2.55"/><circle cx="53.5" cy="357.7" r="2.55"/><circle cx="53.5" cy="357.7" r="2.55"/><circle cx="50.9" cy="361.1" r="2.55"/><circle cx="50.9" cy="361.1" r="2.55"/><circle cx="50.9" cy="337.0" r="2.55"/><circle cx="53.5" cy="340.8" r="2.55"/><circle cx="52.2" cy="352.0" r="2.55"/><circle cx="50.9" cy="324.4" r="2.55"/><circle cx="52.2" cy="324.1" r="2.55"/><circle cx="50.9" cy="359.0" r="2.55"/><circle cx="50.9" cy="351.9" r="2.55"/><circle cx="50.9" cy="344.6" r="2.55"/><circle cx="50.9" cy="344.6" r="2.55"/><circle cx="50.9" cy="344.6" r="2.55"/><circle cx="49.6" cy="322.7" r="2.55"/><circle cx="49.6" cy="322.7" r="2.55"/><circle cx="49.6" cy="322.7" r="2.55"/><circle cx="52.2" cy="347.2" r="2.55"/><circle cx="52.2" cy="347.2" r="2.55"/><circle cx="49.6" cy="335.5" r="2.55"/><circle cx="52.2" cy="354.9" r="2.55"/><circle cx="52.2" cy="354.9" r="2.55"/><circle cx="52.2" cy="354.9" r="2.55"/><circle cx="52.2" cy="354.9" r="2.55"/><circle cx="52.2" cy="354.9" r="2.55"/><circle cx="52.2" cy="346.3" r="2.55"/><circle cx="52.2" cy="346.3" r="2.55"/><circle cx="52.2" cy="346.3" r="2.55"/><circle cx="52.2" cy="342.0" r="2.55"/><circle cx="52.2" cy="319.7" r="2.55"/><circle cx="52.2" cy="325.5" r="2.55"/><circle cx="50.9" cy="362.1" r="2.55"/><circle cx="52.2" cy="357.5" r="2.55"/><circle cx="52.2" cy="357.5" r="2.55"/><circle cx="52.2" cy="334.3" r="2.55"/><circle cx="49.6" cy="337.8" r="2.55"/><circle cx="49.6" cy="337.8" r="2.55"/><circle cx="49.6" cy="337.8" r="2.55"/><circle cx="49.6" cy="366.3" r="2.55"/><circle cx="54.8" cy="339.4" r="2.55"/><circle cx="54.8" cy="339.4" r="2.55"/><circle cx="49.6" cy="361.8" r="2.55"/><circle cx="52.2" cy="352.4" r="2.55"/><circle cx="52.2" cy="354.1" r="2.55"/><circle cx="54.8" cy="343.6" r="2.55"/><circle cx="54.8" cy="343.6" r="2.55"/><circle cx="54.8" cy="343.6" r="2.55"/><circle cx="54.8" cy="343.6" r="2.55"/><circle cx="54.8" cy="343.6" r="2.55"/><circle cx="54.8" cy="343.6" r="2.55"/><circle cx="50.9" cy="348.0" r="2.55"/><circle cx="50.9" cy="348.0" r="2.55"/><circle cx="50.9" cy="357.1" r="2.55"/><circle cx="50.9" cy="357.1" r="2.55"/><circle cx="50.9" cy="357.1" r="2.55"/><circle cx="50.9" cy="322.0" r="2.55"/><circle cx="49.6" cy="332.0" r="2.55"/><circle cx="49.6" cy="341.1" r="2.55"/><circle cx="49.6" cy="341.1" r="2.55"/><circle cx="49.6" cy="345.1" r="2.55"/><circle cx="49.6" cy="332.3" r="2.55"/><circle cx="49.6" cy="332.3" r="2.55"/><circle cx="49.6" cy="324.5" r="2.55"/><circle cx="52.2" cy="325.1" r="2.55"/><circle cx="52.2" cy="325.1" r="2.55"/><circle cx="49.6" cy="362.9" r="2.55"/><circle cx="49.6" cy="362.9" r="2.55"/><circle cx="53.5" cy="367.1" r="2.55"/><circle cx="53.5" cy="367.1" r="2.55"/><circle cx="53.5" cy="367.1" r="2.55"/><circle cx="49.6" cy="322.2" r="2.55"/><circle cx="49.6" cy="322.2" r="2.55"/><circle cx="50.9" cy="319.7" r="2.55"/><circle cx="52.2" cy="331.3" r="2.55"/><circle cx="49.6" cy="325.0" r="2.55"/><circle cx="49.6" cy="325.0" r="2.55"/><circle cx="50.9" cy="335.0" r="2.55"/><circle cx="50.9" cy="335.0" r="2.55"/><circle cx="52.2" cy="324.0" r="2.55"/><circle cx="50.9" cy="357.8" r="2.55"/><circle cx="50.9" cy="357.8" r="2.55"/><circle cx="50.9" cy="358.0" r="2.55"/><circle cx="50.9" cy="359.9" r="2.55"/><circle cx="50.9" cy="359.9" r="2.55"/><circle cx="50.9" cy="359.9" r="2.55"/><circle cx="50.9" cy="358.8" r="2.55"/><circle cx="49.6" cy="322.9" r="2.55"/><circle cx="49.6" cy="322.9" r="2.55"/><circle cx="53.5" cy="329.7" r="2.55"/><circle cx="53.5" cy="329.7" r="2.55"/><circle cx="52.2" cy="363.4" r="2.55"/><circle cx="50.9" cy="323.6" r="2.55"/><circle cx="50.9" cy="350.3" r="2.55"/><circle cx="50.9" cy="350.3" r="2.55"/><circle cx="50.9" cy="350.3" r="2.55"/><circle cx="52.2" cy="351.6" r="2.55"/><circle cx="52.2" cy="330.2" r="2.55"/><circle cx="49.6" cy="361.3" r="2.55"/><circle cx="49.6" cy="361.3" r="2.55"/><circle cx="49.6" cy="361.3" r="2.55"/><circle cx="49.6" cy="361.3" r="2.55"/><circle cx="49.6" cy="361.3" r="2.55"/><circle cx="50.9" cy="349.6" r="2.55"/><circle cx="50.9" cy="349.6" r="2.55"/><circle cx="50.9" cy="356.8" r="2.55"/><circle cx="50.9" cy="356.8" r="2.55"/><circle cx="49.6" cy="355.6" r="2.55"/><circle cx="50.9" cy="344.9" r="2.55"/><circle cx="50.9" cy="344.9" r="2.55"/><circle cx="50.9" cy="344.9" r="2.55"/><circle cx="50.9" cy="344.9" r="2.55"/><circle cx="50.9" cy="344.9" r="2.55"/><circle cx="50.9" cy="344.9" r="2.55"/><circle cx="50.9" cy="329.4" r="2.55"/><circle cx="52.2" cy="319.2" r="2.55"/><circle cx="50.9" cy="343.7" r="2.55"/><circle cx="49.6" cy="343.7" r="2.55"/><circle cx="49.6" cy="352.4" r="2.55"/><circle cx="52.2" cy="357.0" r="2.55"/><circle cx="52.2" cy="357.0" r="2.55"/><circle cx="49.6" cy="352.0" r="2.55"/><circle cx="49.6" cy="352.0" r="2.55"/><circle cx="49.6" cy="352.0" r="2.55"/><circle cx="49.6" cy="352.0" r="2.55"/><circle cx="49.6" cy="352.0" r="2.55"/><circle cx="52.2" cy="334.2" r="2.55"/><circle cx="52.2" cy="336.2" r="2.55"/><circle cx="49.6" cy="367.4" r="2.55"/><circle cx="50.9" cy="354.6" r="2.55"/><circle cx="49.6" cy="363.8" r="2.55"/><circle cx="52.2" cy="326.7" r="2.55"/><circle cx="49.6" cy="361.6" r="2.55"/><circle cx="49.6" cy="334.5" r="2.55"/><circle cx="52.2" cy="339.2" r="2.55"/><circle cx="50.9" cy="363.5" r="2.55"/><circle cx="50.9" cy="363.5" r="2.55"/><circle cx="50.9" cy="363.5" r="2.55"/><circle cx="50.9" cy="356.2" r="2.55"/><circle cx="50.9" cy="356.2" r="2.55"/><circle cx="52.2" cy="319.3" r="2.55"/><circle cx="52.2" cy="319.3" r="2.55"/><circle cx="52.2" cy="328.7" r="2.55"/><circle cx="50.9" cy="342.1" r="2.55"/><circle cx="52.2" cy="325.4" r="2.55"/><circle cx="49.6" cy="352.3" r="2.55"/><circle cx="49.6" cy="352.3" r="2.55"/><circle cx="50.9" cy="359.7" r="2.55"/><circle cx="50.9" cy="355.6" r="2.55"/><circle cx="52.2" cy="331.8" r="2.55"/><circle cx="49.6" cy="352.8" r="2.55"/><circle cx="53.5" cy="350.7" r="2.55"/><circle cx="53.5" cy="345.6" r="2.55"/><circle cx="52.2" cy="339.5" r="2.55"/><circle cx="50.9" cy="366.6" r="2.55"/><circle cx="52.2" cy="322.8" r="2.55"/><circle cx="52.2" cy="322.8" r="2.55"/><circle cx="52.2" cy="322.8" r="2.55"/><circle cx="52.2" cy="366.1" r="2.55"/><circle cx="50.9" cy="355.3" r="2.55"/><circle cx="50.9" cy="355.3" r="2.55"/><circle cx="52.2" cy="322.9" r="2.55"/><circle cx="52.2" cy="357.3" r="2.55"/><circle cx="53.5" cy="332.9" r="2.55"/><circle cx="52.2" cy="325.8" r="2.55"/><circle cx="50.9" cy="337.5" r="2.55"/><circle cx="50.9" cy="357.3" r="2.55"/><circle cx="50.9" cy="357.3" r="2.55"/><circle cx="50.9" cy="345.4" r="2.55"/><circle cx="50.9" cy="321.0" r="2.55"/><circle cx="49.6" cy="323.8" r="2.55"/><circle cx="50.9" cy="356.0" r="2.55"/><circle cx="49.6" cy="332.5" r="2.55"/><circle cx="49.6" cy="332.5" r="2.55"/><circle cx="49.6" cy="332.5" r="2.55"/><circle cx="52.2" cy="353.1" r="2.55"/><circle cx="53.5" cy="326.5" r="2.55"/><circle cx="53.5" cy="326.5" r="2.55"/><circle cx="53.5" cy="326.5" r="2.55"/><circle cx="50.9" cy="341.6" r="2.55"/><circle cx="50.9" cy="341.6" r="2.55"/><circle cx="50.9" cy="352.2" r="2.55"/><circle cx="50.9" cy="352.2" r="2.55"/><circle cx="49.6" cy="321.1" r="2.55"/><circle cx="49.6" cy="321.1" r="2.55"/><circle cx="49.6" cy="319.5" r="2.55"/><circle cx="50.9" cy="362.5" r="2.55"/><circle cx="50.9" cy="362.5" r="2.55"/><circle cx="49.6" cy="350.6" r="2.55"/><circle cx="52.2" cy="363.9" r="2.55"/><circle cx="52.2" cy="363.9" r="2.55"/><circle cx="52.2" cy="363.9" r="2.55"/><circle cx="49.6" cy="356.3" r="2.55"/><circle cx="49.6" cy="342.8" r="2.55"/><circle cx="49.6" cy="342.8" r="2.55"/><circle cx="52.2" cy="339.1" r="2.55"/><circle cx="50.9" cy="335.3" r="2.55"/><circle cx="50.9" cy="335.3" r="2.55"/><circle cx="50.9" cy="335.3" r="2.55"/><circle cx="50.9" cy="334.1" r="2.55"/><circle cx="50.9" cy="334.1" r="2.55"/><circle cx="50.9" cy="334.1" r="2.55"/><circle cx="52.2" cy="355.2" r="2.55"/><circle cx="52.2" cy="355.2" r="2.55"/><circle cx="52.2" cy="355.2" r="2.55"/><circle cx="52.2" cy="355.2" r="2.55"/><circle cx="52.2" cy="355.2" r="2.55"/><circle cx="52.2" cy="360.0" r="2.55"/><circle cx="49.6" cy="325.1" r="2.55"/><circle cx="49.6" cy="337.8" r="2.55"/><circle cx="50.9" cy="327.1" r="2.55"/><circle cx="52.2" cy="350.7" r="2.55"/><circle cx="50.9" cy="335.8" r="2.55"/><circle cx="52.2" cy="362.2" r="2.55"/><circle cx="52.2" cy="362.2" r="2.55"/><circle cx="52.2" cy="362.2" r="2.55"/><circle cx="52.2" cy="362.2" r="2.55"/><circle cx="49.6" cy="308.2" r="2.55"/><circle cx="49.6" cy="297.3" r="2.55"/><circle cx="49.6" cy="297.3" r="2.55"/><circle cx="53.5" cy="308.9" r="2.55"/><circle cx="50.9" cy="298.7" r="2.55"/><circle cx="50.9" cy="298.7" r="2.55"/><circle cx="53.5" cy="312.2" r="2.55"/><circle cx="53.5" cy="312.2" r="2.55"/><circle cx="52.2" cy="310.7" r="2.55"/><circle cx="50.9" cy="313.2" r="2.55"/><circle cx="53.5" cy="310.0" r="2.55"/><circle cx="52.2" cy="313.4" r="2.55"/><circle cx="50.9" cy="294.3" r="2.55"/><circle cx="49.6" cy="295.9" r="2.55"/><circle cx="49.6" cy="304.5" r="2.55"/><circle cx="49.6" cy="295.9" r="2.55"/><circle cx="49.6" cy="313.9" r="2.55"/><circle cx="53.5" cy="317.5" r="2.55"/><circle cx="53.5" cy="302.6" r="2.55"/><circle cx="50.9" cy="299.5" r="2.55"/><circle cx="52.2" cy="304.5" r="2.55"/><circle cx="50.9" cy="308.0" r="2.55"/><circle cx="50.9" cy="304.7" r="2.55"/><circle cx="50.9" cy="304.5" r="2.55"/><circle cx="50.9" cy="304.5" r="2.55"/><circle cx="50.9" cy="294.6" r="2.55"/><circle cx="53.5" cy="296.9" r="2.55"/><circle cx="49.6" cy="296.8" r="2.55"/><circle cx="50.9" cy="310.9" r="2.55"/><circle cx="61.3" cy="343.3" r="2.55"/><circle cx="62.6" cy="338.3" r="2.55"/><circle cx="62.6" cy="338.3" r="2.55"/><circle cx="62.6" cy="338.3" r="2.55"/><circle cx="62.6" cy="329.4" r="2.55"/><circle cx="62.6" cy="329.4" r="2.55"/><circle cx="62.6" cy="324.5" r="2.55"/><circle cx="60.0" cy="357.2" r="2.55"/><circle cx="60.0" cy="357.2" r="2.55"/><circle cx="60.0" cy="357.2" r="2.55"/><circle cx="60.0" cy="357.2" r="2.55"/><circle cx="61.3" cy="326.2" r="2.55"/><circle cx="61.3" cy="366.4" r="2.55"/><circle cx="61.3" cy="366.4" r="2.55"/><circle cx="61.3" cy="366.4" r="2.55"/><circle cx="62.6" cy="353.9" r="2.55"/><circle cx="61.3" cy="341.3" r="2.55"/><circle cx="62.6" cy="340.6" r="2.55"/><circle cx="62.6" cy="340.6" r="2.55"/><circle cx="62.6" cy="340.6" r="2.55"/><circle cx="63.9" cy="344.5" r="2.55"/><circle cx="62.6" cy="356.0" r="2.55"/><circle cx="62.6" cy="338.7" r="2.55"/><circle cx="62.6" cy="338.7" r="2.55"/><circle cx="61.3" cy="354.1" r="2.55"/><circle cx="62.6" cy="321.7" r="2.55"/><circle cx="62.6" cy="355.3" r="2.55"/><circle cx="62.6" cy="322.0" r="2.55"/><circle cx="62.6" cy="365.2" r="2.55"/><circle cx="62.6" cy="365.2" r="2.55"/><circle cx="62.6" cy="365.1" r="2.55"/><circle cx="62.6" cy="365.1" r="2.55"/><circle cx="61.3" cy="364.8" r="2.55"/><circle cx="61.3" cy="341.8" r="2.55"/><circle cx="62.6" cy="357.3" r="2.55"/><circle cx="62.6" cy="351.1" r="2.55"/><circle cx="62.6" cy="324.9" r="2.55"/><circle cx="61.3" cy="345.3" r="2.55"/><circle cx="61.3" cy="345.3" r="2.55"/><circle cx="61.3" cy="345.3" r="2.55"/><circle cx="61.3" cy="345.3" r="2.55"/><circle cx="61.3" cy="345.3" r="2.55"/><circle cx="61.3" cy="345.3" r="2.55"/><circle cx="61.3" cy="329.3" r="2.55"/><circle cx="61.3" cy="347.4" r="2.55"/><circle cx="61.3" cy="347.4" r="2.55"/><circle cx="61.3" cy="347.4" r="2.55"/><circle cx="62.6" cy="359.1" r="2.55"/><circle cx="62.6" cy="359.1" r="2.55"/><circle cx="62.6" cy="359.1" r="2.55"/><circle cx="62.6" cy="359.1" r="2.55"/><circle cx="62.6" cy="365.7" r="2.55"/><circle cx="62.6" cy="365.7" r="2.55"/><circle cx="62.6" cy="365.7" r="2.55"/><circle cx="61.3" cy="340.5" r="2.55"/><circle cx="62.6" cy="334.0" r="2.55"/><circle cx="62.6" cy="329.1" r="2.55"/><circle cx="62.6" cy="361.7" r="2.55"/><circle cx="61.3" cy="347.2" r="2.55"/><circle cx="61.3" cy="347.2" r="2.55"/><circle cx="63.9" cy="354.1" r="2.55"/><circle cx="61.3" cy="341.9" r="2.55"/><circle cx="63.9" cy="359.5" r="2.55"/><circle cx="63.9" cy="359.5" r="2.55"/><circle cx="63.9" cy="336.8" r="2.55"/><circle cx="62.6" cy="340.5" r="2.55"/><circle cx="60.0" cy="367.2" r="2.55"/><circle cx="61.3" cy="337.6" r="2.55"/><circle cx="65.2" cy="345.5" r="2.55"/><circle cx="61.3" cy="347.2" r="2.55"/><circle cx="62.6" cy="343.6" r="2.55"/><circle cx="62.6" cy="343.6" r="2.55"/><circle cx="63.9" cy="356.4" r="2.55"/><circle cx="63.9" cy="353.3" r="2.55"/><circle cx="61.3" cy="346.5" r="2.55"/><circle cx="61.3" cy="346.5" r="2.55"/><circle cx="61.3" cy="346.5" r="2.55"/><circle cx="62.6" cy="323.9" r="2.55"/><circle cx="62.6" cy="329.4" r="2.55"/><circle cx="62.6" cy="341.2" r="2.55"/><circle cx="63.9" cy="331.6" r="2.55"/><circle cx="62.6" cy="331.1" r="2.55"/><circle cx="61.3" cy="321.6" r="2.55"/><circle cx="60.0" cy="354.2" r="2.55"/><circle cx="61.3" cy="340.6" r="2.55"/><circle cx="61.3" cy="321.5" r="2.55"/><circle cx="61.3" cy="336.6" r="2.55"/><circle cx="63.9" cy="367.2" r="2.55"/><circle cx="61.3" cy="358.7" r="2.55"/><circle cx="61.3" cy="358.7" r="2.55"/><circle cx="63.9" cy="357.9" r="2.55"/><circle cx="63.9" cy="357.9" r="2.55"/><circle cx="63.9" cy="357.9" r="2.55"/><circle cx="63.9" cy="357.9" r="2.55"/><circle cx="61.3" cy="360.2" r="2.55"/><circle cx="61.3" cy="360.2" r="2.55"/><circle cx="62.6" cy="326.5" r="2.55"/><circle cx="62.6" cy="343.8" r="2.55"/><circle cx="62.6" cy="343.8" r="2.55"/><circle cx="62.6" cy="342.1" r="2.55"/><circle cx="63.9" cy="339.9" r="2.55"/><circle cx="63.9" cy="345.1" r="2.55"/><circle cx="63.9" cy="345.1" r="2.55"/><circle cx="63.9" cy="328.8" r="2.55"/><circle cx="62.6" cy="330.0" r="2.55"/><circle cx="62.6" cy="343.2" r="2.55"/><circle cx="62.6" cy="343.2" r="2.55"/><circle cx="62.6" cy="333.4" r="2.55"/><circle cx="62.6" cy="357.8" r="2.55"/><circle cx="61.3" cy="321.9" r="2.55"/><circle cx="63.9" cy="332.1" r="2.55"/><circle cx="61.3" cy="325.8" r="2.55"/><circle cx="63.9" cy="352.3" r="2.55"/><circle cx="63.9" cy="358.5" r="2.55"/><circle cx="63.9" cy="358.5" r="2.55"/><circle cx="60.0" cy="323.4" r="2.55"/><circle cx="61.3" cy="326.7" r="2.55"/><circle cx="62.6" cy="332.3" r="2.55"/><circle cx="62.6" cy="332.3" r="2.55"/><circle cx="62.6" cy="332.3" r="2.55"/><circle cx="61.3" cy="334.3" r="2.55"/><circle cx="63.9" cy="356.1" r="2.55"/><circle cx="62.6" cy="343.0" r="2.55"/><circle cx="62.6" cy="343.0" r="2.55"/><circle cx="62.6" cy="343.0" r="2.55"/><circle cx="61.3" cy="332.8" r="2.55"/><circle cx="62.6" cy="348.7" r="2.55"/><circle cx="62.6" cy="348.7" r="2.55"/><circle cx="62.6" cy="348.7" r="2.55"/><circle cx="62.6" cy="348.7" r="2.55"/><circle cx="62.6" cy="348.7" r="2.55"/><circle cx="63.9" cy="345.1" r="2.55"/><circle cx="61.3" cy="352.1" r="2.55"/><circle cx="61.3" cy="352.1" r="2.55"/><circle cx="61.3" cy="352.1" r="2.55"/><circle cx="61.3" cy="352.1" r="2.55"/><circle cx="61.3" cy="352.1" r="2.55"/><circle cx="62.6" cy="343.6" r="2.55"/><circle cx="62.6" cy="327.5" r="2.55"/><circle cx="62.6" cy="360.0" r="2.55"/><circle cx="61.3" cy="352.1" r="2.55"/><circle cx="61.3" cy="352.1" r="2.55"/><circle cx="63.9" cy="348.7" r="2.55"/><circle cx="62.6" cy="366.3" r="2.55"/><circle cx="62.6" cy="325.8" r="2.55"/><circle cx="61.3" cy="363.9" r="2.55"/><circle cx="63.9" cy="364.4" r="2.55"/><circle cx="63.9" cy="364.4" r="2.55"/><circle cx="63.9" cy="364.4" r="2.55"/><circle cx="62.6" cy="351.8" r="2.55"/><circle cx="63.9" cy="355.7" r="2.55"/><circle cx="61.3" cy="348.7" r="2.55"/><circle cx="62.6" cy="355.6" r="2.55"/><circle cx="62.6" cy="342.0" r="2.55"/><circle cx="62.6" cy="333.3" r="2.55"/><circle cx="62.6" cy="333.3" r="2.55"/><circle cx="62.6" cy="333.2" r="2.55"/><circle cx="62.6" cy="333.2" r="2.55"/><circle cx="63.9" cy="355.8" r="2.55"/><circle cx="61.3" cy="359.0" r="2.55"/><circle cx="61.3" cy="341.1" r="2.55"/><circle cx="62.6" cy="337.6" r="2.55"/><circle cx="62.6" cy="334.9" r="2.55"/><circle cx="60.0" cy="354.1" r="2.55"/><circle cx="60.0" cy="354.1" r="2.55"/><circle cx="60.0" cy="354.1" r="2.55"/><circle cx="60.0" cy="354.1" r="2.55"/><circle cx="60.0" cy="354.1" r="2.55"/><circle cx="62.6" cy="352.9" r="2.55"/><circle cx="62.6" cy="352.9" r="2.55"/><circle cx="62.6" cy="352.9" r="2.55"/><circle cx="62.6" cy="352.9" r="2.55"/><circle cx="62.6" cy="357.1" r="2.55"/><circle cx="61.3" cy="354.4" r="2.55"/><circle cx="65.2" cy="335.9" r="2.55"/><circle cx="65.2" cy="335.9" r="2.55"/><circle cx="62.6" cy="327.5" r="2.55"/><circle cx="62.6" cy="327.5" r="2.55"/><circle cx="60.0" cy="363.4" r="2.55"/><circle cx="62.6" cy="345.6" r="2.55"/><circle cx="62.6" cy="345.6" r="2.55"/><circle cx="62.6" cy="350.3" r="2.55"/><circle cx="61.3" cy="360.9" r="2.55"/><circle cx="62.6" cy="321.9" r="2.55"/><circle cx="62.6" cy="346.8" r="2.55"/><circle cx="62.6" cy="346.8" r="2.55"/><circle cx="62.6" cy="321.2" r="2.55"/><circle cx="62.6" cy="321.2" r="2.55"/><circle cx="65.2" cy="362.2" r="2.55"/><circle cx="62.6" cy="324.2" r="2.55"/><circle cx="61.3" cy="346.0" r="2.55"/><circle cx="61.3" cy="360.1" r="2.55"/><circle cx="61.3" cy="352.7" r="2.55"/><circle cx="61.3" cy="352.7" r="2.55"/><circle cx="60.0" cy="363.6" r="2.55"/><circle cx="63.9" cy="335.9" r="2.55"/><circle cx="63.9" cy="363.8" r="2.55"/><circle cx="63.9" cy="363.8" r="2.55"/><circle cx="62.6" cy="356.1" r="2.55"/><circle cx="62.6" cy="356.1" r="2.55"/><circle cx="62.6" cy="356.1" r="2.55"/><circle cx="62.6" cy="356.1" r="2.55"/><circle cx="62.6" cy="356.1" r="2.55"/><circle cx="60.0" cy="339.2" r="2.55"/><circle cx="62.6" cy="346.1" r="2.55"/><circle cx="62.6" cy="346.1" r="2.55"/><circle cx="62.6" cy="346.1" r="2.55"/><circle cx="62.6" cy="346.1" r="2.55"/><circle cx="61.3" cy="336.9" r="2.55"/><circle cx="61.3" cy="349.2" r="2.55"/><circle cx="62.6" cy="352.7" r="2.55"/><circle cx="61.3" cy="363.0" r="2.55"/><circle cx="61.3" cy="310.2" r="2.55"/><circle cx="63.9" cy="317.6" r="2.55"/><circle cx="62.6" cy="308.2" r="2.55"/><circle cx="63.9" cy="313.7" r="2.55"/><circle cx="63.9" cy="310.6" r="2.55"/><circle cx="65.2" cy="315.3" r="2.55"/><circle cx="62.6" cy="308.1" r="2.55"/><circle cx="62.6" cy="312.0" r="2.55"/><circle cx="65.2" cy="312.3" r="2.55"/><circle cx="63.9" cy="309.6" r="2.55"/><circle cx="67.8" cy="356.1" r="2.55"/><circle cx="67.8" cy="356.1" r="2.55"/><circle cx="67.8" cy="343.8" r="2.55"/><circle cx="67.8" cy="353.4" r="2.55"/><circle cx="67.8" cy="353.4" r="2.55"/><circle cx="67.8" cy="353.4" r="2.55"/><circle cx="67.8" cy="353.4" r="2.55"/><circle cx="66.5" cy="359.4" r="2.55"/><circle cx="66.5" cy="359.4" r="2.55"/><circle cx="66.5" cy="355.2" r="2.55"/><circle cx="66.5" cy="355.2" r="2.55"/><circle cx="67.8" cy="350.7" r="2.55"/><circle cx="67.8" cy="350.7" r="2.55"/><circle cx="67.8" cy="359.7" r="2.55"/><circle cx="67.8" cy="362.6" r="2.55"/><circle cx="67.8" cy="362.6" r="2.55"/><circle cx="66.5" cy="342.5" r="2.55"/><circle cx="66.5" cy="342.5" r="2.55"/><circle cx="67.8" cy="361.8" r="2.55"/><circle cx="66.5" cy="349.5" r="2.55"/><circle cx="66.5" cy="347.1" r="2.55"/><circle cx="66.5" cy="347.1" r="2.55"/><circle cx="66.5" cy="347.1" r="2.55"/><circle cx="66.5" cy="347.1" r="2.55"/><circle cx="67.8" cy="342.5" r="2.55"/><circle cx="67.8" cy="342.5" r="2.55"/><circle cx="67.8" cy="342.5" r="2.55"/><circle cx="67.8" cy="342.5" r="2.55"/><circle cx="66.5" cy="336.8" r="2.55"/><circle cx="66.5" cy="336.8" r="2.55"/><circle cx="66.5" cy="343.8" r="2.55"/><circle cx="67.8" cy="344.5" r="2.55"/><circle cx="67.8" cy="344.5" r="2.55"/><circle cx="66.5" cy="353.8" r="2.55"/><circle cx="66.5" cy="353.8" r="2.55"/><circle cx="66.5" cy="366.9" r="2.55"/><circle cx="67.8" cy="339.2" r="2.55"/><circle cx="67.8" cy="349.5" r="2.55"/><circle cx="67.8" cy="344.2" r="2.55"/><circle cx="66.5" cy="337.3" r="2.55"/><circle cx="66.5" cy="337.3" r="2.55"/><circle cx="67.8" cy="339.3" r="2.55"/><circle cx="67.8" cy="349.0" r="2.55"/><circle cx="66.5" cy="366.4" r="2.55"/><circle cx="67.8" cy="366.8" r="2.55"/><circle cx="67.8" cy="366.8" r="2.55"/><circle cx="66.5" cy="339.3" r="2.55"/><circle cx="67.8" cy="354.8" r="2.55"/><circle cx="67.8" cy="339.6" r="2.55"/><circle cx="66.5" cy="340.4" r="2.55"/><circle cx="66.5" cy="340.4" r="2.55"/><circle cx="67.8" cy="359.8" r="2.55"/><circle cx="67.8" cy="359.8" r="2.55"/><circle cx="66.5" cy="337.2" r="2.55"/><circle cx="66.5" cy="337.2" r="2.55"/><circle cx="66.5" cy="358.9" r="2.55"/><circle cx="66.5" cy="358.9" r="2.55"/><circle cx="66.5" cy="360.8" r="2.55"/><circle cx="67.8" cy="358.8" r="2.55"/><circle cx="67.8" cy="358.8" r="2.55"/><circle cx="67.8" cy="367.4" r="2.55"/><circle cx="66.5" cy="345.7" r="2.55"/><circle cx="66.5" cy="361.4" r="2.55"/><circle cx="66.5" cy="361.4" r="2.55"/><circle cx="66.5" cy="361.4" r="2.55"/><circle cx="66.5" cy="361.4" r="2.55"/><circle cx="66.5" cy="361.4" r="2.55"/><circle cx="67.8" cy="342.2" r="2.55"/><circle cx="66.5" cy="367.4" r="2.55"/><circle cx="66.5" cy="345.1" r="2.55"/><circle cx="66.5" cy="345.1" r="2.55"/><circle cx="67.8" cy="358.6" r="2.55"/><circle cx="67.8" cy="362.8" r="2.55"/><circle cx="67.8" cy="362.8" r="2.55"/><circle cx="66.5" cy="348.0" r="2.55"/><circle cx="66.5" cy="348.0" r="2.55"/><circle cx="66.5" cy="366.6" r="2.55"/><circle cx="67.8" cy="359.5" r="2.55"/><circle cx="67.8" cy="359.5" r="2.55"/><circle cx="66.5" cy="364.9" r="2.55"/><circle cx="66.5" cy="364.9" r="2.55"/><circle cx="66.5" cy="366.0" r="2.55"/><circle cx="66.5" cy="335.2" r="2.55"/><circle cx="66.5" cy="352.1" r="2.55"/><circle cx="67.8" cy="367.3" r="2.55"/><circle cx="67.8" cy="345.0" r="2.55"/><circle cx="67.8" cy="345.0" r="2.55"/><circle cx="67.8" cy="346.7" r="2.55"/><circle cx="67.8" cy="346.7" r="2.55"/><circle cx="67.8" cy="346.7" r="2.55"/><circle cx="67.8" cy="360.5" r="2.55"/><circle cx="67.8" cy="360.5" r="2.55"/><circle cx="66.5" cy="350.9" r="2.55"/><circle cx="67.8" cy="350.5" r="2.55"/><circle cx="67.8" cy="350.5" r="2.55"/><circle cx="66.5" cy="353.3" r="2.55"/><circle cx="66.5" cy="353.3" r="2.55"/><circle cx="67.8" cy="350.5" r="2.55"/><circle cx="66.5" cy="350.7" r="2.55"/><circle cx="66.5" cy="360.2" r="2.55"/><circle cx="66.5" cy="360.2" r="2.55"/><circle cx="66.5" cy="360.2" r="2.55"/><circle cx="66.5" cy="347.3" r="2.55"/><circle cx="67.8" cy="364.2" r="2.55"/><circle cx="67.8" cy="364.2" r="2.55"/><circle cx="67.8" cy="347.4" r="2.55"/><circle cx="67.8" cy="347.4" r="2.55"/><circle cx="67.8" cy="347.4" r="2.55"/><circle cx="66.5" cy="346.4" r="2.55"/><circle cx="66.5" cy="336.1" r="2.55"/><circle cx="67.8" cy="352.7" r="2.55"/><circle cx="67.8" cy="333.6" r="2.55"/><circle cx="66.5" cy="329.4" r="2.55"/><circle cx="69.1" cy="331.3" r="2.55"/><circle cx="75.6" cy="330.5" r="2.55"/><circle cx="75.6" cy="331.3" r="2.55"/><circle cx="74.3" cy="317.6" r="2.55"/><circle cx="75.6" cy="335.3" r="2.55"/><circle cx="74.3" cy="332.5" r="2.55"/><circle cx="73.0" cy="304.7" r="2.55"/><circle cx="75.6" cy="320.7" r="2.55"/><circle cx="75.6" cy="323.8" r="2.55"/><circle cx="74.3" cy="312.0" r="2.55"/><circle cx="75.6" cy="322.4" r="2.55"/><circle cx="74.3" cy="335.9" r="2.55"/><circle cx="75.6" cy="332.0" r="2.55"/><circle cx="75.6" cy="317.9" r="2.55"/><circle cx="74.3" cy="331.8" r="2.55"/><circle cx="74.3" cy="312.7" r="2.55"/><circle cx="76.9" cy="325.6" r="2.55"/><circle cx="75.6" cy="329.6" r="2.55"/><circle cx="74.3" cy="311.9" r="2.55"/><circle cx="76.9" cy="335.6" r="2.55"/><circle cx="108.1" cy="359.3" r="2.55"/><circle cx="108.1" cy="359.3" r="2.55"/><circle cx="108.1" cy="359.3" r="2.55"/><circle cx="106.8" cy="364.7" r="2.55"/><circle cx="106.8" cy="364.7" r="2.55"/><circle cx="106.8" cy="364.7" r="2.55"/><circle cx="108.1" cy="363.7" r="2.55"/><circle cx="106.8" cy="362.0" r="2.55"/><circle cx="108.1" cy="352.2" r="2.55"/><circle cx="108.1" cy="359.3" r="2.55"/><circle cx="106.8" cy="365.9" r="2.55"/><circle cx="108.1" cy="367.5" r="2.55"/><circle cx="108.1" cy="365.9" r="2.55"/><circle cx="108.1" cy="361.3" r="2.55"/><circle cx="108.1" cy="356.7" r="2.55"/><circle cx="108.1" cy="363.9" r="2.55"/><circle cx="108.1" cy="363.7" r="2.55"/><circle cx="108.1" cy="363.7" r="2.55"/><circle cx="108.1" cy="363.7" r="2.55"/><circle cx="106.8" cy="367.2" r="2.55"/><circle cx="108.1" cy="360.6" r="2.55"/><circle cx="108.1" cy="360.6" r="2.55"/><circle cx="108.1" cy="358.2" r="2.55"/><circle cx="108.1" cy="358.2" r="2.55"/><circle cx="106.8" cy="367.4" r="2.55"/><circle cx="108.1" cy="348.5" r="2.55"/><circle cx="108.1" cy="348.5" r="2.55"/><circle cx="108.1" cy="348.5" r="2.55"/><circle cx="108.1" cy="349.4" r="2.55"/><circle cx="108.1" cy="349.4" r="2.55"/><circle cx="108.1" cy="349.4" r="2.55"/><circle cx="108.1" cy="349.4" r="2.55"/><circle cx="108.1" cy="359.7" r="2.55"/><circle cx="108.1" cy="359.7" r="2.55"/><circle cx="108.1" cy="363.2" r="2.55"/><circle cx="108.1" cy="363.2" r="2.55"/><circle cx="106.8" cy="366.4" r="2.55"/><circle cx="106.8" cy="366.4" r="2.55"/><circle cx="108.1" cy="352.6" r="2.55"/><circle cx="108.1" cy="352.6" r="2.55"/><circle cx="108.1" cy="367.2" r="2.55"/><circle cx="108.1" cy="367.2" r="2.55"/><circle cx="108.1" cy="366.6" r="2.55"/><circle cx="108.1" cy="366.6" r="2.55"/><circle cx="108.1" cy="345.0" r="2.55"/><circle cx="108.1" cy="345.0" r="2.55"/><circle cx="108.1" cy="366.0" r="2.55"/><circle cx="108.1" cy="366.0" r="2.55"/><circle cx="108.1" cy="366.0" r="2.55"/><circle cx="108.1" cy="366.0" r="2.55"/><circle cx="108.1" cy="366.0" r="2.55"/><circle cx="108.1" cy="359.3" r="2.55"/><circle cx="108.1" cy="359.3" r="2.55"/><circle cx="108.1" cy="359.3" r="2.55"/><circle cx="108.1" cy="364.0" r="2.55"/><circle cx="108.1" cy="367.1" r="2.55"/><circle cx="108.1" cy="367.1" r="2.55"/><circle cx="108.1" cy="360.6" r="2.55"/><circle cx="108.1" cy="367.1" r="2.55"/><circle cx="108.1" cy="358.7" r="2.55"/><circle cx="109.4" cy="358.1" r="2.55"/><circle cx="108.1" cy="366.1" r="2.55"/><circle cx="108.1" cy="366.1" r="2.55"/><circle cx="108.1" cy="366.8" r="2.55"/><circle cx="108.1" cy="366.8" r="2.55"/><circle cx="108.1" cy="366.8" r="2.55"/><circle cx="108.1" cy="366.8" r="2.55"/><circle cx="108.1" cy="366.8" r="2.55"/><circle cx="108.1" cy="366.8" r="2.55"/><circle cx="108.1" cy="364.0" r="2.55"/><circle cx="108.1" cy="364.0" r="2.55"/><circle cx="109.4" cy="356.3" r="2.55"/><circle cx="106.8" cy="359.4" r="2.55"/><circle cx="106.8" cy="359.4" r="2.55"/><circle cx="106.8" cy="359.4" r="2.55"/><circle cx="106.8" cy="359.4" r="2.55"/><circle cx="186.1" cy="334.6" r="2.55"/><circle cx="184.8" cy="320.7" r="2.55"/><circle cx="188.7" cy="324.8" r="2.55"/><circle cx="183.5" cy="325.9" r="2.55"/><circle cx="186.1" cy="322.8" r="2.55"/><circle cx="187.4" cy="339.8" r="2.55"/><circle cx="187.4" cy="320.1" r="2.55"/><circle cx="188.7" cy="331.5" r="2.55"/><circle cx="187.4" cy="328.0" r="2.55"/><circle cx="186.1" cy="316.3" r="2.55"/><circle cx="186.1" cy="317.6" r="2.55"/><circle cx="186.1" cy="318.0" r="2.55"/><circle cx="187.4" cy="343.8" r="2.55"/><circle cx="188.7" cy="343.1" r="2.55"/><circle cx="187.4" cy="326.8" r="2.55"/><circle cx="186.1" cy="316.8" r="2.55"/><circle cx="183.5" cy="312.6" r="2.55"/><circle cx="188.7" cy="324.4" r="2.55"/><circle cx="188.7" cy="324.4" r="2.55"/><circle cx="188.7" cy="320.8" r="2.55"/><circle cx="190.0" cy="328.0" r="2.55"/><circle cx="183.5" cy="335.5" r="2.55"/><circle cx="182.2" cy="345.2" r="2.55"/><circle cx="182.2" cy="345.2" r="2.55"/><circle cx="182.2" cy="326.9" r="2.55"/><circle cx="179.6" cy="326.5" r="2.55"/><circle cx="182.2" cy="349.9" r="2.55"/><circle cx="182.2" cy="342.5" r="2.55"/><circle cx="182.2" cy="342.5" r="2.55"/><circle cx="182.2" cy="342.5" r="2.55"/><circle cx="182.2" cy="342.5" r="2.55"/><circle cx="180.9" cy="320.6" r="2.55"/><circle cx="182.2" cy="321.4" r="2.55"/><circle cx="180.9" cy="341.3" r="2.55"/><circle cx="179.6" cy="332.0" r="2.55"/><circle cx="182.2" cy="351.4" r="2.55"/><circle cx="183.5" cy="336.2" r="2.55"/><circle cx="180.9" cy="338.0" r="2.55"/><circle cx="180.9" cy="338.0" r="2.55"/><circle cx="195.2" cy="346.0" r="2.55"/><circle cx="197.8" cy="331.2" r="2.55"/><circle cx="193.9" cy="333.0" r="2.55"/><circle cx="196.5" cy="341.1" r="2.55"/><circle cx="192.6" cy="344.9" r="2.55"/><circle cx="192.6" cy="334.8" r="2.55"/><circle cx="192.6" cy="334.8" r="2.55"/><circle cx="192.6" cy="334.8" r="2.55"/><circle cx="197.8" cy="337.2" r="2.55"/><circle cx="196.5" cy="343.4" r="2.55"/><circle cx="192.6" cy="338.6" r="2.55"/><circle cx="192.6" cy="338.2" r="2.55"/><circle cx="192.6" cy="345.8" r="2.55"/><circle cx="195.2" cy="349.3" r="2.55"/><circle cx="195.2" cy="349.3" r="2.55"/><circle cx="195.2" cy="349.3" r="2.55"/></g>
<defs><linearGradient id="lg" gradientUnits="userSpaceOnUse" x1="49" y1="0" x2="414" y2="0"><stop offset="0" stop-color="#98efd0"/><stop offset="0.38" stop-color="#98efd0"/><stop offset="0.43" stop-color="#90ee90"/><stop offset="1" stop-color="#90ee90"/></linearGradient></defs>
<path d="M49.3 361L413.8 305.9" stroke="url(#lg)" stroke-width="1.7" stroke-dasharray="6.7 2.6" fill="none"/>
<g fill="none" stroke="#262626" stroke-width="0.95" stroke-linecap="round" stroke-linejoin="round"><path d="M96.9 383.2H361.1"/><path d="M100.9 379.9L96.9 383.2L100.9 386.5"/><path d="M357.1 379.9L361.1 383.2L357.1 386.5"/></g>
<text transform="rotate(0.05 60.05 39.4)" x="60.05" y="39.4" font-size="19.6" textLength="54.31" lengthAdjust="spacingAndGlyphs" class="ttl b">Figure</text>
<text transform="rotate(0.05 118.95 39.4)" x="118.95" y="39.4" font-size="19.6" textLength="29.87" lengthAdjust="spacingAndGlyphs" class="ttl b">3.12</text>
<text transform="rotate(0.05 153.75 39.4)" x="153.75" y="39.4" font-size="19.6" textLength="45.23" lengthAdjust="spacingAndGlyphs" class="ttl">More</text>
<text transform="rotate(0.05 203.05 39.4)" x="203.05" y="39.4" font-size="19.6" textLength="34.75" lengthAdjust="spacingAndGlyphs" class="ttl">EOL</text>
<text transform="rotate(0.05 242.35 39.4)" x="242.35" y="39.4" font-size="19.6" textLength="111.46" lengthAdjust="spacingAndGlyphs" class="ttl">Components</text>
<text transform="rotate(0.05 360.00 39.4)" x="360.00" y="39.4" font-size="19.6" textLength="28.63" lengthAdjust="spacingAndGlyphs" class="ttl">per</text>
<text transform="rotate(0.05 395.20 39.4)" x="395.20" y="39.4" font-size="19.6" textLength="98.0" lengthAdjust="spacingAndGlyphs" class="ttl">Application</text>
<text transform="rotate(0.05 497.35 39.4)" x="497.35" y="39.4" font-size="19.6" textLength="41.16" lengthAdjust="spacingAndGlyphs" class="ttl">Lead</text>
<text transform="rotate(0.05 544.10 39.4)" x="544.10" y="39.4" font-size="19.6" textLength="16.61" lengthAdjust="spacingAndGlyphs" class="ttl">to</text>
<text transform="rotate(0.05 565.45 39.4)" x="565.45" y="39.4" font-size="19.6" textLength="45.87" lengthAdjust="spacingAndGlyphs" class="ttl">More</text>
<text transform="translate(38.1,366.95) rotate(-90)" font-size="17" textLength="71.74" lengthAdjust="spacingAndGlyphs" class="lab">Non-EOL</text>
<text transform="translate(38.1,290.55) rotate(-90)" font-size="17" textLength="68.61" lengthAdjust="spacingAndGlyphs" class="lab">Package</text>
<text transform="translate(38.1,215.60) rotate(-90)" font-size="17" textLength="108.45" lengthAdjust="spacingAndGlyphs" class="lab">Vulnerabilities</text>
<text transform="rotate(0.05 44.90 387.0)" x="44.90" y="387.0" font-size="14.8" textLength="41.65" lengthAdjust="spacingAndGlyphs" class="lab it" font-style="italic">Lower</text>
<text transform="rotate(0.05 369.80 387.0)" x="369.80" y="387.0" font-size="14.8" textLength="46.15" lengthAdjust="spacingAndGlyphs" class="lab it" font-style="italic">Higher</text>
<text transform="rotate(0.05 57.50 410.6)" x="57.50" y="410.6" font-size="16.2" textLength="66.39" lengthAdjust="spacingAndGlyphs" class="lab">Number</text>
<text transform="rotate(0.05 130.10 410.6)" x="130.10" y="410.6" font-size="16.2" textLength="14.66" lengthAdjust="spacingAndGlyphs" class="lab">of</text>
<text transform="rotate(0.05 150.85 410.6)" x="150.85" y="410.6" font-size="16.2" textLength="33.39" lengthAdjust="spacingAndGlyphs" class="lab">EOL</text>
<text transform="rotate(0.05 189.65 410.6)" x="189.65" y="410.6" font-size="16.2" textLength="79.19" lengthAdjust="spacingAndGlyphs" class="lab">Packages</text>
<text transform="rotate(0.05 274.70 410.6)" x="274.70" y="410.6" font-size="16.2" textLength="25.0" lengthAdjust="spacingAndGlyphs" class="lab">per</text>
<text transform="rotate(0.05 307.00 410.6)" x="307.00" y="410.6" font-size="16.2" textLength="92.87" lengthAdjust="spacingAndGlyphs" class="lab">Application</text>
<text transform="rotate(0.05 235.00 63.7)" x="235.00" y="63.7" font-size="19.6" textLength="71.8" lengthAdjust="spacingAndGlyphs" class="ttl">Security</text>
<text transform="rotate(0.05 314.55 63.7)" x="314.55" y="63.7" font-size="19.6" textLength="121.95" lengthAdjust="spacingAndGlyphs" class="ttl">Vulnerabilities</text>
<text transform="rotate(0.05 42.90 441.0)" x="42.90" y="441.0" font-size="13.6" textLength="31.23" lengthAdjust="spacingAndGlyphs" class="lab">More</text>
<text transform="rotate(0.05 78.40 441.0)" x="78.40" y="441.0" font-size="13.6" textLength="26.78" lengthAdjust="spacingAndGlyphs" class="lab">EOL</text>
<text transform="rotate(0.05 108.20 441.0)" x="108.20" y="441.0" font-size="13.6" textLength="75.01" lengthAdjust="spacingAndGlyphs" class="lab">components</text>
<text transform="rotate(0.05 187.65 441.0)" x="187.65" y="441.0" font-size="13.6" textLength="19.69" lengthAdjust="spacingAndGlyphs" class="lab">per</text>
<text transform="rotate(0.05 212.00 441.0)" x="212.00" y="441.0" font-size="13.6" textLength="67.27" lengthAdjust="spacingAndGlyphs" class="lab">application</text>
<text transform="rotate(0.05 283.10 441.0)" x="283.10" y="441.0" font-size="13.6" textLength="51.07" lengthAdjust="spacingAndGlyphs" class="lab">correlate</text>
<text transform="rotate(0.05 339.70 441.0)" x="339.70" y="441.0" font-size="13.6" textLength="25.83" lengthAdjust="spacingAndGlyphs" class="lab">with</text>
<text transform="rotate(0.05 370.10 441.0)" x="370.10" y="441.0" font-size="13.6" textLength="6.72" lengthAdjust="spacingAndGlyphs" class="lab">a</text>
<text transform="rotate(0.05 381.15 441.0)" x="381.15" y="441.0" font-size="13.6" textLength="37.67" lengthAdjust="spacingAndGlyphs" class="lab">higher</text>
<text transform="rotate(0.05 423.55 441.0)" x="423.55" y="441.0" font-size="13.6" textLength="45.12" lengthAdjust="spacingAndGlyphs" class="lab">number</text>
<text transform="rotate(0.05 474.00 441.0)" x="474.00" y="441.0" font-size="13.6" textLength="11.66" lengthAdjust="spacingAndGlyphs" class="lab">of</text>
<text transform="rotate(0.05 489.75 441.0)" x="489.75" y="441.0" font-size="13.6" textLength="46.75" lengthAdjust="spacingAndGlyphs" class="lab">security</text>
<text transform="rotate(0.05 541.50 441.0)" x="541.50" y="441.0" font-size="13.6" textLength="87.87" lengthAdjust="spacingAndGlyphs" class="lab">vulnerabilities.</text>
</svg>
</body></html>
